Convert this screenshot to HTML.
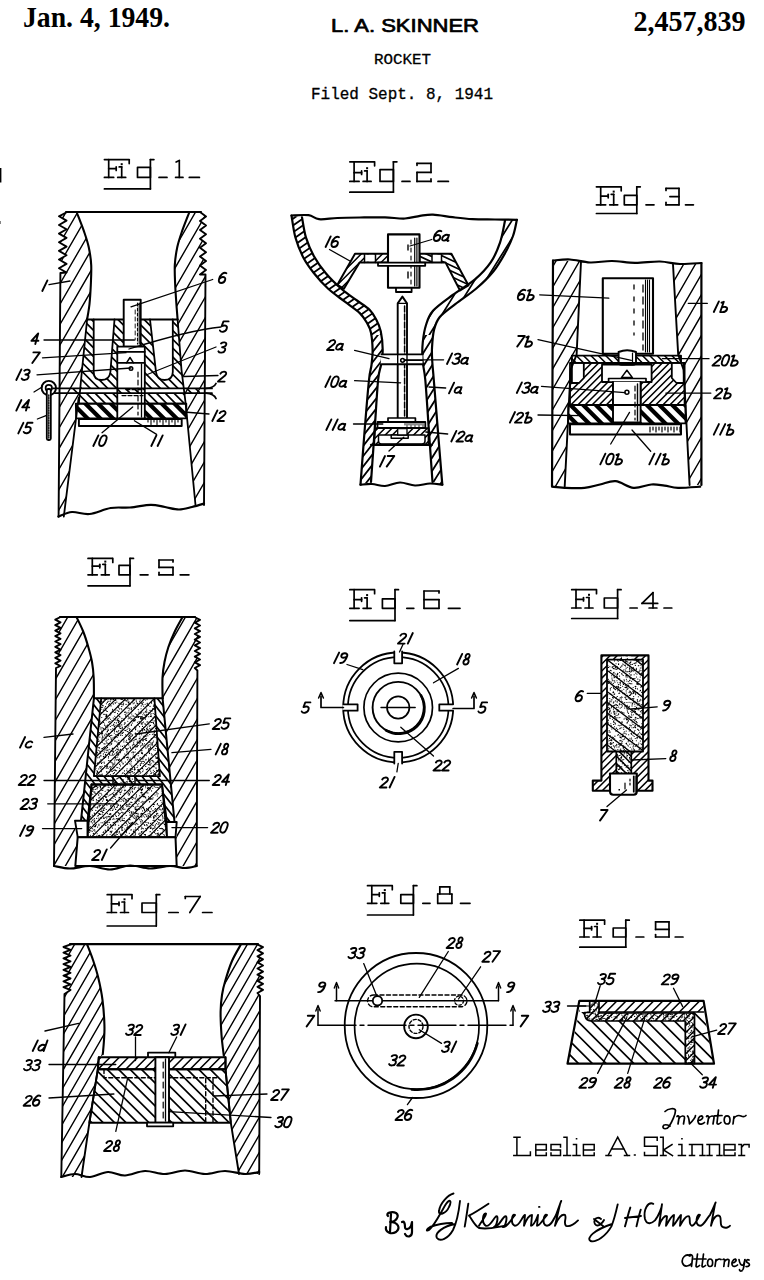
<!DOCTYPE html>
<html><head><meta charset="utf-8"><title>Rocket patent</title>
<style>html,body{margin:0;padding:0;background:#fff;width:764px;height:1280px;overflow:hidden}
svg{display:block;font-family:"Liberation Sans",sans-serif}</style></head>
<body><svg width="764" height="1280" viewBox="0 0 764 1280"><defs><pattern id="hW" width="10.4" height="10.4" patternUnits="userSpaceOnUse" patternTransform="rotate(30)"><line x1="5.2" y1="-2" x2="5.2" y2="12.4" stroke="#000" stroke-width="1.7"/></pattern><pattern id="hW2" width="9" height="9" patternUnits="userSpaceOnUse" patternTransform="rotate(35)"><line x1="4.5" y1="-2" x2="4.5" y2="11" stroke="#000" stroke-width="1.7"/></pattern><pattern id="hB" width="5.2" height="5.2" patternUnits="userSpaceOnUse" patternTransform="rotate(-45)"><line x1="2.6" y1="-2" x2="2.6" y2="7.2" stroke="#000" stroke-width="1.5"/></pattern><pattern id="hB6" width="6.2" height="6.2" patternUnits="userSpaceOnUse" patternTransform="rotate(-40)"><line x1="3.1" y1="-2" x2="3.1" y2="8.2" stroke="#000" stroke-width="1.7"/></pattern><pattern id="hF" width="5" height="5" patternUnits="userSpaceOnUse" patternTransform="rotate(45)"><line x1="2.5" y1="-2" x2="2.5" y2="7" stroke="#000" stroke-width="1.5"/></pattern><pattern id="hF6" width="6.5" height="6.5" patternUnits="userSpaceOnUse" patternTransform="rotate(45)"><line x1="3.2" y1="-2" x2="3.2" y2="8.5" stroke="#000" stroke-width="1.5"/></pattern><pattern id="hK" width="9" height="9" patternUnits="userSpaceOnUse" patternTransform="rotate(-45)"><line x1="4.5" y1="-2" x2="4.5" y2="11" stroke="#000" stroke-width="4.2"/></pattern><pattern id="hS" width="5" height="5" patternUnits="userSpaceOnUse" patternTransform="rotate(-45)"><line x1="2.5" y1="-2" x2="2.5" y2="7" stroke="#000" stroke-width="1.9"/></pattern><pattern id="hS2" width="7" height="7" patternUnits="userSpaceOnUse" patternTransform="rotate(40)"><line x1="3.5" y1="-2" x2="3.5" y2="9" stroke="#000" stroke-width="1.7"/></pattern><pattern id="hN" width="9" height="9" patternUnits="userSpaceOnUse" patternTransform="rotate(45)"><line x1="4.5" y1="-2" x2="4.5" y2="11" stroke="#000" stroke-width="1.5"/></pattern><pattern id="hN2" width="10" height="10" patternUnits="userSpaceOnUse" patternTransform="rotate(-55)"><line x1="5" y1="-2" x2="5" y2="12" stroke="#000" stroke-width="1.5"/></pattern><pattern id="st" width="14" height="14" patternUnits="userSpaceOnUse"><g fill="#000" stroke="none"><circle cx="3.3" cy="7.6" r="0.6"/><circle cx="5.2" cy="8.5" r="0.6"/><circle cx="8.8" cy="0.9" r="0.6"/><circle cx="0.2" cy="11.7" r="0.6"/><circle cx="3.6" cy="3.3" r="0.6"/><circle cx="13.9" cy="6.6" r="0.6"/><circle cx="11.7" cy="6.7" r="0.6"/><circle cx="8.9" cy="2.1" r="0.6"/><circle cx="8.9" cy="12.2" r="0.6"/><circle cx="7.3" cy="10.4" r="0.6"/><circle cx="9.4" cy="0.9" r="0.6"/><circle cx="10.6" cy="8.3" r="0.6"/><circle cx="4.2" cy="0.4" r="0.6"/><circle cx="12.1" cy="6.6" r="0.6"/><circle cx="10.1" cy="12.3" r="0.6"/><circle cx="10" cy="12.9" r="0.6"/><circle cx="5.5" cy="11.2" r="0.6"/><circle cx="6.2" cy="13.1" r="0.6"/><circle cx="12.3" cy="1.4" r="0.6"/><circle cx="1.9" cy="3" r="0.6"/><circle cx="13.5" cy="6.1" r="0.6"/><circle cx="8.8" cy="4.2" r="0.6"/><circle cx="7.1" cy="5.4" r="0.6"/><circle cx="4.9" cy="8.2" r="0.6"/><circle cx="8.2" cy="12.7" r="0.6"/><circle cx="9.5" cy="13" r="0.6"/></g></pattern></defs><rect width="764" height="1280" fill="#fff"/><g stroke="#000" stroke-linecap="round" stroke-linejoin="round" fill="#000" font-family="Liberation Sans" font-style="italic"><text stroke="none" font-style="normal" x="23" y="27" font-family="Liberation Serif" font-weight="bold" font-size="30" textLength="147" lengthAdjust="spacingAndGlyphs">Jan. 4, 1949.</text>
<text stroke="none" font-style="normal" x="633.5" y="31" font-family="Liberation Serif" font-weight="bold" font-size="29" textLength="112" lengthAdjust="spacingAndGlyphs">2,457,839</text>
<text stroke="#000" stroke-width="0.7" font-style="normal" x="331" y="32" font-family="Liberation Sans" font-size="18" textLength="148" lengthAdjust="spacingAndGlyphs">L. A. SKINNER</text>
<text stroke="#000" stroke-width="0.3" font-style="normal" x="374" y="64" font-family="Liberation Mono" font-size="15.5" textLength="57" lengthAdjust="spacingAndGlyphs">ROCKET</text>
<text stroke="#000" stroke-width="0.3" font-style="normal" x="311" y="99" font-family="Liberation Mono" font-size="16" textLength="182" lengthAdjust="spacingAndGlyphs">Filed Sept. 8, 1941</text>
<line x1="104.4" y1="159.6" x2="128.7" y2="159.6" stroke-width="1.7"/>
<line x1="129.2" y1="159.6" x2="129.2" y2="163.6" stroke-width="1.7"/>
<line x1="108.7" y1="159.6" x2="108.7" y2="177.4" stroke-width="1.7"/>
<line x1="108.7" y1="168.7" x2="116.2" y2="168.7" stroke-width="1.7"/>
<line x1="116.2" y1="166.9" x2="116.2" y2="170.4" stroke-width="1.7"/>
<line x1="104.4" y1="177.4" x2="113.7" y2="177.4" stroke-width="1.7"/>
<line x1="121.7" y1="166.9" x2="121.7" y2="177.4" stroke-width="1.7"/>
<line x1="119.2" y1="166.9" x2="121.7" y2="166.9" stroke-width="1.7"/>
<line x1="117.7" y1="177.4" x2="125.7" y2="177.4" stroke-width="1.7"/>
<rect x="120.7" y="163.2" width="2" height="2" stroke="none" fill="#000"/>
<rect x="137.5" y="167.3" width="12.9" height="10.1" stroke-width="1.7" fill="none"/>
<line x1="150.4" y1="159.6" x2="150.4" y2="188.9" stroke-width="1.7"/>
<line x1="150.4" y1="159.6" x2="153.9" y2="159.6" stroke-width="1.7"/>
<line x1="104.4" y1="188.9" x2="150.4" y2="188.9" stroke-width="1.7"/>
<line x1="159" y1="177.4" x2="167" y2="177.4" stroke-width="1.7"/>
<line x1="189.3" y1="177.4" x2="199.4" y2="177.4" stroke-width="1.7"/>
<line x1="179.3" y1="160.5" x2="179.3" y2="177.4" stroke-width="1.7"/>
<line x1="176.1" y1="162" x2="179.3" y2="160.5" stroke-width="1.7"/>
<line x1="175.6" y1="177.4" x2="183" y2="177.4" stroke-width="1.7"/>
<line x1="349.8" y1="161.8" x2="374.1" y2="161.8" stroke-width="1.7"/>
<line x1="374.6" y1="161.8" x2="374.6" y2="165.8" stroke-width="1.7"/>
<line x1="354.1" y1="161.8" x2="354.1" y2="181.4" stroke-width="1.7"/>
<line x1="354.1" y1="172.7" x2="361.6" y2="172.7" stroke-width="1.7"/>
<line x1="361.6" y1="170.9" x2="361.6" y2="174.4" stroke-width="1.7"/>
<line x1="349.8" y1="181.4" x2="359.1" y2="181.4" stroke-width="1.7"/>
<line x1="367.1" y1="170.9" x2="367.1" y2="181.4" stroke-width="1.7"/>
<line x1="364.6" y1="170.9" x2="367.1" y2="170.9" stroke-width="1.7"/>
<line x1="363.1" y1="181.4" x2="371.1" y2="181.4" stroke-width="1.7"/>
<rect x="366.1" y="167.2" width="2" height="2" stroke="none" fill="#000"/>
<rect x="380" y="169.6" width="13.4" height="11.8" stroke-width="1.7" fill="none"/>
<line x1="393.4" y1="161.8" x2="393.4" y2="192.2" stroke-width="1.7"/>
<line x1="393.4" y1="161.8" x2="396.9" y2="161.8" stroke-width="1.7"/>
<line x1="349.8" y1="192.2" x2="393.4" y2="192.2" stroke-width="1.7"/>
<line x1="402" y1="181.4" x2="410" y2="181.4" stroke-width="1.7"/>
<line x1="438" y1="181.4" x2="448.4" y2="181.4" stroke-width="1.7"/>
<line x1="417" y1="165.3" x2="417" y2="163.3" stroke-width="1.7"/>
<line x1="417" y1="163.3" x2="431" y2="163.3" stroke-width="1.7"/>
<line x1="431" y1="163.3" x2="431" y2="172.4" stroke-width="1.7"/>
<line x1="431" y1="172.4" x2="417" y2="172.4" stroke-width="1.7"/>
<line x1="417" y1="172.4" x2="417" y2="181.4" stroke-width="1.7"/>
<line x1="417" y1="181.4" x2="431" y2="181.4" stroke-width="1.7"/>
<line x1="431" y1="181.4" x2="431" y2="178.9" stroke-width="1.7"/>
<line x1="596.4" y1="186.8" x2="620.7" y2="186.8" stroke-width="1.7"/>
<line x1="621.2" y1="186.8" x2="621.2" y2="190.8" stroke-width="1.7"/>
<line x1="600.7" y1="186.8" x2="600.7" y2="204.8" stroke-width="1.7"/>
<line x1="600.7" y1="196.1" x2="608.2" y2="196.1" stroke-width="1.7"/>
<line x1="608.2" y1="194.3" x2="608.2" y2="197.8" stroke-width="1.7"/>
<line x1="596.4" y1="204.8" x2="605.7" y2="204.8" stroke-width="1.7"/>
<line x1="613.7" y1="194.3" x2="613.7" y2="204.8" stroke-width="1.7"/>
<line x1="611.2" y1="194.3" x2="613.7" y2="194.3" stroke-width="1.7"/>
<line x1="609.7" y1="204.8" x2="617.7" y2="204.8" stroke-width="1.7"/>
<rect x="612.7" y="190.6" width="2" height="2" stroke="none" fill="#000"/>
<rect x="624.3" y="195.4" width="12.5" height="9.4" stroke-width="1.7" fill="none"/>
<line x1="636.8" y1="186.8" x2="636.8" y2="213.5" stroke-width="1.7"/>
<line x1="636.8" y1="186.8" x2="640.3" y2="186.8" stroke-width="1.7"/>
<line x1="596.4" y1="213.5" x2="636.8" y2="213.5" stroke-width="1.7"/>
<line x1="646" y1="204.8" x2="654" y2="204.8" stroke-width="1.7"/>
<line x1="685.5" y1="204.8" x2="693.4" y2="204.8" stroke-width="1.7"/>
<line x1="666" y1="190.4" x2="666" y2="188.4" stroke-width="1.7"/>
<line x1="666" y1="188.4" x2="679" y2="188.4" stroke-width="1.7"/>
<line x1="679" y1="188.4" x2="679" y2="204.8" stroke-width="1.7"/>
<line x1="669.9" y1="196.6" x2="679" y2="196.6" stroke-width="1.7"/>
<line x1="666" y1="204.8" x2="679" y2="204.8" stroke-width="1.7"/>
<line x1="666" y1="204.8" x2="666" y2="202.3" stroke-width="1.7"/>
<line x1="88" y1="558.4" x2="112.3" y2="558.4" stroke-width="1.7"/>
<line x1="112.8" y1="558.4" x2="112.8" y2="562.4" stroke-width="1.7"/>
<line x1="92.3" y1="558.4" x2="92.3" y2="574.8" stroke-width="1.7"/>
<line x1="92.3" y1="566.1" x2="99.8" y2="566.1" stroke-width="1.7"/>
<line x1="99.8" y1="564.3" x2="99.8" y2="567.8" stroke-width="1.7"/>
<line x1="88" y1="574.8" x2="97.3" y2="574.8" stroke-width="1.7"/>
<line x1="105.3" y1="564.3" x2="105.3" y2="574.8" stroke-width="1.7"/>
<line x1="102.8" y1="564.3" x2="105.3" y2="564.3" stroke-width="1.7"/>
<line x1="101.3" y1="574.8" x2="109.3" y2="574.8" stroke-width="1.7"/>
<rect x="104.3" y="560.6" width="2" height="2" stroke="none" fill="#000"/>
<rect x="119" y="565.4" width="11" height="9.4" stroke-width="1.7" fill="none"/>
<line x1="130" y1="558.4" x2="130" y2="585.8" stroke-width="1.7"/>
<line x1="130" y1="558.4" x2="133.5" y2="558.4" stroke-width="1.7"/>
<line x1="88" y1="585.8" x2="130" y2="585.8" stroke-width="1.7"/>
<line x1="140.2" y1="574.8" x2="148" y2="574.8" stroke-width="1.7"/>
<line x1="180.2" y1="574.8" x2="188.9" y2="574.8" stroke-width="1.7"/>
<line x1="173" y1="562" x2="173" y2="560" stroke-width="1.7"/>
<line x1="173" y1="560" x2="159" y2="560" stroke-width="1.7"/>
<line x1="159" y1="560" x2="159" y2="567.4" stroke-width="1.7"/>
<line x1="159" y1="567.4" x2="173" y2="567.4" stroke-width="1.7"/>
<line x1="173" y1="567.4" x2="173" y2="574.8" stroke-width="1.7"/>
<line x1="173" y1="574.8" x2="159" y2="574.8" stroke-width="1.7"/>
<line x1="159" y1="574.8" x2="159" y2="572.3" stroke-width="1.7"/>
<line x1="349.8" y1="589.7" x2="374.1" y2="589.7" stroke-width="1.7"/>
<line x1="374.6" y1="589.7" x2="374.6" y2="593.7" stroke-width="1.7"/>
<line x1="354.1" y1="589.7" x2="354.1" y2="608.3" stroke-width="1.7"/>
<line x1="354.1" y1="599.6" x2="361.6" y2="599.6" stroke-width="1.7"/>
<line x1="361.6" y1="597.8" x2="361.6" y2="601.3" stroke-width="1.7"/>
<line x1="349.8" y1="608.3" x2="359.1" y2="608.3" stroke-width="1.7"/>
<line x1="367.1" y1="597.8" x2="367.1" y2="608.3" stroke-width="1.7"/>
<line x1="364.6" y1="597.8" x2="367.1" y2="597.8" stroke-width="1.7"/>
<line x1="363.1" y1="608.3" x2="371.1" y2="608.3" stroke-width="1.7"/>
<rect x="366.1" y="594.1" width="2" height="2" stroke="none" fill="#000"/>
<rect x="382.4" y="598.8" width="12.6" height="9.5" stroke-width="1.7" fill="none"/>
<line x1="395" y1="589.7" x2="395" y2="620.6" stroke-width="1.7"/>
<line x1="395" y1="589.7" x2="398.5" y2="589.7" stroke-width="1.7"/>
<line x1="349.8" y1="620.6" x2="395" y2="620.6" stroke-width="1.7"/>
<line x1="406.8" y1="608.3" x2="413.8" y2="608.3" stroke-width="1.7"/>
<line x1="448.4" y1="608.3" x2="460" y2="608.3" stroke-width="1.7"/>
<line x1="439" y1="593" x2="439" y2="591" stroke-width="1.7"/>
<line x1="439" y1="591" x2="424" y2="591" stroke-width="1.7"/>
<line x1="424" y1="591" x2="424" y2="608.3" stroke-width="1.7"/>
<line x1="424" y1="608.3" x2="439" y2="608.3" stroke-width="1.7"/>
<line x1="439" y1="608.3" x2="439" y2="599.6" stroke-width="1.7"/>
<line x1="439" y1="599.6" x2="424" y2="599.6" stroke-width="1.7"/>
<line x1="571.7" y1="589.7" x2="596" y2="589.7" stroke-width="1.7"/>
<line x1="596.5" y1="589.7" x2="596.5" y2="593.7" stroke-width="1.7"/>
<line x1="576" y1="589.7" x2="576" y2="608" stroke-width="1.7"/>
<line x1="576" y1="599.3" x2="583.5" y2="599.3" stroke-width="1.7"/>
<line x1="583.5" y1="597.5" x2="583.5" y2="601" stroke-width="1.7"/>
<line x1="571.7" y1="608" x2="581" y2="608" stroke-width="1.7"/>
<line x1="589" y1="597.5" x2="589" y2="608" stroke-width="1.7"/>
<line x1="586.5" y1="597.5" x2="589" y2="597.5" stroke-width="1.7"/>
<line x1="585" y1="608" x2="593" y2="608" stroke-width="1.7"/>
<rect x="588" y="593.8" width="2" height="2" stroke="none" fill="#000"/>
<rect x="604.3" y="598" width="13.3" height="10" stroke-width="1.7" fill="none"/>
<line x1="617.6" y1="589.7" x2="617.6" y2="618.5" stroke-width="1.7"/>
<line x1="617.6" y1="589.7" x2="621.1" y2="589.7" stroke-width="1.7"/>
<line x1="571.7" y1="618.5" x2="617.6" y2="618.5" stroke-width="1.7"/>
<line x1="630" y1="608" x2="637.2" y2="608" stroke-width="1.7"/>
<line x1="664" y1="608" x2="671.8" y2="608" stroke-width="1.7"/>
<line x1="653" y1="592.6" x2="642" y2="603.4" stroke-width="1.7"/>
<line x1="642" y1="603.4" x2="657.7" y2="603.4" stroke-width="1.7"/>
<line x1="653" y1="592.6" x2="653" y2="608" stroke-width="1.7"/>
<line x1="649.1" y1="608" x2="656.9" y2="608" stroke-width="1.7"/>
<line x1="107.2" y1="894.7" x2="131.5" y2="894.7" stroke-width="1.7"/>
<line x1="132" y1="894.7" x2="132" y2="898.7" stroke-width="1.7"/>
<line x1="111.5" y1="894.7" x2="111.5" y2="912.5" stroke-width="1.7"/>
<line x1="111.5" y1="903.8" x2="119" y2="903.8" stroke-width="1.7"/>
<line x1="119" y1="902" x2="119" y2="905.5" stroke-width="1.7"/>
<line x1="107.2" y1="912.5" x2="116.5" y2="912.5" stroke-width="1.7"/>
<line x1="124.5" y1="902" x2="124.5" y2="912.5" stroke-width="1.7"/>
<line x1="122" y1="902" x2="124.5" y2="902" stroke-width="1.7"/>
<line x1="120.5" y1="912.5" x2="128.5" y2="912.5" stroke-width="1.7"/>
<rect x="123.5" y="898.3" width="2" height="2" stroke="none" fill="#000"/>
<rect x="142" y="903" width="14.3" height="9.5" stroke-width="1.7" fill="none"/>
<line x1="156.3" y1="894.7" x2="156.3" y2="926" stroke-width="1.7"/>
<line x1="156.3" y1="894.7" x2="159.8" y2="894.7" stroke-width="1.7"/>
<line x1="107.2" y1="926" x2="156.3" y2="926" stroke-width="1.7"/>
<line x1="168.8" y1="912.5" x2="178.2" y2="912.5" stroke-width="1.7"/>
<line x1="202.6" y1="912.5" x2="212" y2="912.5" stroke-width="1.7"/>
<line x1="185.3" y1="898.5" x2="185.3" y2="896.5" stroke-width="1.7"/>
<line x1="185.3" y1="896.5" x2="200.2" y2="896.5" stroke-width="1.7"/>
<line x1="200.2" y1="896.5" x2="189.8" y2="912.5" stroke-width="1.7"/>
<line x1="367.5" y1="885.7" x2="391.8" y2="885.7" stroke-width="1.7"/>
<line x1="392.3" y1="885.7" x2="392.3" y2="889.7" stroke-width="1.7"/>
<line x1="371.8" y1="885.7" x2="371.8" y2="903.3" stroke-width="1.7"/>
<line x1="371.8" y1="894.6" x2="379.3" y2="894.6" stroke-width="1.7"/>
<line x1="379.3" y1="892.8" x2="379.3" y2="896.3" stroke-width="1.7"/>
<line x1="367.5" y1="903.3" x2="376.8" y2="903.3" stroke-width="1.7"/>
<line x1="384.8" y1="892.8" x2="384.8" y2="903.3" stroke-width="1.7"/>
<line x1="382.3" y1="892.8" x2="384.8" y2="892.8" stroke-width="1.7"/>
<line x1="380.8" y1="903.3" x2="388.8" y2="903.3" stroke-width="1.7"/>
<rect x="383.8" y="889.1" width="2" height="2" stroke="none" fill="#000"/>
<rect x="400.8" y="894.6" width="12.6" height="8.7" stroke-width="1.7" fill="none"/>
<line x1="413.4" y1="885.7" x2="413.4" y2="915" stroke-width="1.7"/>
<line x1="413.4" y1="885.7" x2="416.9" y2="885.7" stroke-width="1.7"/>
<line x1="367.5" y1="915" x2="413.4" y2="915" stroke-width="1.7"/>
<line x1="422.8" y1="903.3" x2="430" y2="903.3" stroke-width="1.7"/>
<line x1="460.5" y1="903.3" x2="470" y2="903.3" stroke-width="1.7"/>
<line x1="439.8" y1="886.8" x2="449.8" y2="886.8" stroke-width="1.7"/>
<line x1="439.8" y1="886.8" x2="439.8" y2="894" stroke-width="1.7"/>
<line x1="449.8" y1="886.8" x2="449.8" y2="894" stroke-width="1.7"/>
<line x1="437.7" y1="894" x2="451.9" y2="894" stroke-width="1.7"/>
<line x1="437.7" y1="894" x2="437.7" y2="903.3" stroke-width="1.7"/>
<line x1="451.9" y1="894" x2="451.9" y2="903.3" stroke-width="1.7"/>
<line x1="437.7" y1="903.3" x2="451.9" y2="903.3" stroke-width="1.7"/>
<line x1="579.8" y1="920.2" x2="604.1" y2="920.2" stroke-width="1.7"/>
<line x1="604.6" y1="920.2" x2="604.6" y2="924.2" stroke-width="1.7"/>
<line x1="584.1" y1="920.2" x2="584.1" y2="937" stroke-width="1.7"/>
<line x1="584.1" y1="928.3" x2="591.6" y2="928.3" stroke-width="1.7"/>
<line x1="591.6" y1="926.5" x2="591.6" y2="930" stroke-width="1.7"/>
<line x1="579.8" y1="937" x2="589.1" y2="937" stroke-width="1.7"/>
<line x1="597.1" y1="926.5" x2="597.1" y2="937" stroke-width="1.7"/>
<line x1="594.6" y1="926.5" x2="597.1" y2="926.5" stroke-width="1.7"/>
<line x1="593.1" y1="937" x2="601.1" y2="937" stroke-width="1.7"/>
<rect x="596.1" y="922.8" width="2" height="2" stroke="none" fill="#000"/>
<rect x="613.2" y="928" width="12.6" height="9" stroke-width="1.7" fill="none"/>
<line x1="625.8" y1="920.2" x2="625.8" y2="947.2" stroke-width="1.7"/>
<line x1="625.8" y1="920.2" x2="629.3" y2="920.2" stroke-width="1.7"/>
<line x1="579.8" y1="947.2" x2="625.8" y2="947.2" stroke-width="1.7"/>
<line x1="636" y1="937" x2="643.8" y2="937" stroke-width="1.7"/>
<line x1="675.2" y1="937" x2="683" y2="937" stroke-width="1.7"/>
<line x1="655.6" y1="921.8" x2="669" y2="921.8" stroke-width="1.7"/>
<line x1="655.6" y1="921.8" x2="655.6" y2="929.4" stroke-width="1.7"/>
<line x1="655.6" y1="929.4" x2="669" y2="929.4" stroke-width="1.7"/>
<line x1="669" y1="921.8" x2="669" y2="937" stroke-width="1.7"/>
<line x1="669" y1="937" x2="655.6" y2="937" stroke-width="1.7"/>
<line x1="655.6" y1="937" x2="655.6" y2="934.5" stroke-width="1.7"/>
<clipPath id="c1"><path clip-rule="nonzero" d="M67 212 L59 216.3 L66.5 220.6 L59 225 L66.5 229.3 L59 233.6 L66.5 237.9 L59 242.2 L66.5 246.6 L59 250.9 L66.5 255.2 L59 259.5 L66.5 263.9 L59 268.2 L66.5 272.5 L60.4 273 L58.6 516.6 L63.8 516.6 L78.6 398 L82 370 L87.1 319.5 C87.5 316.9 88.9 309.8 89.5 304 C90.1 298.2 90.5 291.5 90.8 285 C91.1 278.5 91.5 271.3 91.2 265 C90.9 258.7 89.9 252.6 88.7 247 C87.5 241.4 86 237.2 84 231.4 C82 225.6 77.8 215.2 76.6 212 Z"/></clipPath><g clip-path="url(#c1)"><path d="M-147 417.8 L10.4 145.2 M-138.2 422.9 L19.2 150.3 M-129.3 428 L28.1 155.4 M-120.5 433.1 L36.9 160.5 M-111.7 438.2 L45.7 165.6 M-102.8 443.3 L54.6 170.7 M-94 448.4 L63.4 175.8 M-85.2 453.5 L72.2 180.9 M-76.3 458.6 L81.1 186 M-67.5 463.7 L89.9 191.1 M-58.7 468.8 L98.7 196.2 M-49.8 473.9 L107.6 201.3 M-41 479 L116.4 206.4 M-32.2 484.1 L125.2 211.5 M-23.3 489.2 L134.1 216.6 M-14.5 494.3 L142.9 221.7 M-5.7 499.4 L151.7 226.8 M3.2 504.5 L160.6 231.9 M12 509.6 L169.4 237 M20.8 514.7 L178.2 242.1 M29.7 519.8 L187.1 247.2 M38.5 524.9 L195.9 252.3 M47.3 530 L204.7 257.4 M56.2 535.1 L213.6 262.5 M65 540.2 L222.4 267.6 M73.8 545.3 L231.2 272.7 M82.7 550.4 L240.1 277.8 M91.5 555.5 L248.9 282.9 M100.3 560.6 L257.7 288 M109.2 565.7 L266.6 293.1 M118 570.8 L275.4 298.2 M126.8 575.9 L284.2 303.3 M135.7 581 L293.1 308.4" stroke-width="1.4" fill="none"/></g>
<path d="M67 212 L59 216.3 L66.5 220.6 L59 225 L66.5 229.3 L59 233.6 L66.5 237.9 L59 242.2 L66.5 246.6 L59 250.9 L66.5 255.2 L59 259.5 L66.5 263.9 L59 268.2 L66.5 272.5 L60.4 273 L58.6 516.6" stroke-width="1.9" fill="none"/>
<path d="M76.6 212 C77.8 215.2 82 225.6 84 231.4 C86 237.2 87.5 241.4 88.7 247 C89.9 252.6 90.9 258.7 91.2 265 C91.5 271.3 91.1 278.5 90.8 285 C90.5 291.5 90.1 298.2 89.5 304 C88.9 309.8 87.5 316.9 87.1 319.5" stroke-width="2.1" fill="none"/>
<path d="M63.8 516.6 L78.6 398" stroke-width="1.8" fill="none"/>
<clipPath id="c2"><path clip-rule="nonzero" d="M200 212 L206 216.5 L200 220.9 L206 225.4 L200 229.9 L206 234.3 L200 238.8 L206 243.2 L200 247.7 L206 252.2 L200 256.6 L206 261.1 L200 265.6 L206 270 L200 274.5 L205.5 274.5 L204 505 L195.5 505 L185.6 403 L181.5 370 L177.6 319.5 C177.4 316.9 176.8 309.8 176.4 304 C176 298.2 175.5 291.5 175.2 285 C174.9 278.5 174.5 271.3 174.8 265 C175.2 258.7 176.1 252.6 177.3 247 C178.5 241.4 180 237.2 182 231.4 C184 225.6 188.2 215.2 189.4 212 Z"/></clipPath><g clip-path="url(#c2)"><path d="M-24.4 409.5 L127.1 147 M-15.6 414.6 L135.9 152.1 M-6.8 419.7 L144.8 157.2 M2.1 424.8 L153.6 162.3 M10.9 429.9 L162.4 167.4 M19.7 435 L171.3 172.5 M28.6 440.1 L180.1 177.6 M37.4 445.2 L188.9 182.7 M46.2 450.3 L197.8 187.8 M55.1 455.4 L206.6 192.9 M63.9 460.5 L215.4 198 M72.7 465.6 L224.3 203.1 M81.6 470.7 L233.1 208.2 M90.4 475.8 L241.9 213.3 M99.2 480.9 L250.8 218.4 M108.1 486 L259.6 223.5 M116.9 491.1 L268.4 228.6 M125.7 496.2 L277.3 233.7 M134.6 501.3 L286.1 238.8 M143.4 506.4 L294.9 243.9 M152.2 511.5 L303.8 249 M161.1 516.6 L312.6 254.1 M169.9 521.7 L321.4 259.2 M178.7 526.8 L330.3 264.3 M187.6 531.9 L339.1 269.4 M196.4 537 L347.9 274.5 M205.2 542.1 L356.8 279.6 M214.1 547.2 L365.6 284.7 M222.9 552.3 L374.4 289.8 M231.7 557.4 L383.3 294.9 M240.6 562.5 L392.1 300 M249.4 567.6 L400.9 305.1" stroke-width="1.4" fill="none"/></g>
<path d="M200 212 L206 216.5 L200 220.9 L206 225.4 L200 229.9 L206 234.3 L200 238.8 L206 243.2 L200 247.7 L206 252.2 L200 256.6 L206 261.1 L200 265.6 L206 270 L200 274.5 L205.5 274.5 L204 505" stroke-width="1.9" fill="none"/>
<path d="M189.4 212 C188.2 215.2 184 225.6 182 231.4 C180 237.2 178.5 241.4 177.3 247 C176.1 252.6 175.2 258.7 174.8 265 C174.5 271.3 174.9 278.5 175.2 285 C175.5 291.5 176 298.2 176.4 304 C176.8 309.8 177.4 316.9 177.6 319.5" stroke-width="2.1" fill="none"/>
<path d="M195.5 505 L185.6 403 L181.5 370 L177.6 319.5" stroke-width="1.8" fill="none"/>
<line x1="66" y1="212" x2="201" y2="212" stroke-width="2.1"/>
<path d="M58.4 516.6 C60.7 515.8 66.8 512.4 72 512 C77.2 511.6 83 514.7 89.5 514 C96 513.3 104 509.1 110.7 508 C117.5 506.9 123.3 508 130 507.5 C136.7 507 144.9 504.9 150.7 504.8 C156.5 504.7 160.3 506.2 165 507 C169.7 507.8 174.5 509.5 179 509.5 C183.5 509.5 187.8 508 192 507 C196.2 506 202 504.2 204 503.6" stroke-width="2.2" fill="none"/>
<clipPath id="hc1"><path clip-rule="evenodd" d="M87.1 319.5 L177.6 319.5 L181.5 370 L184 389 L184.8 403.6 L78.8 403.6 L80.2 389 L82 370 Z M93.7 319.5 L93.7 372 Q93.7 380 101.5 380 Q109.5 380 110.4 372 L114.5 319.5 Z M150 319.5 L156 372 Q157 380 164.5 380 Q172.5 380 172.8 372 L172.8 319.5 Z M123.7 319.5 L140.7 319.5 L140.7 346.6 L144.8 346.6 L144.8 403.6 L117.3 403.6 L117.3 346.6 L123.7 346.6 Z M70 388.6 L200 388.6 L200 393.4 L70 393.4 Z"/></clipPath>
<g clip-path="url(#hc1)"><path d="M137.9 234.3 L260.7 357.1 M133.5 238.7 L256.3 361.5 M129.1 243.1 L251.9 365.9 M124.7 247.5 L247.5 370.3 M120.4 251.9 L243.1 374.6 M116 256.3 L238.7 379 M111.6 260.6 L234.4 383.4 M107.2 265 L230 387.8 M102.8 269.4 L225.6 392.2 M98.4 273.8 L221.2 396.6 M94 278.2 L216.8 401 M89.7 282.6 L212.4 405.3 M85.3 286.9 L208.1 409.7 M80.9 291.3 L203.7 414.1 M76.5 295.7 L199.3 418.5 M72.1 300.1 L194.9 422.9 M67.7 304.5 L190.5 427.3 M63.4 308.9 L186.1 431.6 M59 313.3 L181.7 436 M54.6 317.6 L177.4 440.4 M50.2 322 L173 444.8 M45.8 326.4 L168.6 449.2 M41.4 330.8 L164.2 453.6 M37.1 335.2 L159.8 457.9 M32.7 339.6 L155.4 462.3 M28.3 343.9 L151.1 466.7 M23.9 348.3 L146.7 471.1 M19.5 352.7 L142.3 475.5 M15.1 357.1 L137.9 479.9 M10.8 361.5 L133.5 484.2" stroke-width="1.7" fill="none"/></g>
<path d="M93.7 319.5 L93.7 372 Q93.7 380 101.5 380 Q109.5 380 110.4 372 L114.5 319.5" stroke-width="1.8" fill="none"/>
<path d="M150 319.5 L156 372 Q157 380 164.5 380 Q172.5 380 172.8 372 L172.8 319.5" stroke-width="1.8" fill="none"/>
<line x1="87.1" y1="319.5" x2="177.6" y2="319.5" stroke-width="1.8"/>
<line x1="78.8" y1="403.6" x2="184.8" y2="403.6" stroke-width="1.7"/>
<rect x="123.7" y="299.8" width="17" height="46.8" fill="#fff" stroke-width="1.9"/>
<line x1="137.5" y1="303" x2="137.5" y2="344" stroke-width="1.1" stroke-dasharray="3 2"/>
<line x1="139.2" y1="303" x2="139.2" y2="344" stroke-width="1.1"/>
<line x1="135.2" y1="310" x2="135.2" y2="340" stroke-width="0.9" stroke-dasharray="4 3"/>
<rect x="117.3" y="346.6" width="27.5" height="5.2" fill="#fff" stroke-width="1.8"/>
<line x1="117.3" y1="351.8" x2="117.3" y2="418.5" stroke-width="1.8"/>
<line x1="144.8" y1="351.8" x2="144.8" y2="418.5" stroke-width="1.8"/>
<line x1="117.3" y1="362.9" x2="144.8" y2="362.9" stroke-width="1.7"/>
<path d="M126.5 362.9 L130 357.5 L133.5 362.9" stroke-width="1.5" fill="none"/>
<circle cx="131" cy="368.5" r="1.8" fill="none" stroke-width="1.4"/>
<line x1="141.5" y1="364" x2="141.5" y2="417" stroke-width="1.3"/>
<line x1="138" y1="372" x2="138" y2="415" stroke-width="1.2" stroke-dasharray="5 3"/>
<line x1="126" y1="389.7" x2="143" y2="389.7" stroke-width="1.2" stroke-dasharray="4 2"/>
<line x1="122" y1="395.6" x2="143" y2="395.6" stroke-width="1.2" stroke-dasharray="4 2"/>
<line x1="53" y1="388.4" x2="212" y2="388.4" stroke-width="1.8"/>
<line x1="55" y1="393.2" x2="212" y2="393.2" stroke-width="1.8"/>
<path d="M206 388.4 Q214 388 216 383.5" stroke-width="1.8" fill="none"/>
<path d="M206 393.2 Q214 394 216 398.5" stroke-width="1.8" fill="none"/>
<circle cx="48.8" cy="388.1" r="7.2" fill="none" stroke-width="1.9"/>
<circle cx="48.8" cy="388.1" r="3.2" fill="none" stroke-width="1.7"/>
<rect x="46.8" y="389" width="4" height="51" rx="1.5" fill="#fff" stroke-width="1.8"/>
<line x1="48.8" y1="395" x2="48.8" y2="438" stroke-width="1.4" stroke-dasharray="1.2 1.3"/>
<clipPath id="wc1"><path d="M75.8 403.6 L117.3 403.6 L117.3 418.3 L76.2 418.3 Z M144.8 403.6 L186.3 403.6 L186.3 418.3 L144.8 418.3 Z"/></clipPath>
<g clip-path="url(#wc1)"><path d="M140.6 306.1 L239.9 405.4 M134.2 312.4 L233.6 411.8 M127.9 318.8 L227.2 418.1 M121.5 325.1 L220.9 424.5 M115.1 331.5 L214.5 430.9 M108.8 337.9 L208.1 437.2 M102.4 344.2 L201.8 443.6 M96 350.6 L195.4 450 M89.7 357 L189 456.3 M83.3 363.3 L182.7 462.7 M77 369.7 L176.3 469 M70.6 376.1 L169.9 475.4 M64.2 382.4 L163.6 481.8 M57.9 388.8 L157.2 488.1 M51.5 395.2 L150.8 494.5 M45.1 401.5 L144.5 500.9 M38.8 407.9 L138.1 507.2 M32.4 414.2 L131.8 513.6" stroke-width="4.2" fill="none"/></g>
<path d="M75.8 403.6 L186.3 403.6 L186.3 418.3 L76.2 418.3 Z" stroke-width="1.8" fill="none"/>
<rect x="78.9" y="419" width="102.8" height="7" fill="#fff" stroke-width="1.9"/>
<line x1="148" y1="420.5" x2="148" y2="422" stroke-width="1.1"/>
<line x1="151" y1="420.5" x2="151" y2="424.5" stroke-width="1.1"/>
<line x1="154" y1="420.5" x2="154" y2="422" stroke-width="1.1"/>
<line x1="157" y1="420.5" x2="157" y2="424.5" stroke-width="1.1"/>
<line x1="160" y1="420.5" x2="160" y2="422" stroke-width="1.1"/>
<line x1="163" y1="420.5" x2="163" y2="424.5" stroke-width="1.1"/>
<line x1="166" y1="420.5" x2="166" y2="422" stroke-width="1.1"/>
<line x1="169" y1="420.5" x2="169" y2="424.5" stroke-width="1.1"/>
<line x1="172" y1="420.5" x2="172" y2="422" stroke-width="1.1"/>
<line x1="175" y1="420.5" x2="175" y2="424.5" stroke-width="1.1"/>
<line x1="178" y1="420.5" x2="178" y2="422" stroke-width="1.1"/>
<path d="M 47.4 280.4 L 42.3 291" stroke-width="1.9" fill="none"/>
<path d="M 226.4 273.2 C 224.2 271.6 220.2 274.5 219 279.3 C 218.3 281.9 219.6 283 221.2 283 C 223.3 283 224.8 281.4 225.2 279.8 C 225.7 277.7 224.3 277 222.8 277 C 221.2 277 219.8 278.2 219 279.3" stroke-width="1.9" fill="none"/>
<path d="M 38.2 333.4 L 31.4 340.8 L 38.4 340.8 M 38.2 333.4 L 35.3 344" stroke-width="1.9" fill="none"/>
<path d="M 228.6 321.4 L 223.5 321.4 L 221.7 326 C 224.5 324.9 227.8 325.4 226.7 328.8 C 225.5 332.5 220.7 332.5 219.9 330.5" stroke-width="1.9" fill="none"/>
<path d="M 33.4 352.4 L 39.9 352.4 L 32.3 363" stroke-width="1.9" fill="none"/>
<path d="M 221 343.4 C 223 341.8 227.2 341.9 226.2 344.8 C 225.6 346.7 223.1 347.2 222.1 347.2 C 225.3 347.2 225.5 349 225 350.3 C 223.9 353.2 219.1 353.2 218.4 351.3" stroke-width="1.9" fill="none"/>
<path d="M 21.4 369.4 L 16.3 380 M 24.3 370.7 C 26.3 369.1 30.5 369.2 29.6 372.1 C 29 374 26.5 374.5 25.4 374.5 C 28.6 374.5 28.9 376.3 28.4 377.6 C 27.3 380.5 22.5 380.5 21.7 378.6" stroke-width="1.9" fill="none"/>
<path d="M 220.4 373.7 C 221.5 371.2 227 370.7 226.1 374 C 225.5 376.3 219.7 379 218 381.6 L 224.6 381.6" stroke-width="1.9" fill="none"/>
<path d="M 21.4 400 L 16.3 410.6 M 29 400 L 22.2 407.4 L 29.2 407.4 M 29 400 L 26 410.6" stroke-width="1.9" fill="none"/>
<path d="M 23.4 422.8 L 18.3 433.4 M 32.5 422.8 L 27.4 422.8 L 25.6 427.4 C 28.4 426.3 31.6 426.8 30.5 430.2 C 29.4 433.9 24.6 433.9 23.7 431.9" stroke-width="1.9" fill="none"/>
<path d="M 217.4 410.4 L 212.3 421 M 219.7 413.1 C 220.9 410.6 226.3 410.1 225.5 413.4 C 224.9 415.7 219.1 418.4 217.4 421 L 223.9 421" stroke-width="1.9" fill="none"/>
<path d="M 98.4 435.4 L 93.3 446 M 104.3 435.4 C 102 435.4 100 439.6 99.3 442.3 C 98.6 444.9 99.7 446 101.5 446 C 104 446 105.8 441.8 106.5 439.1 C 107.2 436.5 106 435.4 104.3 435.4 Z" stroke-width="1.9" fill="none"/>
<path d="M 156.4 435.4 L 151.3 446 M 162.7 435.4 L 157.6 446" stroke-width="1.9" fill="none"/>
<line x1="49" y1="284.7" x2="70" y2="281" stroke-width="1.3"/>
<line x1="212.7" y1="279.5" x2="131" y2="306.8" stroke-width="1.3"/>
<line x1="44" y1="340" x2="134.4" y2="340" stroke-width="1.3"/>
<line x1="126" y1="352.7" x2="42.5" y2="357.8" stroke-width="1.3"/>
<line x1="216" y1="347" x2="146" y2="375" stroke-width="1.3"/>
<line x1="37" y1="374.8" x2="131" y2="368" stroke-width="1.3"/>
<line x1="218" y1="375.5" x2="184" y2="376.5" stroke-width="1.3"/>
<line x1="34" y1="392" x2="42.5" y2="386.8" stroke-width="1.3"/>
<line x1="37.4" y1="419" x2="46" y2="415.7" stroke-width="1.3"/>
<line x1="209" y1="414" x2="184" y2="412" stroke-width="1.3"/>
<line x1="102" y1="432.7" x2="132.7" y2="407" stroke-width="1.3"/>
<line x1="156.6" y1="434.4" x2="134.4" y2="420.8" stroke-width="1.3"/>
<path d="M221 327 Q190 330 129 349" stroke-width="1.3" fill="none"/>
<path d="M87.1 319.5 L82 370 L80.2 389 L78.8 403.6" stroke-width="1.8" fill="none"/>
<rect x="0" y="168" width="1.4" height="14.5" stroke="none"/>
<rect x="0" y="221" width="0.9" height="3" stroke="none" fill="#777"/>
<clipPath id="y2top"><rect x="280" y="200" width="260" height="135"/></clipPath><clipPath id="y2bot"><rect x="280" y="335" width="260" height="160"/></clipPath>
<g clip-path="url(#y2top)"><clipPath id="c4"><path clip-rule="nonzero" d="M291.5 215.5 C292.2 219.2 293.5 230.7 295.5 237.7 C297.5 244.7 300.2 251.5 303.3 257.4 C306.4 263.3 309.7 267.8 313.8 273 C317.9 278.2 323 284 328.2 288.8 C333.4 293.6 339.9 297.8 345.2 301.9 C350.5 305.9 356.2 309.6 359.8 313.1 C363.4 316.6 365.1 319.6 367 322.9 C368.9 326.2 370.1 328.2 371 332.7 C371.9 337.2 372.5 344.6 372.6 350 C372.7 355.4 372.1 360 371.5 365 C370.9 370 370.2 368.8 369 380 C367.8 391.2 365.9 414.6 364.5 432 C363.1 449.4 361.2 475.9 360.5 484.7 L371 482 C371.6 473.7 373.3 449 374.5 432 C375.7 415 377 391.2 378.1 380 C379.2 368.8 380.2 370 381 365 C381.8 360 382.7 355.6 382.7 350 C382.7 344.4 381.9 336.5 380.8 331.4 C379.7 326.3 378.1 323.2 376.2 319.6 C374.3 316 372.8 313 369.6 309.8 C366.4 306.6 361.7 304 357 300.5 C352.3 297 346.5 293.4 341.3 288.8 C336.1 284.2 330.2 278.5 325.6 273 C321 267.5 317.1 261.9 313.8 256 C310.5 250.1 308 244.1 306 237.7 C304 231.3 302.7 220.8 302 217.4 Z"/></clipPath><g clip-path="url(#c4)"><path d="M131.1 311.6 L371.3 143.3 M134.3 316.1 L374.6 147.9 M137.5 320.7 L377.8 152.5 M140.7 325.3 L381 157.1 M143.9 329.9 L384.2 161.7 M147.1 334.5 L387.4 166.3 M150.4 339.1 L390.6 170.8 M153.6 343.7 L393.8 175.4 M156.8 348.3 L397 180 M160 352.8 L400.3 184.6 M163.2 357.4 L403.5 189.2 M166.4 362 L406.7 193.8 M169.6 366.6 L409.9 198.4 M172.8 371.2 L413.1 203 M176 375.8 L416.3 207.5 M179.3 380.4 L419.5 212.1 M182.5 385 L422.7 216.7 M185.7 389.5 L426 221.3 M188.9 394.1 L429.2 225.9 M192.1 398.7 L432.4 230.5 M195.3 403.3 L435.6 235.1 M198.5 407.9 L438.8 239.7 M201.7 412.5 L442 244.2 M205 417.1 L445.2 248.8 M208.2 421.7 L448.4 253.4 M211.4 426.2 L451.6 258 M214.6 430.8 L454.9 262.6 M217.8 435.4 L458.1 267.2 M221 440 L461.3 271.8 M224.2 444.6 L464.5 276.4 M227.4 449.2 L467.7 280.9 M230.7 453.8 L470.9 285.5 M233.9 458.4 L474.1 290.1 M237.1 462.9 L477.3 294.7 M240.3 467.5 L480.6 299.3 M243.5 472.1 L483.8 303.9 M246.7 476.7 L487 308.5 M249.9 481.3 L490.2 313.1 M253.1 485.9 L493.4 317.6 M256.3 490.5 L496.6 322.2 M259.6 495.1 L499.8 326.8 M262.8 499.6 L503 331.4 M266 504.2 L506.3 336 M269.2 508.8 L509.5 340.6 M272.4 513.4 L512.7 345.2 M275.6 518 L515.9 349.7 M278.8 522.6 L519.1 354.3 M282 527.2 L522.3 358.9 M285.3 531.7 L525.5 363.5 M288.5 536.3 L528.7 368.1 M291.7 540.9 L531.9 372.7 M294.9 545.5 L535.2 377.3 M298.1 550.1 L538.4 381.9 M301.3 554.7 L541.6 386.4" stroke-width="1.8" fill="none"/></g><clipPath id="c5"><path clip-rule="nonzero" d="M516.9 219.8 C516.2 222.5 515 230.4 513 236 C511 241.6 508.3 247.3 505 253.2 C501.7 259.1 498.1 265.6 493.3 271.5 C488.5 277.4 482.6 283.1 476.3 288.5 C470 293.9 461.4 299.4 455.3 304.2 C449.2 309 443.2 313 439.6 317.3 C436.1 321.6 435.3 324.9 434 330 C432.7 335.1 432.3 342.7 432 348 C431.7 353.3 432 356.7 432.3 362 C432.6 367.3 432.9 368.3 433.8 380 C434.8 391.7 436.6 414.6 438 432 C439.4 449.4 441.6 475.9 442.3 484.7 L432.5 482 C431.9 473.7 430.2 449 429 432 C427.8 415 426.4 392 425.3 380 C424.2 368 422.9 366.3 422.5 360 C422.1 353.7 422.2 347.8 422.8 342 C423.4 336.2 424.3 330.2 426 325 C427.7 319.8 428.6 315.8 433 310.8 C437.4 305.8 445.7 300.2 452.7 295 C459.7 289.8 468.7 284.8 475 279.4 C481.3 274 486.5 268.5 490.7 262.4 C494.9 256.3 497.6 249.7 500 242.7 C502.4 235.7 504.2 224.2 505 220.5 Z"/></clipPath><g clip-path="url(#c5)"><path d="M267.2 397.1 L421.1 150.7 M275.2 402.1 L429.2 155.8 M283.3 407.2 L437.2 160.8 M291.3 412.2 L445.3 165.8 M299.4 417.2 L453.3 170.9 M307.5 422.3 L461.4 175.9 M315.5 427.3 L469.4 181 M323.6 432.3 L477.5 186 M331.6 437.4 L485.6 191 M339.7 442.4 L493.6 196.1 M347.7 447.4 L501.7 201.1 M355.8 452.5 L509.7 206.1 M363.9 457.5 L517.8 211.2 M371.9 462.5 L525.8 216.2 M380 467.6 L533.9 221.2 M388 472.6 L542 226.3 M396.1 477.6 L550 231.3 M404.1 482.7 L558.1 236.3 M412.2 487.7 L566.1 241.4 M420.2 492.7 L574.2 246.4 M428.3 497.8 L582.2 251.4 M436.4 502.8 L590.3 256.5 M444.4 507.8 L598.3 261.5 M452.5 512.9 L606.4 266.5 M460.5 517.9 L614.5 271.6 M468.6 522.9 L622.5 276.6 M476.6 528 L630.6 281.6 M484.7 533 L638.6 286.7 M492.8 538 L646.7 291.7 M500.8 543.1 L654.7 296.7 M508.9 548.1 L662.8 301.8 M516.9 553.1 L670.9 306.8" stroke-width="1.7" fill="none"/></g></g>
<g clip-path="url(#y2bot)"><clipPath id="c6"><path clip-rule="nonzero" d="M291.5 215.5 C292.2 219.2 293.5 230.7 295.5 237.7 C297.5 244.7 300.2 251.5 303.3 257.4 C306.4 263.3 309.7 267.8 313.8 273 C317.9 278.2 323 284 328.2 288.8 C333.4 293.6 339.9 297.8 345.2 301.9 C350.5 305.9 356.2 309.6 359.8 313.1 C363.4 316.6 365.1 319.6 367 322.9 C368.9 326.2 370.1 328.2 371 332.7 C371.9 337.2 372.5 344.6 372.6 350 C372.7 355.4 372.1 360 371.5 365 C370.9 370 370.2 368.8 369 380 C367.8 391.2 365.9 414.6 364.5 432 C363.1 449.4 361.2 475.9 360.5 484.7 L371 482 C371.6 473.7 373.3 449 374.5 432 C375.7 415 377 391.2 378.1 380 C379.2 368.8 380.2 370 381 365 C381.8 360 382.7 355.6 382.7 350 C382.7 344.4 381.9 336.5 380.8 331.4 C379.7 326.3 378.1 323.2 376.2 319.6 C374.3 316 372.8 313 369.6 309.8 C366.4 306.6 361.7 304 357 300.5 C352.3 297 346.5 293.4 341.3 288.8 C336.1 284.2 330.2 278.5 325.6 273 C321 267.5 317.1 261.9 313.8 256 C310.5 250.1 308 244.1 306 237.7 C304 231.3 302.7 220.8 302 217.4 Z"/></clipPath><g clip-path="url(#c6)"><path d="M130.8 375 L311.3 143.9 M135.7 378.9 L316.3 147.7 M140.7 382.7 L321.3 151.6 M145.6 386.6 L326.2 155.5 M150.6 390.5 L331.2 159.4 M155.6 394.4 L336.2 163.3 M160.5 398.3 L341.1 167.1 M165.5 402.1 L346.1 171 M170.5 406 L351 174.9 M175.4 409.9 L356 178.8 M180.4 413.8 L361 182.6 M185.4 417.7 L365.9 186.5 M190.3 421.5 L370.9 190.4 M195.3 425.4 L375.9 194.3 M200.3 429.3 L380.8 198.2 M205.2 433.2 L385.8 202 M210.2 437 L390.8 205.9 M215.1 440.9 L395.7 209.8 M220.1 444.8 L400.7 213.7 M225.1 448.7 L405.7 217.6 M230 452.6 L410.6 221.4 M235 456.4 L415.6 225.3 M240 460.3 L420.5 229.2 M244.9 464.2 L425.5 233.1 M249.9 468.1 L430.5 236.9 M254.9 472 L435.4 240.8 M259.8 475.8 L440.4 244.7 M264.8 479.7 L445.4 248.6 M269.8 483.6 L450.3 252.5 M274.7 487.5 L455.3 256.3 M279.7 491.4 L460.3 260.2 M284.6 495.2 L465.2 264.1 M289.6 499.1 L470.2 268 M294.6 503 L475.2 271.9 M299.5 506.9 L480.1 275.7 M304.5 510.7 L485.1 279.6 M309.5 514.6 L490.1 283.5 M314.4 518.5 L495 287.4 M319.4 522.4 L500 291.2 M324.4 526.3 L504.9 295.1 M329.3 530.1 L509.9 299 M334.3 534 L514.9 302.9 M339.3 537.9 L519.8 306.8 M344.2 541.8 L524.8 310.6 M349.2 545.7 L529.8 314.5 M354.2 549.5 L534.7 318.4 M359.1 553.4 L539.7 322.3 M364.1 557.3 L544.7 326.2" stroke-width="1.8" fill="none"/></g><clipPath id="c7"><path clip-rule="nonzero" d="M516.9 219.8 C516.2 222.5 515 230.4 513 236 C511 241.6 508.3 247.3 505 253.2 C501.7 259.1 498.1 265.6 493.3 271.5 C488.5 277.4 482.6 283.1 476.3 288.5 C470 293.9 461.4 299.4 455.3 304.2 C449.2 309 443.2 313 439.6 317.3 C436.1 321.6 435.3 324.9 434 330 C432.7 335.1 432.3 342.7 432 348 C431.7 353.3 432 356.7 432.3 362 C432.6 367.3 432.9 368.3 433.8 380 C434.8 391.7 436.6 414.6 438 432 C439.4 449.4 441.6 475.9 442.3 484.7 L432.5 482 C431.9 473.7 430.2 449 429 432 C427.8 415 426.4 392 425.3 380 C424.2 368 422.9 366.3 422.5 360 C422.1 353.7 422.2 347.8 422.8 342 C423.4 336.2 424.3 330.2 426 325 C427.7 319.8 428.6 315.8 433 310.8 C437.4 305.8 445.7 300.2 452.7 295 C459.7 289.8 468.7 284.8 475 279.4 C481.3 274 486.5 268.5 490.7 262.4 C494.9 256.3 497.6 249.7 500 242.7 C502.4 235.7 504.2 224.2 505 220.5 Z"/></clipPath><g clip-path="url(#c7)"><path d="M264.6 395.5 L418.6 149.2 M270.6 399.2 L424.5 152.9 M276.5 402.9 L430.4 156.6 M282.4 406.6 L436.4 160.3 M288.4 410.3 L442.3 164 M294.3 414 L448.2 167.7 M300.2 417.8 L454.2 171.4 M306.2 421.5 L460.1 175.1 M312.1 425.2 L466.1 178.8 M318.1 428.9 L472 182.5 M324 432.6 L477.9 186.3 M329.9 436.3 L483.9 190 M335.9 440 L489.8 193.7 M341.8 443.7 L495.7 197.4 M347.7 447.4 L501.7 201.1 M353.7 451.1 L507.6 204.8 M359.6 454.8 L513.5 208.5 M365.5 458.6 L519.5 212.2 M371.5 462.3 L525.4 215.9 M377.4 466 L531.4 219.6 M383.4 469.7 L537.3 223.3 M389.3 473.4 L543.2 227.1 M395.2 477.1 L549.2 230.8 M401.2 480.8 L555.1 234.5 M407.1 484.5 L561 238.2 M413 488.2 L567 241.9 M419 491.9 L572.9 245.6 M424.9 495.6 L578.8 249.3 M430.8 499.4 L584.8 253 M436.8 503.1 L590.7 256.7 M442.7 506.8 L596.6 260.4 M448.7 510.5 L602.6 264.1 M454.6 514.2 L608.5 267.9 M460.5 517.9 L614.5 271.6 M466.5 521.6 L620.4 275.3 M472.4 525.3 L626.3 279 M478.3 529 L632.3 282.7 M484.3 532.7 L638.2 286.4 M490.2 536.5 L644.1 290.1 M496.1 540.2 L650.1 293.8 M502.1 543.9 L656 297.5 M508 547.6 L661.9 301.2 M514 551.3 L667.9 305 M519.9 555 L673.8 308.7" stroke-width="1.8" fill="none"/></g></g>
<path d="M291.5 215.5 C292.2 219.2 293.5 230.7 295.5 237.7 C297.5 244.7 300.2 251.5 303.3 257.4 C306.4 263.3 309.7 267.8 313.8 273 C317.9 278.2 323 284 328.2 288.8 C333.4 293.6 339.9 297.8 345.2 301.9 C350.5 305.9 356.2 309.6 359.8 313.1 C363.4 316.6 365.1 319.6 367 322.9 C368.9 326.2 370.1 328.2 371 332.7 C371.9 337.2 372.5 344.6 372.6 350 C372.7 355.4 372.1 360 371.5 365 C370.9 370 370.2 368.8 369 380 C367.8 391.2 365.9 414.6 364.5 432 C363.1 449.4 361.2 475.9 360.5 484.7" stroke-width="2.2" fill="none"/>
<path d="M302 217.4 C302.7 220.8 304 231.3 306 237.7 C308 244.1 310.5 250.1 313.8 256 C317.1 261.9 321 267.5 325.6 273 C330.2 278.5 336.1 284.2 341.3 288.8 C346.5 293.4 352.3 297 357 300.5 C361.7 304 366.4 306.6 369.6 309.8 C372.8 313 374.3 316 376.2 319.6 C378.1 323.2 379.7 326.3 380.8 331.4 C381.9 336.5 382.7 344.4 382.7 350 C382.7 355.6 381.8 360 381 365 C380.2 370 379.2 368.8 378.1 380 C377 391.2 375.7 415 374.5 432 C373.3 449 371.6 473.7 371 482" stroke-width="2.2" fill="none"/>
<path d="M505 220.5 C504.2 224.2 502.4 235.7 500 242.7 C497.6 249.7 494.9 256.3 490.7 262.4 C486.5 268.5 481.3 274 475 279.4 C468.7 284.8 459.7 289.8 452.7 295 C445.7 300.2 437.4 305.8 433 310.8 C428.6 315.8 427.7 319.8 426 325 C424.3 330.2 423.4 336.2 422.8 342 C422.2 347.8 422.1 353.7 422.5 360 C422.9 366.3 424.2 368 425.3 380 C426.4 392 427.8 415 429 432 C430.2 449 431.9 473.7 432.5 482" stroke-width="2.2" fill="none"/>
<path d="M516.9 219.8 C516.2 222.5 515 230.4 513 236 C511 241.6 508.3 247.3 505 253.2 C501.7 259.1 498.1 265.6 493.3 271.5 C488.5 277.4 482.6 283.1 476.3 288.5 C470 293.9 461.4 299.4 455.3 304.2 C449.2 309 443.2 313 439.6 317.3 C436.1 321.6 435.3 324.9 434 330 C432.7 335.1 432.3 342.7 432 348 C431.7 353.3 432 356.7 432.3 362 C432.6 367.3 432.9 368.3 433.8 380 C434.8 391.7 436.6 414.6 438 432 C439.4 449.4 441.6 475.9 442.3 484.7" stroke-width="2.2" fill="none"/>
<path d="M291.5 215.5 C294.4 215.4 304 214.6 308.6 215.2 C313.2 215.8 314.2 218.7 319 219.2 C323.8 219.7 330.6 218.3 337.4 218 C344.2 217.7 352.1 217.6 360 217.5 C367.9 217.4 377.5 217.2 385 217.4 C392.5 217.6 399.2 218.8 405 218.5 C410.8 218.2 415.3 216.6 420 215.9 C424.7 215.2 427.6 214.4 433 214.6 C438.4 214.8 446.1 216.4 452.7 217.2 C459.3 218 465.3 218.8 472.4 219.2 C479.4 219.6 487.6 219.4 495 219.5 C502.4 219.6 513.2 219.8 516.9 219.8" stroke-width="2.2" fill="none"/>
<path d="M360.5 484.7 C362.4 484.6 367.9 483.8 372 484 C376.1 484.2 380.3 486.2 385 486 C389.7 485.8 395 482.6 400 482.5 C405 482.4 410 485.3 415 485.5 C420 485.7 425.4 483.6 430 483.5 C434.6 483.4 440.2 484.5 442.3 484.7" stroke-width="2.2" fill="none"/>
<clipPath id="c8"><path clip-rule="nonzero" d="M337.4 284.8 L355 253.8 L388 253.8 L388 262.4 L359.6 262.4 L343.9 288.8 Z"/></clipPath><g clip-path="url(#c8)"><path d="M310.5 269.4 L360.8 219.1 M314 272.9 L364.3 222.6 M317.5 276.4 L367.8 226.1 M321.1 280 L371.4 229.7 M324.6 283.5 L374.9 233.2 M328.2 287 L378.4 236.8 M331.7 290.6 L382 240.3 M335.2 294.1 L385.5 243.8 M338.8 297.6 L389 247.4 M342.3 301.2 L392.6 250.9 M345.8 304.7 L396.1 254.4 M349.4 308.2 L399.6 258 M352.9 311.8 L403.2 261.5 M356.4 315.3 L406.7 265 M360 318.8 L410.2 268.6 M363.5 322.4 L413.8 272.1" stroke-width="1.5" fill="none"/></g>
<clipPath id="c9"><path clip-rule="nonzero" d="M468.4 285.3 L451.4 253.8 L419.5 253.8 L419.5 262.4 L445.5 262.4 L460 290.5 Z"/></clipPath><g clip-path="url(#c9)"><path d="M428.4 221.8 L492.5 251.7 M426.3 226.4 L490.4 256.3 M424.2 230.9 L488.3 260.8 M422 235.4 L486.2 265.3 M419.9 240 L484.1 269.9 M417.8 244.5 L481.9 274.4 M415.7 249 L479.8 278.9 M413.6 253.5 L477.7 283.4 M411.5 258.1 L475.6 288 M409.4 262.6 L473.5 292.5 M407.3 267.1 L471.4 297 M405.1 271.7 L469.3 301.6 M403 276.2 L467.1 306.1 M400.9 280.7 L465 310.6 M398.8 285.3 L462.9 315.2 M396.7 289.8 L460.8 319.7" stroke-width="1.7" fill="none"/></g>
<rect x="364.5" y="254.5" width="10.5" height="7.2" fill="#fff" stroke="none"/>
<rect x="432" y="254.5" width="9.5" height="7.2" fill="#fff" stroke="none"/>
<path d="M337.4 284.8 L355 253.8 L388 253.8 L388 262.4 L359.6 262.4 L343.9 288.8 Z" stroke-width="2" fill="none"/>
<path d="M468.4 285.3 L451.4 253.8 L419.5 253.8 L419.5 262.4 L445.5 262.4 L460 290.5 Z" stroke-width="2" fill="none"/>
<line x1="364.5" y1="253.8" x2="364.5" y2="262.4" stroke-width="1.5"/>
<line x1="375.5" y1="253.8" x2="375.5" y2="262.4" stroke-width="1.5"/>
<line x1="432" y1="253.8" x2="432" y2="262.4" stroke-width="1.5"/>
<line x1="441.5" y1="253.8" x2="441.5" y2="262.4" stroke-width="1.5"/>
<rect x="388" y="234.4" width="31.5" height="53.4" fill="#fff" stroke-width="2.1"/>
<line x1="414.7" y1="238" x2="414.7" y2="286" stroke-width="1.2"/>
<line x1="416.9" y1="238" x2="416.9" y2="286" stroke-width="1.2"/>
<line x1="411" y1="240" x2="411" y2="285" stroke-width="1.1" stroke-dasharray="4 4"/>
<line x1="408" y1="245" x2="408" y2="250" stroke-width="1.4"/>
<line x1="408" y1="272" x2="408" y2="278" stroke-width="1.4"/>
<rect x="378" y="262.7" width="47.2" height="3.1" fill="#fff" stroke-width="1.8"/>
<rect x="396" y="287.8" width="15.6" height="4.2" fill="#fff" stroke-width="1.8"/>
<path d="M397.7 418 L397.7 303.4 L402.4 296.6 L407 303.4 L407 418" stroke-width="1.9" fill="#fff"/>
<line x1="397.7" y1="303.4" x2="407" y2="303.4" stroke-width="1.3"/>
<line x1="404.6" y1="306" x2="404.6" y2="416" stroke-width="1.5" stroke-dasharray="6 2"/>
<path d="M380.8 354.4 L422.5 354.4 L422.5 364.2 L380.8 364.2 Z" fill="#fff" stroke="none"/>
<line x1="381.5" y1="354.4" x2="422.5" y2="354.4" stroke-width="1.9"/>
<line x1="381.5" y1="364.2" x2="422.5" y2="364.2" stroke-width="1.9"/>
<line x1="397.7" y1="354.4" x2="397.7" y2="364.2" stroke-width="1.4"/>
<line x1="407" y1="354.4" x2="407" y2="364.2" stroke-width="1.4"/>
<circle cx="402.6" cy="360.3" r="1.9" fill="#fff" stroke-width="1.5"/>
<line x1="404.5" y1="360.3" x2="422.5" y2="360.3" stroke-width="1.3"/>
<rect x="388" y="418" width="27.4" height="3.9" fill="#fff" stroke-width="1.7"/>
<rect x="377.5" y="422" width="47.8" height="5.8" fill="#fff" stroke-width="1.8"/>
<line x1="405" y1="423.5" x2="405" y2="425" stroke-width="0.9"/>
<line x1="407" y1="423.5" x2="407" y2="426.5" stroke-width="0.9"/>
<line x1="409" y1="423.5" x2="409" y2="425" stroke-width="0.9"/>
<line x1="411" y1="423.5" x2="411" y2="426.5" stroke-width="0.9"/>
<line x1="413" y1="423.5" x2="413" y2="425" stroke-width="0.9"/>
<line x1="415" y1="423.5" x2="415" y2="426.5" stroke-width="0.9"/>
<line x1="417" y1="423.5" x2="417" y2="425" stroke-width="0.9"/>
<line x1="419" y1="423.5" x2="419" y2="426.5" stroke-width="0.9"/>
<line x1="421" y1="423.5" x2="421" y2="425" stroke-width="0.9"/>
<line x1="423" y1="423.5" x2="423" y2="426.5" stroke-width="0.9"/>
<clipPath id="hold2"><path clip-rule="evenodd" d="M374.9 428.2 L428.5 428.2 L428.5 444.8 L374.2 444.8 Z M378.5 435 L425 435 L425 441 Q425 444 422 444 L381.5 444 Q378.5 444 378.5 441 Z"/></clipPath>
<g clip-path="url(#hold2)"><path d="M344.9 432.9 L397.9 379.9 M348.5 436.4 L401.4 383.5 M352 440 L405 387 M355.5 443.5 L408.5 390.5 M359.1 447 L412 394.1 M362.6 450.6 L415.6 397.6 M366.1 454.1 L419.1 401.1 M369.7 457.7 L422.7 404.7 M373.2 461.2 L426.2 408.2 M376.7 464.7 L429.7 411.7 M380.3 468.3 L433.3 415.3 M383.8 471.8 L436.8 418.8 M387.3 475.3 L440.3 422.3 M390.9 478.9 L443.9 425.9 M394.4 482.4 L447.4 429.4 M397.9 485.9 L450.9 432.9 M401.5 489.5 L454.5 436.5" stroke-width="1.5" fill="none"/></g>
<path d="M374.9 428.2 L428.5 428.2 L428.5 444.8 L374.2 444.8 Z" stroke-width="1.8" fill="none"/>
<path d="M378.5 435 L425 435 L425 441 Q425 444 422 444 L381.5 444 Q378.5 444 378.5 441 Z" stroke-width="1.5" fill="none"/>
<rect x="391.2" y="435" width="17" height="3.2" fill="#fff" stroke-width="1.5"/>
<rect x="397.7" y="428.5" width="9.3" height="6.5" fill="#fff" stroke-width="1.3"/>
<line x1="371" y1="444.8" x2="432" y2="444.8" stroke-width="2.2"/>
<path d="M 330.7 236.4 L 325.6 247 M 339 237.2 C 336.8 235.6 332.9 238.5 331.6 243.3 C 330.9 245.9 332.2 247 333.8 247 C 336 247 337.4 245.4 337.8 243.8 C 338.4 241.7 337 241 335.4 241 C 333.8 241 332.4 242.2 331.6 243.3" stroke-width="1.9" fill="none"/>
<path d="M 441.4 231.2 C 439.2 229.6 435.2 232.5 434 237.3 C 433.3 239.9 434.6 241 436.2 241 C 438.3 241 439.8 239.4 440.2 237.8 C 440.7 235.7 439.3 235 437.8 235 C 436.2 235 434.8 236.2 434 237.3 M 448.7 235.7 C 447.5 234.2 443.2 234.4 442.2 238.3 C 441.3 241.5 446.1 241.5 448.3 237.3 M 449 234.9 L 447.3 239.9 C 447 241 447.8 241.2 448.5 240.8" stroke-width="1.9" fill="none"/>
<path d="M 329.4 342.1 C 330.5 339.6 336 339.1 335.1 342.4 C 334.5 344.7 328.7 347.4 327 350 L 333.6 350 M 342.7 344.7 C 341.5 343.2 337.2 343.4 336.2 347.4 C 335.3 350.5 340.1 350.5 342.3 346.3 M 343 343.9 L 341.3 348.9 C 341 350 341.8 350.2 342.5 349.8" stroke-width="1.9" fill="none"/>
<path d="M 452.1 353.4 L 447 364 M 455 354.7 C 457 353.1 461.2 353.2 460.3 356.1 C 459.7 358 457.2 358.5 456.1 358.5 C 459.3 358.5 459.6 360.3 459.1 361.6 C 458 364.5 453.2 364.5 452.4 362.6 M 467.7 358.7 C 466.5 357.2 462.2 357.4 461.2 361.4 C 460.4 364.5 465.2 364.5 467.3 360.3 M 468.1 357.9 L 466.3 362.9 C 466.1 364 466.8 364.2 467.6 363.8" stroke-width="1.9" fill="none"/>
<path d="M 330.4 376.4 L 325.3 387 M 336.3 376.4 C 334 376.4 332 380.6 331.3 383.3 C 330.6 385.9 331.7 387 333.5 387 C 336 387 337.8 382.8 338.5 380.1 C 339.2 377.5 338 376.4 336.3 376.4 Z M 346 381.7 C 344.8 380.2 340.5 380.4 339.5 384.4 C 338.7 387.5 343.5 387.5 345.6 383.3 M 346.4 380.9 L 344.6 385.9 C 344.4 387 345.1 387.2 345.9 386.8" stroke-width="1.9" fill="none"/>
<path d="M 454.1 382.7 L 449 393.3 M 461.3 388 C 460.1 386.5 455.8 386.7 454.7 390.7 C 453.9 393.8 458.7 393.8 460.9 389.6 M 461.6 387.2 L 459.8 392.2 C 459.6 393.3 460.4 393.5 461.1 393.1" stroke-width="1.9" fill="none"/>
<path d="M 331.4 419.4 L 326.3 430 M 337.7 419.4 L 332.6 430 M 344.9 424.7 C 343.7 423.2 339.4 423.4 338.4 427.4 C 337.6 430.5 342.4 430.5 344.5 426.3 M 345.3 423.9 L 343.5 428.9 C 343.2 430 344 430.2 344.8 429.8" stroke-width="1.9" fill="none"/>
<path d="M 456.4 430.9 L 451.3 441.5 M 458.7 433.6 C 459.9 431.1 465.3 430.6 464.5 433.9 C 463.9 436.2 458.1 438.9 456.4 441.5 L 462.9 441.5 M 472 436.2 C 470.8 434.7 466.5 434.9 465.5 438.9 C 464.7 442 469.5 442 471.6 437.8 M 472.4 435.4 L 470.6 440.4 C 470.4 441.5 471.1 441.7 471.9 441.3" stroke-width="1.9" fill="none"/>
<path d="M 385 456 L 379.9 466.6 M 387.7 456 L 394.3 456 L 386.7 466.6" stroke-width="1.9" fill="none"/>
<line x1="329.5" y1="249.5" x2="350.4" y2="261.3" stroke-width="1.3"/>
<line x1="431.8" y1="239.5" x2="410" y2="246" stroke-width="1.3"/>
<line x1="354.6" y1="350.4" x2="389" y2="358.7" stroke-width="1.3"/>
<line x1="443.6" y1="359.8" x2="404" y2="359.8" stroke-width="1.3"/>
<line x1="354.6" y1="380.7" x2="400.6" y2="382.8" stroke-width="1.3"/>
<line x1="445.7" y1="388" x2="429" y2="387" stroke-width="1.3"/>
<line x1="353.5" y1="424" x2="382.8" y2="424" stroke-width="1.3"/>
<line x1="447.7" y1="434" x2="425.8" y2="432" stroke-width="1.3"/>
<line x1="389" y1="451" x2="403.8" y2="437.3" stroke-width="1.3"/>
<clipPath id="c10"><path clip-rule="nonzero" d="M553 260.5 L581 261.5 L576.6 354.7 L570.6 370 L564.7 486.5 L552 486.5 Z"/></clipPath><g clip-path="url(#c10)"><path d="M397.8 412.6 L516 207.9 M406.6 417.7 L524.8 213 M415.5 422.8 L533.7 218.1 M424.3 427.9 L542.5 223.2 M433.1 433 L551.3 228.3 M442 438.1 L560.2 233.4 M450.8 443.2 L569 238.5 M459.6 448.3 L577.8 243.6 M468.5 453.4 L586.7 248.7 M477.3 458.5 L595.5 253.8 M486.1 463.6 L604.3 258.9 M495 468.7 L613.2 264 M503.8 473.8 L622 269.1 M512.6 478.9 L630.8 274.2 M521.5 484 L639.7 279.3 M530.3 489.1 L648.5 284.4 M539.1 494.2 L657.3 289.5 M548 499.3 L666.2 294.6 M556.8 504.4 L675 299.7 M565.6 509.5 L683.8 304.8 M574.5 514.6 L692.7 309.9 M583.3 519.7 L701.5 315 M592.1 524.8 L710.3 320.1 M601 529.9 L719.2 325.2 M609.8 535 L728 330.3" stroke-width="1.4" fill="none"/></g>
<clipPath id="c11"><path clip-rule="nonzero" d="M673 264.5 L701.4 263 L701.4 485 L689.6 485 L683.7 370 L678.2 354.7 Z"/></clipPath><g clip-path="url(#c11)"><path d="M526 415 L642.1 213.8 M534.8 420.1 L650.9 218.9 M543.6 425.2 L659.8 224 M552.5 430.3 L668.6 229.1 M561.3 435.4 L677.4 234.2 M570.1 440.5 L686.3 239.3 M579 445.6 L695.1 244.4 M587.8 450.7 L703.9 249.5 M596.6 455.8 L712.8 254.6 M605.5 460.9 L721.6 259.7 M614.3 466 L730.4 264.8 M623.1 471.1 L739.3 269.9 M632 476.2 L748.1 275 M640.8 481.3 L756.9 280.1 M649.6 486.4 L765.8 285.2 M658.5 491.5 L774.6 290.3 M667.3 496.6 L783.4 295.4 M676.1 501.7 L792.3 300.5 M685 506.8 L801.1 305.6 M693.8 511.9 L809.9 310.7 M702.6 517 L818.8 315.8 M711.5 522.1 L827.6 320.9 M720.3 527.2 L836.4 326 M729.1 532.3 L845.3 331.1 M738 537.4 L854.1 336.2" stroke-width="1.4" fill="none"/></g>
<line x1="553" y1="260.5" x2="552" y2="486.5" stroke-width="2.2"/>
<line x1="701.4" y1="263" x2="701.4" y2="485" stroke-width="2.2"/>
<path d="M581 261.5 L576.6 354.7 L570.6 370 L564.7 486.5" stroke-width="1.9" fill="none"/>
<path d="M673 264.5 L678.2 354.7 L683.7 370 L689.6 485" stroke-width="1.9" fill="none"/>
<path d="M553 260.5 C555.8 260.3 563.8 259.2 570 259.5 C576.2 259.8 583 262.2 590 262.5 C597 262.8 604.5 260.9 612 261 C619.5 261.1 627 262.7 635 262.8 C643 262.9 652.5 261.3 660 261.5 C667.5 261.7 673.1 263.8 680 264 C686.9 264.2 697.8 263.2 701.4 263" stroke-width="2.2" fill="none"/>
<path d="M552.2 486.7 C554.2 486.9 559.1 487.6 564.5 487.8 C569.9 488 578.6 488.4 584.5 487.8 C590.4 487.2 594.8 485.6 600 484.5 C605.2 483.4 610.1 480.6 615.7 481.2 C621.3 481.8 627.6 487.2 633.5 487.8 C639.4 488.4 646.1 484.9 651.3 484.5 C656.5 484.1 660.1 485.1 664.6 485.6 C669.1 486.2 672.1 487.6 678 487.8 C683.9 488 696.5 486.9 700.2 486.7" stroke-width="2.2" fill="none"/>
<rect x="602.8" y="278.3" width="50.2" height="75.4" fill="#fff" stroke-width="2.1"/>
<line x1="645.5" y1="280" x2="645.5" y2="352" stroke-width="1.1"/>
<line x1="647.5" y1="280" x2="647.5" y2="352" stroke-width="1.1"/>
<line x1="649.5" y1="280" x2="649.5" y2="352" stroke-width="1.1"/>
<line x1="643" y1="285" x2="643" y2="350" stroke-width="1.3" stroke-dasharray="7 5"/>
<line x1="634" y1="285" x2="634" y2="335" stroke-width="1.3" stroke-dasharray="4 8"/>
<clipPath id="c12"><path clip-rule="nonzero" d="M571.9 355.6 L681 355.6 L681 362.9 L571.9 362.9 Z"/></clipPath><g clip-path="url(#c12)"><path d="M627.7 274.8 L710.9 358 M624.1 278.4 L707.3 361.6 M620.4 282.1 L703.6 365.3 M616.7 285.8 L699.9 369 M613 289.5 L696.2 372.7 M609.4 293.1 L692.6 376.3 M605.7 296.8 L688.9 380 M602 300.5 L685.2 383.7 M598.3 304.2 L681.5 387.4 M594.7 307.8 L677.9 391 M591 311.5 L674.2 394.7 M587.3 315.2 L670.5 398.4 M583.6 318.9 L666.8 402.1 M579.9 322.6 L663.1 405.8 M576.3 326.2 L659.5 409.4 M572.6 329.9 L655.8 413.1 M568.9 333.6 L652.1 416.8 M565.2 337.3 L648.4 420.5 M561.6 340.9 L644.8 424.1 M557.9 344.6 L641.1 427.8 M554.2 348.3 L637.4 431.5 M550.5 352 L633.7 435.2 M546.9 355.6 L630.1 438.8 M543.2 359.3 L626.4 442.5" stroke-width="1.5" fill="none"/></g>
<path d="M571.9 355.6 L681 355.6 L681 362.9 L571.9 362.9 Z" stroke-width="1.9" fill="none"/>
<path d="M618.6 352 Q627 348.5 636 352 L636 362 Q636 364.7 633 364.7 L621.6 364.7 Q618.6 364.7 618.6 362 Z" stroke-width="1.9" fill="#fff"/>
<line x1="632.5" y1="353" x2="632.5" y2="363" stroke-width="1.2"/>
<clipPath id="h2b"><path clip-rule="evenodd" d="M570 362.9 L684.6 362.9 L684.6 405 L570 405 Z M571.9 362.9 L583.8 362.9 L583.8 378 L579 383 L571.9 383 Z M671.8 362.9 L683.7 362.9 L683.7 383 L676.5 383 L671.8 378 Z M602 364.7 L651.6 364.7 L651.6 382 L640.6 382 L640.6 405 L613 405 L613 382 L602 382 Z"/></clipPath>
<g clip-path="url(#h2b)"><path d="M522.9 382.2 L624.7 280.4 M526.5 385.7 L628.2 284 M530 389.2 L631.7 287.5 M533.5 392.8 L635.3 291 M537.1 396.3 L638.8 294.6 M540.6 399.8 L642.3 298.1 M544.2 403.4 L645.9 301.7 M547.7 406.9 L649.4 305.2 M551.2 410.4 L652.9 308.7 M554.8 414 L656.5 312.3 M558.3 417.5 L660 315.8 M561.8 421 L663.5 319.3 M565.4 424.6 L667.1 322.9 M568.9 428.1 L670.6 326.4 M572.4 431.7 L674.2 329.9 M576 435.2 L677.7 333.5 M579.5 438.7 L681.2 337 M583 442.3 L684.8 340.5 M586.6 445.8 L688.3 344.1 M590.1 449.3 L691.8 347.6 M593.7 452.9 L695.4 351.2 M597.2 456.4 L698.9 354.7 M600.7 459.9 L702.4 358.2 M604.3 463.5 L706 361.8 M607.8 467 L709.5 365.3 M611.3 470.5 L713 368.8 M614.9 474.1 L716.6 372.4 M618.4 477.6 L720.1 375.9 M621.9 481.2 L723.7 379.4 M625.5 484.7 L727.2 383 M629 488.2 L730.7 386.5" stroke-width="1.5" fill="none"/></g>
<path d="M570 362.9 L684.6 362.9 L684.6 405 L570 405 Z M571.9 362.9 L583.8 362.9 L583.8 378 L579 383 L571.9 383 Z M671.8 362.9 L683.7 362.9 L683.7 383 L676.5 383 L671.8 378 Z M602 364.7 L651.6 364.7 L651.6 382 L640.6 382 L640.6 405 L613 405 L613 382 L602 382 Z" stroke-width="1.8" fill="none"/>
<rect x="608.6" y="378.5" width="37.4" height="3.5" fill="#fff" stroke-width="1.7"/>
<path d="M613 382 L613 422.5 L640.6 422.5 L640.6 382" stroke-width="1.9" fill="#fff"/>
<path d="M621.4 377.6 L626.9 370.2 L632.4 377.6 Z" stroke-width="1.5" fill="#fff"/>
<line x1="637.5" y1="384" x2="637.5" y2="421" stroke-width="1.4"/>
<line x1="635" y1="386" x2="635" y2="420" stroke-width="1.2" stroke-dasharray="5 3"/>
<circle cx="626.9" cy="392.2" r="2" fill="#fff" stroke-width="1.5"/>
<clipPath id="w12b"><path d="M568.2 405 L613 405 L613 423.4 L568.2 423.4 Z M640.6 405 L685.5 405 L685.5 423.4 L640.6 423.4 Z"/></clipPath>
<g clip-path="url(#w12b)"><path d="M631.9 313.7 L728.3 410.1 M625.6 320.1 L721.9 416.4 M619.2 326.5 L715.5 422.8 M612.8 332.8 L709.2 429.2 M606.5 339.2 L702.8 435.5 M600.1 345.6 L696.4 441.9 M593.8 351.9 L690.1 448.2 M587.4 358.3 L683.7 454.6 M581 364.7 L677.3 461 M574.7 371 L671 467.3 M568.3 377.4 L664.6 473.7 M561.9 383.7 L658.3 480.1 M555.6 390.1 L651.9 486.4 M549.2 396.5 L645.5 492.8 M542.8 402.8 L639.2 499.2 M536.5 409.2 L632.8 505.5 M530.1 415.6 L626.4 511.9" stroke-width="4.2" fill="none"/></g>
<path d="M568.2 405 L685.5 405 L685.5 423.4 L568.2 423.4 Z" stroke-width="1.8" fill="none"/>
<rect x="570" y="424.3" width="111" height="10.1" fill="#fff" stroke-width="2"/>
<line x1="650" y1="427" x2="650" y2="432" stroke-width="1.2"/>
<line x1="653" y1="427" x2="653" y2="430" stroke-width="1.2"/>
<line x1="656" y1="427" x2="656" y2="432" stroke-width="1.2"/>
<line x1="659" y1="427" x2="659" y2="430" stroke-width="1.2"/>
<line x1="662" y1="427" x2="662" y2="432" stroke-width="1.2"/>
<line x1="665" y1="427" x2="665" y2="430" stroke-width="1.2"/>
<line x1="668" y1="427" x2="668" y2="432" stroke-width="1.2"/>
<line x1="671" y1="427" x2="671" y2="430" stroke-width="1.2"/>
<line x1="674" y1="427" x2="674" y2="432" stroke-width="1.2"/>
<line x1="677" y1="427" x2="677" y2="430" stroke-width="1.2"/>
<line x1="680" y1="427" x2="680" y2="432" stroke-width="1.2"/>
<path d="M 525.4 290.2 C 523.2 288.6 519.2 291.5 518 296.3 C 517.3 298.9 518.6 300 520.2 300 C 522.3 300 523.8 298.4 524.2 296.8 C 524.7 294.7 523.3 294 521.8 294 C 520.2 294 518.8 295.2 518 296.3 M 528.1 290.7 L 530.5 289.8 L 526.9 300 M 528.3 295.5 C 530.1 294.6 534.6 294.3 533.6 297.4 C 532.6 300.4 528.8 300.3 526.9 300" stroke-width="1.9" fill="none"/>
<path d="M 718.9 301.4 L 713.8 312 M 721.5 302.7 L 723.8 301.8 L 720.2 312 M 721.7 307.5 C 723.4 306.6 728 306.3 727 309.4 C 726 312.4 722.2 312.3 720.2 312" stroke-width="1.9" fill="none"/>
<path d="M 518.3 336 L 524.8 336 L 517.2 346.6 M 526.4 337.3 L 528.7 336.4 L 525.1 346.6 M 526.6 342.1 C 528.4 341.2 532.9 340.9 531.9 344 C 530.9 347 527.1 346.9 525.1 346.6" stroke-width="1.9" fill="none"/>
<path d="M 714.9 357.7 C 716 355.2 721.5 354.7 720.6 358 C 720 360.3 714.2 363 712.5 365.6 L 719.1 365.6 M 726.9 355 C 724.6 355 722.6 359.2 721.9 361.9 C 721.3 364.5 722.4 365.6 724.2 365.6 C 726.6 365.6 728.4 361.4 729.1 358.7 C 729.8 356.1 728.6 355 726.9 355 Z M 732.1 356.3 L 734.4 355.4 L 730.8 365.6 M 732.3 361.1 C 734 360.2 738.6 359.9 737.6 363 C 736.6 366 732.8 365.9 730.8 365.6" stroke-width="1.9" fill="none"/>
<path d="M 521.9 382.4 L 516.8 393 M 524.8 383.7 C 526.8 382.1 531 382.2 530.1 385.1 C 529.5 387 527 387.5 525.9 387.5 C 529.1 387.5 529.4 389.3 528.9 390.6 C 527.8 393.5 523 393.5 522.2 391.6 M 537.5 387.7 C 536.3 386.2 532 386.4 531 390.4 C 530.2 393.5 535 393.5 537.1 389.3 M 537.9 386.9 L 536.1 391.9 C 535.9 393 536.6 393.2 537.4 392.8" stroke-width="1.9" fill="none"/>
<path d="M 716.4 390.4 C 717.5 388 723 387.5 722.1 390.8 C 721.5 393.1 715.7 395.8 714 398.4 L 720.6 398.4 M 725.1 389.1 L 727.5 388.2 L 723.9 398.4 M 725.3 393.9 C 727.1 393 731.6 392.7 730.6 395.8 C 729.6 398.8 725.8 398.7 723.9 398.4" stroke-width="1.9" fill="none"/>
<path d="M 515 412 L 509.9 422.6 M 517.3 414.7 C 518.5 412.2 523.9 411.7 523.1 415 C 522.5 417.3 516.7 420 515 422.6 L 521.5 422.6 M 526.1 413.3 L 528.4 412.4 L 524.8 422.6 M 526.3 418.1 C 528 417.2 532.6 416.9 531.5 420 C 530.5 423 526.7 422.9 524.8 422.6" stroke-width="1.9" fill="none"/>
<path d="M 718.9 424.1 L 713.8 434.7 M 725.2 424.1 L 720.1 434.7 M 727.9 425.4 L 730.2 424.5 L 726.6 434.7 M 728.1 430.2 C 729.8 429.3 734.3 429 733.3 432.1 C 732.3 435.1 728.5 435 726.6 434.7" stroke-width="1.9" fill="none"/>
<path d="M 605.4 453.7 L 600.3 464.3 M 611.3 453.7 C 609 453.7 607 457.9 606.3 460.6 C 605.6 463.2 606.7 464.3 608.5 464.3 C 611 464.3 612.8 460.1 613.5 457.4 C 614.2 454.8 613 453.7 611.3 453.7 Z M 616.5 455 L 618.8 454.1 L 615.2 464.3 M 616.7 459.8 C 618.4 458.9 623 458.6 621.9 461.7 C 620.9 464.7 617.1 464.6 615.2 464.3" stroke-width="1.9" fill="none"/>
<path d="M 654.4 453.7 L 649.3 464.3 M 660.7 453.7 L 655.6 464.3 M 663.4 455 L 665.7 454.1 L 662.1 464.3 M 663.6 459.8 C 665.3 458.9 669.8 458.6 668.8 461.7 C 667.8 464.7 664 464.6 662.1 464.3" stroke-width="1.9" fill="none"/>
<line x1="539.7" y1="294.8" x2="608.8" y2="298.2" stroke-width="1.3"/>
<line x1="707.3" y1="303.4" x2="688.3" y2="303.4" stroke-width="1.3"/>
<line x1="538" y1="339.7" x2="631.3" y2="360.4" stroke-width="1.3"/>
<line x1="709" y1="358.7" x2="662.4" y2="358.7" stroke-width="1.3"/>
<line x1="541.5" y1="386.3" x2="625" y2="392.6" stroke-width="1.3"/>
<line x1="710.8" y1="393.2" x2="665.9" y2="393.2" stroke-width="1.3"/>
<line x1="538" y1="415" x2="581.2" y2="415.7" stroke-width="1.3"/>
<line x1="610.7" y1="444" x2="629.5" y2="412.4" stroke-width="1.3"/>
<line x1="650.7" y1="451.3" x2="632" y2="430" stroke-width="1.3"/>
<clipPath id="c13"><path clip-rule="nonzero" d="M60.5 617 L55.3 619.7 L60.5 622.4 L55.3 625.2 L60.5 627.9 L55.3 630.6 L60.5 633.3 L55.3 636.1 L60.5 638.8 L55.3 641.5 L60.5 644.2 L55.3 646.9 L60.5 649.7 L55.3 652.4 L60.5 655.1 L55.3 657.8 L60.5 660.6 L55.3 663.3 L60.5 666 L56 668 L54 866 L75.3 866 L77.7 837.2 L75 837.2 L75 820.7 L83.8 800 L93.9 698.3 C93.9 694.9 94 683.8 93.7 677.8 C93.4 671.8 92.9 667.1 92 662 C91.1 656.9 89.8 652.2 88.3 647 C86.8 641.8 85 636 83 631 C81 626 77.6 619.3 76.5 617 Z"/></clipPath><g clip-path="url(#c13)"><path d="M-111.6 784.9 L18.8 559.1 M-102.8 790 L27.6 564.2 M-93.9 795.1 L36.5 569.3 M-85.1 800.2 L45.3 574.4 M-76.3 805.3 L54.1 579.5 M-67.4 810.4 L63 584.6 M-58.6 815.5 L71.8 589.7 M-49.8 820.6 L80.6 594.8 M-40.9 825.7 L89.5 599.9 M-32.1 830.8 L98.3 605 M-23.3 835.9 L107.1 610.1 M-14.4 841 L116 615.2 M-5.6 846.1 L124.8 620.3 M3.2 851.2 L133.6 625.4 M12.1 856.3 L142.5 630.5 M20.9 861.4 L151.3 635.6 M29.7 866.5 L160.1 640.7 M38.6 871.6 L169 645.8 M47.4 876.7 L177.8 650.9 M56.2 881.8 L186.6 656 M65.1 886.9 L195.5 661.1 M73.9 892 L204.3 666.2 M82.7 897.1 L213.1 671.3 M91.6 902.2 L222 676.4 M100.4 907.3 L230.8 681.5 M109.2 912.4 L239.6 686.6 M118.1 917.5 L248.5 691.7 M126.9 922.6 L257.3 696.8" stroke-width="1.4" fill="none"/></g>
<clipPath id="c14"><path clip-rule="nonzero" d="M194.5 617 L200 619.8 L194.8 622.7 L200 625.5 L194.8 628.3 L200 631.2 L194.8 634 L200 636.8 L194.8 639.7 L200 642.5 L194.8 645.3 L200 648.2 L194.8 651 L200 653.8 L194.8 656.7 L200 659.5 L194.8 662.3 L200 665.2 L194.8 668 L197.4 670.5 L196.7 866 L176.7 866 L175.5 837.2 L176.7 837.2 L176.7 822 L170.9 800 L162.6 698.3 C162.6 694.9 162.2 683.8 162.5 677.8 C162.8 671.8 163.5 667.1 164.5 662 C165.5 656.9 166.7 652.2 168.4 647 C170.2 641.8 172.6 636 175 631 C177.4 626 181.3 619.3 182.6 617 Z"/></clipPath><g clip-path="url(#c14)"><path d="M-5.2 784.3 L125 558.7 M3.6 789.4 L133.8 563.8 M12.4 794.5 L142.6 568.9 M21.3 799.6 L151.5 574 M30.1 804.7 L160.3 579.1 M38.9 809.8 L169.1 584.2 M47.8 814.9 L178 589.3 M56.6 820 L186.8 594.4 M65.4 825.1 L195.6 599.5 M74.3 830.2 L204.5 604.6 M83.1 835.3 L213.3 609.7 M91.9 840.4 L222.1 614.8 M100.8 845.5 L231 619.9 M109.6 850.6 L239.8 625 M118.4 855.7 L248.6 630.1 M127.3 860.8 L257.5 635.2 M136.1 865.9 L266.3 640.3 M144.9 871 L275.1 645.4 M153.8 876.1 L284 650.5 M162.6 881.2 L292.8 655.6 M171.4 886.3 L301.6 660.7 M180.3 891.4 L310.5 665.8 M189.1 896.5 L319.3 670.9 M197.9 901.6 L328.1 676 M206.8 906.7 L337 681.1 M215.6 911.8 L345.8 686.2 M224.4 916.9 L354.6 691.3 M233.3 922 L363.5 696.4" stroke-width="1.4" fill="none"/></g>
<path d="M60.5 617 L55.3 619.7 L60.5 622.4 L55.3 625.2 L60.5 627.9 L55.3 630.6 L60.5 633.3 L55.3 636.1 L60.5 638.8 L55.3 641.5 L60.5 644.2 L55.3 646.9 L60.5 649.7 L55.3 652.4 L60.5 655.1 L55.3 657.8 L60.5 660.6 L55.3 663.3 L60.5 666 L56 668 L54 866" stroke-width="1.9" fill="none"/>
<path d="M194.5 617 L200 619.8 L194.8 622.7 L200 625.5 L194.8 628.3 L200 631.2 L194.8 634 L200 636.8 L194.8 639.7 L200 642.5 L194.8 645.3 L200 648.2 L194.8 651 L200 653.8 L194.8 656.7 L200 659.5 L194.8 662.3 L200 665.2 L194.8 668 L197.4 670.5 L196.7 866" stroke-width="1.9" fill="none"/>
<line x1="60" y1="617" x2="195" y2="617" stroke-width="2.1"/>
<path d="M76.5 617 C77.6 619.3 81 626 83 631 C85 636 86.8 641.8 88.3 647 C89.8 652.2 91.1 656.9 92 662 C92.9 667.1 93.4 671.8 93.7 677.8 C94 683.8 93.9 694.9 93.9 698.3" stroke-width="2.1" fill="none"/>
<path d="M182.6 617 C181.3 619.3 177.4 626 175 631 C172.6 636 170.2 641.8 168.4 647 C166.7 652.2 165.5 656.9 164.5 662 C163.5 667.1 162.8 671.8 162.5 677.8 C162.2 683.8 162.6 694.9 162.6 698.3" stroke-width="2.1" fill="none"/>
<clipPath id="ln5"><path d="M93.9 698.3 L101.2 698.3 L93.9 776.2 L91.5 784.5 L87.5 820.7 L81 820.7 Z M162.6 698.3 L154.4 698.3 L159.9 776.2 L162 784.5 L167 822 L174.5 822 Z M93.9 776.2 L159.9 776.2 L162 784.5 L91.5 784.5 Z"/></clipPath>
<g clip-path="url(#ln5)"><path d="M147.5 627.3 L263 775.2 M142.7 631 L258.3 778.9 M138 634.7 L253.5 782.6 M133.3 638.4 L248.8 786.3 M128.5 642.1 L244.1 789.9 M123.8 645.8 L239.4 793.6 M119.1 649.5 L234.6 797.3 M114.4 653.1 L229.9 801 M109.6 656.8 L225.2 804.7 M104.9 660.5 L220.4 808.4 M100.2 664.2 L215.7 812.1 M95.4 667.9 L211 815.8 M90.7 671.6 L206.3 819.5 M86 675.3 L201.5 823.2 M81.3 679 L196.8 826.9 M76.5 682.7 L192.1 830.6 M71.8 686.4 L187.3 834.3 M67.1 690.1 L182.6 838 M62.4 693.8 L177.9 841.7 M57.6 697.5 L173.2 845.4 M52.9 701.2 L168.4 849 M48.2 704.9 L163.7 852.7 M43.4 708.6 L159 856.4 M38.7 712.2 L154.2 860.1 M34 715.9 L149.5 863.8 M29.3 719.6 L144.8 867.5 M24.5 723.3 L140.1 871.2 M19.8 727 L135.3 874.9 M15.1 730.7 L130.6 878.6 M10.3 734.4 L125.9 882.3 M5.6 738.1 L121.2 886 M0.9 741.8 L116.4 889.7 M-3.8 745.5 L111.7 893.4" stroke-width="1.7" fill="none"/></g>
<path d="M93.9 698.3 L81 820.7 M162.6 698.3 L174.5 822" stroke-width="2" fill="none"/>
<path d="M101.2 698.3 L93.9 776.2 L159.9 776.2 L154.4 698.3 M91.5 784.5 L162 784.5" stroke-width="1.8" fill="none"/>
<line x1="91.5" y1="784.5" x2="87.5" y2="820.7" stroke-width="1.8"/>
<line x1="162" y1="784.5" x2="167" y2="822" stroke-width="1.8"/>
<line x1="93.9" y1="698.3" x2="162.6" y2="698.3" stroke-width="2.1"/>
<clipPath id="c15"><path clip-rule="nonzero" d="M101.2 698.3 L154.4 698.3 L159.9 776.2 L93.9 776.2 Z"/></clipPath><path clip-path="url(#c15)" d="M123.8 741.9h.1M154.9 734.6h.1M127.4 744.1h.1M106.1 738.2h.1M135.5 760.1h.1M100.1 721.9h.1M99.9 761.4h.1M139.7 701.6h.1M158.7 773.5h.1M137.1 746.3h.1M104.3 699.5h.1M128.8 702.9h.1M106.5 717.1h.1M95.9 734.4h.1M123 763.9h.1M128.2 748.2h.1M126.9 749.9h.1M124.1 720h.1M159.7 775.9h.1M149.4 753.4h.1M114.7 716.2h.1M113 703.8h.1M144.5 729.5h.1M149.8 728.4h.1M157.1 764.3h.1M93.9 714.6h.1M154 734.9h.1M158.6 729.3h.1M98.7 747.3h.1M145.3 719.3h.1M99.7 724.2h.1M157.5 757.4h.1M101.7 717.5h.1M100.6 703h.1M146.5 712.1h.1M130.8 733.2h.1M106.5 755.3h.1M102.5 748.4h.1M101.6 731.1h.1M107.9 719.3h.1M158 760.9h.1M114 767.2h.1M107.8 729h.1M150.3 748.3h.1M100.5 775.4h.1M108 718.4h.1M144.9 723.9h.1M113.5 704h.1M99.8 743.7h.1M109.9 745.1h.1M118.4 733.6h.1M157.2 736h.1M131.8 765.8h.1M106 710.3h.1M153.9 762h.1M110.4 713.1h.1M142.7 771.6h.1M106.9 772.3h.1M152.1 745.3h.1M121.7 706.4h.1M96.5 773.3h.1M109.6 753.2h.1M110.9 762.5h.1M133.3 721.2h.1M105.5 754.4h.1M98.4 716.1h.1M130.8 764.7h.1M134.4 720.1h.1M154.4 714.2h.1M95 719.3h.1M123.3 703h.1M105.5 727h.1M131.7 708.5h.1M117.8 767.7h.1M158.6 749.5h.1M139.5 743.8h.1M103.2 701h.1M95.1 769.2h.1M140.2 773.3h.1M95.3 747.9h.1M125.7 755.2h.1M114.9 776.1h.1M98.9 740.8h.1M142.5 768.4h.1M142.5 753.1h.1M146.3 769.6h.1M117.1 751.7h.1M153.4 766.2h.1M121.4 759.9h.1M150.9 742.9h.1M135.1 728.1h.1M132.4 745.7h.1M99.2 748.1h.1M159.5 766.8h.1M142 728.6h.1M142.4 743.6h.1M123 763.6h.1M99.4 756.7h.1M95.9 745.1h.1M125.6 716.2h.1M140 737h.1M134.5 770h.1M110.8 699.2h.1M113.8 751.1h.1M107.3 711.5h.1M153.7 749.7h.1M123.1 767.8h.1M115.5 750.2h.1M107 731.9h.1M147.1 769.5h.1M152 728.2h.1M132.4 723h.1M102.9 737h.1M149.1 764.4h.1M140.8 772.3h.1M112.2 711.5h.1M123.6 719.7h.1M108 730.5h.1M135.2 736.8h.1M114.7 763.7h.1M158.7 733.5h.1M98.8 700.8h.1M151.5 701.5h.1M140.7 742.7h.1M114.3 760h.1M95.2 708.9h.1M123.9 700.2h.1M148.7 716.8h.1M103.2 702h.1M135.4 733.1h.1M135.5 749.3h.1M147.2 773h.1M139.1 713.8h.1M125.3 712.2h.1M94.6 735.1h.1M141 712.3h.1M111.9 725.2h.1M139.9 738.8h.1M134.5 757.2h.1M119.9 760h.1M153.7 705.1h.1M155.5 754.6h.1M102.5 733.6h.1M135.2 769.2h.1M118.8 742.6h.1M151.9 760.4h.1M156.2 734.4h.1M136.9 714.3h.1M141.5 762h.1M136.2 754.2h.1M108 768.4h.1M158.6 774.4h.1M129.3 759.9h.1M115 769.2h.1M150.4 725.4h.1M99.4 732.6h.1M130.2 758.1h.1M126.1 700.5h.1M147.3 703.3h.1M146.7 711.8h.1M116 759.7h.1M103.2 709.9h.1M128 754.7h.1M149.3 752h.1M156.3 736.7h.1M156.5 705h.1M108.5 739.3h.1M113.1 755.1h.1M136.1 739h.1M149.6 741.9h.1M114.5 728h.1M149.7 768.5h.1M107.6 764.6h.1M157.8 739.1h.1M131.7 714h.1M129.3 737.5h.1M133.8 700.5h.1M157.9 738.5h.1M120.3 760.7h.1M131 736.6h.1M139.5 703.4h.1M129.5 730.5h.1M157.1 770.2h.1M111.7 735.2h.1M102.3 732.1h.1M147.7 768.5h.1M125.4 723h.1M106.5 746.4h.1M155 708.4h.1M145.3 700.1h.1M106.7 716h.1M139.2 723.4h.1M117.4 746.6h.1M100.8 755.2h.1M102 738.1h.1M110.4 713.7h.1M128.9 732.3h.1M118.7 730.5h.1M128.8 710.7h.1M107.4 747.5h.1M136 739.6h.1M150.1 746h.1M150.4 716.4h.1M142.8 761.4h.1M153.5 722.9h.1M114.7 770.2h.1M108.3 776.1h.1M152.5 708.7h.1M109.7 754.9h.1M111 705.9h.1M148.8 731.1h.1M146 708.1h.1M120.5 751.7h.1M95.1 714h.1M138.9 769.3h.1M157.8 707.3h.1M127.3 757.4h.1M127.1 751.7h.1M106.4 703.8h.1M100.9 701.2h.1M130.3 738.4h.1M131.4 709.7h.1M106.1 714.2h.1M149.4 775.4h.1M155.1 705.7h.1M98 772.4h.1M124.4 757.9h.1M115.5 734.7h.1M127.9 731.8h.1M133.6 699.3h.1M140.2 764.1h.1M105.9 733.7h.1M142.7 729.9h.1M106.8 711.2h.1M127.7 699.5h.1M152.9 760.8h.1M140.4 765.4h.1M135.4 729.8h.1M133.5 737.6h.1M158.8 761h.1M110.9 769.3h.1M143 758.9h.1M147.7 729.9h.1M153.1 766.8h.1M139.8 758.1h.1M144.4 729.9h.1M141.6 703.8h.1M116.5 734.8h.1M94.6 726h.1M136.1 746.9h.1M109.2 771.9h.1M137.9 724.6h.1M137.4 742.7h.1M129.1 728.6h.1M159.9 748.3h.1M140.2 757.6h.1M158.6 700.1h.1M134.5 755.9h.1M110.8 729.6h.1M97.2 713.5h.1M118.7 706h.1M110.5 768.8h.1M130.2 737.9h.1M157.7 742.5h.1M159.6 748h.1M147.3 704.2h.1M133.3 757.4h.1M96.9 770.8h.1M104.5 735.1h.1M105.1 736.9h.1M134.2 702.9h.1M156.3 731.1h.1M128.7 744.9h.1M118 720.6h.1M137.1 742h.1M112.6 754.1h.1M113.4 699.4h.1M110.1 701.6h.1M104.2 757.1h.1M119.6 768.2h.1M143.3 702.2h.1M159.2 771.9h.1M98.8 768.8h.1M122.2 735.5h.1M158.1 717.3h.1M128.4 771.3h.1M141.6 734.8h.1M158.5 761.9h.1M133.7 707.3h.1M135.1 733.8h.1M107.3 702.4h.1M128.8 708h.1M123.1 750.3h.1M124 718.7h.1M132.3 731h.1M145.2 739.6h.1M159.7 772.5h.1M142.4 716.9h.1M101.4 767.8h.1M145.7 747h.1M117.6 719.5h.1M139.1 742.3h.1M133 747.6h.1M143.6 713.1h.1M110.3 774.6h.1M154.3 766.8h.1M96.5 703h.1M111.8 731.4h.1M135 706.3h.1M129.6 703.9h.1M99.6 751h.1M130.2 747.5h.1M118.5 735.6h.1M107.8 725.1h.1M143.1 763.6h.1M98.8 707.6h.1M147.3 746.9h.1M144.6 714.9h.1M121.9 718.4h.1M147.4 727h.1M137 775.4h.1M115.4 741h.1M143.1 770h.1M122.1 727.1h.1M100.3 766.5h.1M99.1 704.8h.1M131.1 736.1h.1M139.1 721.6h.1M145.1 704.2h.1M108 749.9h.1M99.3 722h.1M141.7 752.4h.1M112.6 709.4h.1M117.5 754.9h.1M118.1 707.4h.1M140.7 742.6h.1M154.5 771.5h.1M154.2 732.4h.1M146.9 722h.1M114.9 729.4h.1M155.6 768h.1M110.3 726.5h.1M118 726.6h.1M120 728.5h.1M106.8 742.2h.1M146.5 740.4h.1M149.1 742.1h.1M105.6 757.4h.1M152 720.2h.1M95.4 738.5h.1M129.8 742.5h.1M157.7 749h.1M147 703.3h.1M130 759.7h.1M99.4 704.7h.1M142.5 768.3h.1M99.5 747.7h.1M103.4 756.4h.1M136.7 717.4h.1M108.4 757.9h.1M128.3 757.9h.1M119.9 724.6h.1M157.8 750.7h.1M126.5 740.2h.1M141.5 753.5h.1M154.3 730.3h.1M148.4 750.2h.1M150.2 761.1h.1M148.9 767.5h.1M157.1 748.2h.1M128.5 753.6h.1M146.8 731.1h.1M121.7 709.7h.1M142.8 775.5h.1M118.7 711.4h.1M107.4 731.4h.1M113.2 773.8h.1M97.8 722.3h.1M101.5 748.8h.1M145.1 712.3h.1M98 734h.1M132.4 769.1h.1M96.3 706.8h.1M106.1 715.2h.1M109.4 754.2h.1M133.2 715.7h.1M106.1 720.2h.1M105.3 757.3h.1M114.5 741h.1M147.8 735.7h.1M111.1 767.4h.1M154.2 724.9h.1M130 772.9h.1M125.8 715.5h.1M97.2 772.1h.1M146.8 728.3h.1M128.7 738.5h.1M112 775.4h.1M137.3 716.8h.1M94.6 735.1h.1M118.4 760.4h.1M141 745.5h.1M104.3 710.5h.1M115.1 718.5h.1M151.3 738.5h.1M135.9 775.7h.1M111.5 739.9h.1M103.8 758.3h.1M94 762.3h.1M149.7 762.3h.1M99.3 719.3h.1M141.2 705.9h.1M125.6 734.8h.1M157 744h.1M150.5 721.9h.1M146 730.8h.1M154.4 705.4h.1M148.4 714.5h.1M129.8 739.2h.1M104.3 763.1h.1M114.5 722.5h.1M98.9 722.1h.1M124.7 754h.1M117.6 751.8h.1M100.9 729h.1M124.4 773.6h.1M148.7 749.2h.1M94.7 727.7h.1M140.8 716.8h.1M131.1 734h.1M94.6 775.5h.1M146.7 714.4h.1M134.6 720.9h.1M118.7 740.3h.1M113.6 724.6h.1M119.8 750.2h.1M110.8 713.9h.1M142.2 724h.1M156.3 742.1h.1M141.7 724.1h.1M148.5 705.5h.1M103.2 705.7h.1M138.6 753.5h.1M105.8 729.6h.1M149.1 744.5h.1M99.8 716h.1M104.3 708h.1M120.8 704h.1M154.7 731.6h.1M127.7 748.7h.1M144.5 762.3h.1M119.4 724.1h.1M121.1 699.5h.1M120.3 752.8h.1M158.7 759.8h.1M137.5 745.7h.1M95.1 724.1h.1M116.5 749h.1M100.9 727.7h.1M127.5 759.7h.1M148.4 745.9h.1M104.4 758h.1M153.5 741h.1M117.2 737.3h.1M103.3 753.9h.1M159 738.5h.1M141.1 763.4h.1M106.9 771.9h.1M135.3 713.7h.1M99.4 717.4h.1M131.9 752.6h.1M115.6 770.7h.1M117.7 734.4h.1M102.1 774.1h.1M102.8 768.7h.1M129.8 742h.1M130.9 718.9h.1M153.9 775.6h.1M147.9 745.2h.1M102 762.5h.1M112.9 768.2h.1M109.8 743h.1M148.7 712.8h.1M130.1 704.2h.1M96 712.3h.1M159 771.5h.1M137.4 722.3h.1M138.2 755.8h.1M119.1 744.4h.1M147 699.6h.1M107.1 734.8h.1M103.3 728.4h.1M131.5 711.8h.1M128.2 718.8h.1M131.4 724.2h.1M136.3 701.2h.1M138.2 709.6h.1M157.2 745h.1M124.9 730.4h.1M135.1 752h.1M143.9 756.9h.1M126 775.8h.1M149.2 764.9h.1M120.9 732.1h.1M131.3 768.8h.1M128.6 739.2h.1M122.4 768.7h.1M115.1 702.6h.1M141.8 768.4h.1M142.2 744.8h.1M143.5 722h.1M133.1 703.7h.1M102.1 733.1h.1M127.1 729.2h.1M97.3 752.4h.1M128.6 716.9h.1M114.1 729.1h.1M109.5 703.6h.1M154 773.6h.1M137.8 765.8h.1M121.7 761h.1M108.5 756.5h.1M131.3 768.7h.1M100.4 760h.1M102.1 740.2h.1M156.7 698.3h.1M110 721.6h.1M115.3 703.2h.1M153 761.8h.1M120.1 726.1h.1M132.5 701.9h.1M96 768.3h.1M114.2 737.1h.1M155.5 774.4h.1M125.1 714.4h.1M113.4 770.2h.1M153.1 713.5h.1M149.2 725.9h.1M125.1 711.7h.1M152 775.8h.1M107.2 747.6h.1M106.5 766.9h.1M97.2 706.6h.1M141.8 722.7h.1M153.3 766h.1M141 708.8h.1M139.8 771.4h.1M123.3 704.5h.1M108.6 722.2h.1M140.8 713.6h.1M105.8 716.6h.1M137.8 759.9h.1M118.5 749.9h.1M152.3 744.3h.1M109 721.7h.1M155.1 750.3h.1M112.2 748.2h.1M99.8 774.9h.1M123 739.5h.1M128.9 701.8h.1M133.5 720.5h.1M110.5 760.9h.1M99.7 720.5h.1M143.8 717.5h.1M112.3 741h.1M106.2 768.2h.1M159.1 700.9h.1M124.4 756.8h.1M119.3 770.7h.1M126.9 712.3h.1M130.6 748.5h.1M117.6 749.6h.1M145.6 738.6h.1M127.3 764.2h.1M139.1 738.8h.1M156.7 711.8h.1M145.4 711.2h.1M134 716.6h.1M123 758.5h.1M145.8 759.9h.1M109.5 736.4h.1M108.5 743.5h.1M126.8 701.1h.1M133.3 754h.1M131.7 766.3h.1M105.8 710.1h.1M95.1 736.9h.1M122.6 732.7h.1M111.3 760.5h.1M98.7 769h.1M131.4 740.6h.1M146.1 716.8h.1M103.6 722.5h.1M96.7 722.8h.1M134.9 739.2h.1M111.4 744.2h.1M99.7 762.2h.1M105.2 718.2h.1M104.4 752.1h.1M148.7 759.6h.1M97.9 730.3h.1M118 715.2h.1M158 701.6h.1M126.2 757.6h.1M159 709.6h.1M124 756.3h.1M96.5 717h.1M152.6 709.3h.1M119.8 721.5h.1M121.9 704.3h.1M96.2 775.9h.1M144.3 755.5h.1M109.1 718h.1M130.3 717.1h.1M124.4 770.9h.1M117.9 724.6h.1M158.7 745.9h.1M96.5 729.7h.1M136.8 702.9h.1M116.6 752.4h.1M151 744.3h.1M152.4 734.3h.1M119.8 764h.1M119.1 759.2h.1M108.1 725.4h.1M106 741.1h.1M104.7 714.2h.1M108.1 734.7h.1M114.3 733.1h.1M159.5 751.2h.1M150.8 714.2h.1M119.2 704h.1M139.5 726.6h.1M112 699.7h.1M105.9 718.7h.1M119.8 770.2h.1M141.1 719.2h.1M117.7 710.3h.1M155.7 726.3h.1M144.4 754.7h.1M153.8 699.9h.1M115.2 728.2h.1M99.4 767h.1M115.4 758.3h.1M128.2 702.6h.1M119.9 716.9h.1M96.6 710.1h.1M133.2 700.8h.1M114.5 731.3h.1M129.8 708.9h.1M140.5 718.6h.1M141.8 750.2h.1M103.6 714.3h.1M112.4 753.8h.1M120.7 728.4h.1M151.1 715.9h.1M113.2 725.2h.1M108.1 701.5h.1M95.5 747.4h.1M131.3 761.3h.1M158.3 721.5h.1M138.2 769.9h.1M108.2 752h.1M137.9 772.7h.1M151.2 716.6h.1M135.6 705.3h.1M122.1 728.9h.1M97.9 728.2h.1M115.6 737h.1M112.4 710.7h.1M120.5 735.3h.1M104.9 750.1h.1M109.7 705.5h.1M116.5 731.2h.1M103.9 743.7h.1M140.2 741.4h.1M140.1 700.1h.1M119.7 726.7h.1M98.1 729.8h.1M97.5 736.9h.1M132.6 734.8h.1M115.4 718h.1M95.5 725.3h.1M152.8 742.4h.1M111.2 750.3h.1M106.2 734.9h.1M134.5 772.7h.1M117.8 743.2h.1M156.1 758.4h.1M135.3 746.7h.1M121 730.7h.1M112.1 762.9h.1M152 728h.1M153.9 701.3h.1M102.9 737.8h.1M114.3 726.4h.1M158.4 710h.1M106.6 716.1h.1M138.8 716.6h.1M94 740.7h.1M119.9 716.9h.1M126.5 748.9h.1M130.1 746.9h.1M130.9 763h.1M157.8 724.3h.1M116.8 767.3h.1M114.6 754.1h.1M139.8 751.8h.1M157.5 762.5h.1M104.4 746.7h.1M126.3 742.2h.1M118.3 720.6h.1M143.3 739.9h.1M109.5 717.7h.1M115.3 712.1h.1M127.8 708.1h.1M98.1 703.6h.1M100.6 753.2h.1M101.3 733.5h.1M144.9 735.7h.1M104.6 765.8h.1M151.3 702.5h.1M110.7 737.8h.1M146.5 728.9h.1M141.2 717.9h.1M141.1 723.8h.1M115.9 757.4h.1M149.5 762.8h.1M131.4 731.1h.1M140.6 746.8h.1M148.7 760.7h.1M102.2 727.7h.1M138.1 716.3h.1M106.1 699.4h.1M132.5 771.6h.1M157.9 708.7h.1M139.3 731h.1M135.6 729.2h.1M155.5 775.3h.1M97.1 753.9h.1M101.7 701.6h.1M112.8 755.3h.1M159.5 707.7h.1M115.7 700.4h.1M129.7 735.9h.1M118.5 722.4h.1M146.7 763.6h.1M112.6 728.8h.1M134.7 757.9h.1M158.6 728.6h.1M139.7 740.8h.1M146.7 709.7h.1M105.5 706.6h.1M155.5 717.9h.1M126.1 707.7h.1M115.3 699.8h.1M131.3 709.5h.1M135.2 719.6h.1M108.9 735.9h.1M118 718.5h.1M97.3 703.3h.1M152.8 722.4h.1M99.1 712.5h.1M125.8 776h.1M107.2 765.9h.1M125.9 730.6h.1M147.2 729.1h.1M97.7 741.2h.1M137.3 746.8h.1M112.2 771.4h.1M151 775.8h.1M123.2 763.2h.1M141.7 712h.1M95.7 711.5h.1M101.7 704.1h.1M117.6 757h.1M114.4 738.4h.1M94.6 714.7h.1M157.2 699.2h.1M128.7 761.4h.1M146.2 755.6h.1M120.3 760.9h.1M148.5 758.1h.1M159 706.2h.1M156.6 729.6h.1M140.4 717.8h.1M153.9 700.1h.1M132 716h.1M119.5 727.1h.1M137.3 761.5h.1M118 748h.1M117.3 720.1h.1M153.6 723.4h.1M100.1 724.4h.1M142.8 714.8h.1M143 740.9h.1M138.8 712.1h.1M100.9 709.4h.1M117 731.9h.1M94.5 737.5h.1M120.5 723.3h.1M129.4 772.5h.1M107.4 766.9h.1M115.1 757h.1M101.1 775.2h.1M122.3 773.3h.1M108.4 730.1h.1M140.5 712.2h.1M111.9 751.1h.1M156.4 723.4h.1M106 726.1h.1M159.2 709.8h.1M135.8 727.8h.1M136.4 714.8h.1M134.6 767.4h.1M150.4 747.3h.1M127.2 742.5h.1M101.4 763.5h.1M139.4 733.6h.1M137.8 731h.1M119.3 716.2h.1M133.5 742.9h.1M127.9 700.8h.1M135.3 733.1h.1M133.1 744.6h.1M155.4 710.1h.1M124.8 775.6h.1M142.6 722.7h.1M142.5 775.4h.1M120.4 765.9h.1M102.3 775.4h.1M126.3 716.5h.1M149.4 748.9h.1M155.8 762.9h.1M146.5 738.2h.1M159.5 703.3h.1M151.3 753.7h.1M110.4 761.2h.1M123.9 740.1h.1M151 713.6h.1M112.4 748.4h.1M98.8 741.5h.1M145.9 736.5h.1M109.9 760.6h.1M150.3 758.3h.1M130.2 768.9h.1M146.5 710.1h.1M118 706.1h.1M96.3 725.2h.1M151 763.3h.1M101.6 712.5h.1M119.5 764.5h.1M134.6 768.5h.1M98.6 775.3h.1M107.5 747.3h.1M151.8 755h.1M106.9 750.4h.1M122.3 699.5h.1M116.3 722.9h.1M135.5 720h.1M133.7 752.4h.1M105.8 708.3h.1M139.7 734.6h.1M102.4 707.3h.1M156 745.8h.1M117.5 713.6h.1M159.6 752.2h.1M142.5 726.4h.1M114.4 730.1h.1M103.6 747.5h.1M121.9 762.2h.1M120.9 733.9h.1M127.3 771.7h.1M116.8 753.1h.1M109.4 743.4h.1M112.7 766.3h.1M112.8 764.9h.1M138.6 733.7h.1M155.5 728.5h.1M143 745.1h.1M123.5 703.3h.1M121.6 720.2h.1M123 772.7h.1M113.2 752.4h.1M138.3 717.4h.1M121.1 708.6h.1M153 717.9h.1M121.7 724.9h.1M148.1 764.5h.1M132.9 740.8h.1M100.5 768.1h.1M99.7 726.6h.1M118.6 754.6h.1M138.1 725.1h.1M153.2 772.3h.1M95.4 747.6h.1M124.9 726.5h.1M124.6 722.9h.1M138.2 745.5h.1M157.9 774.4h.1M159.4 729.1h.1M148.6 748.9h.1M140.2 776h.1M98.3 734.3h.1M120.4 749.4h.1M108.3 775.4h.1M107.7 727.1h.1M103.3 729h.1M142.9 704.8h.1M104.9 748.9h.1M135 756.1h.1M110.6 761.5h.1M142.1 758.8h.1M101.8 734.8h.1M94.9 765.3h.1M156.2 768.1h.1M95.5 725.7h.1M129.3 739.9h.1M101.2 759.8h.1M113.8 737.8h.1M102.1 742.5h.1M102.5 705.2h.1M127.7 721.2h.1M145.2 717.5h.1M121.2 702.5h.1M108.3 733.5h.1M130.7 734.1h.1M150 706.4h.1M150 710.4h.1M157.9 739.2h.1M120.7 746h.1M150.9 773.4h.1M121.2 699.1h.1M104 762.1h.1M142.4 753.8h.1M104.2 739.7h.1M95.8 706.9h.1M113.7 773.6h.1M136.3 764.3h.1M96.9 730.7h.1M99.1 718.6h.1M101.3 769.9h.1M115.6 736.4h.1M137.1 767.4h.1M156.4 742.5h.1M127 768.7h.1M119.9 721.6h.1M142.7 718.4h.1M118.2 731.7h.1M125.4 726.2h.1M122.3 733.4h.1M97.2 763.4h.1M98 739.4h.1M130 729.4h.1M108.6 706h.1M118.4 722.8h.1M125.8 716.2h.1M143.4 736.3h.1M94.5 730h.1M157.7 698.9h.1M133.1 773.1h.1M118 744.9h.1M118.2 721.8h.1M134.1 744.2h.1M114.7 737.1h.1M128 757h.1M97.4 705.5h.1M110.5 719.3h.1M146.4 731.4h.1M150.7 729.6h.1M112.8 751.3h.1M99.5 775h.1M148.8 723.9h.1M114.8 762.1h.1M145.9 748.3h.1M97.6 757.8h.1M97.1 747h.1M130.3 770.5h.1M136.1 700h.1M155.6 756.9h.1M132.2 698.7h.1M142.5 730.9h.1M138.8 774.9h.1M154.4 704.1h.1M145.5 732.6h.1M143.5 727.7h.1M123.4 732.3h.1M101.7 723.2h.1M142.4 703.9h.1M101.5 763.3h.1M137.9 741h.1M101.4 707.5h.1M114.4 772.6h.1M130.9 770.1h.1M107.8 730.6h.1M129.3 763.7h.1M102 766.4h.1M125.1 700.7h.1M122.4 727.7h.1M138.4 770.6h.1M126.5 752h.1M119.5 759h.1M100.8 756.1h.1M104.9 743.9h.1M107.2 725.3h.1M104.7 725.5h.1M132.9 738.8h.1M119.5 743h.1M149.5 726.2h.1M132.4 735.7h.1M158.6 723.9h.1M139.9 716.5h.1M111.1 755.2h.1M131.8 718.3h.1M98.1 762.6h.1M118.8 754.1h.1M122.5 746.4h.1M130.8 774.3h.1M153.9 733.8h.1M126 716.3h.1M143.6 706.3h.1M114.1 764.3h.1M96.2 752.7h.1M131.4 741.3h.1M115.9 710.1h.1M156.7 757.9h.1M147.1 705.9h.1M145.6 715.3h.1M107.1 740h.1M134.1 707.7h.1M144.4 743.7h.1M153.3 770.3h.1M139.4 726.7h.1M156.7 754.3h.1M113.1 765.1h.1M141.9 718.9h.1M110.3 699.9h.1M129.4 718.1h.1M113.2 718h.1M102.6 736.1h.1M111.9 720.5h.1M112.2 738h.1M151.6 710.8h.1M150.6 764.9h.1M134.1 740.7h.1M142.3 739.9h.1M137.5 769.9h.1M145.1 718.5h.1M97.5 771.3h.1M117.8 759.6h.1M109.3 733.6h.1M118.4 755.1h.1M156.2 737.7h.1M131.3 725.5h.1M109.2 772.3h.1M101.2 771.6h.1M137.3 703.9h.1M153.4 706.2h.1M131.2 707.6h.1M159.2 722.4h.1M151.5 703.1h.1M137.9 703.6h.1M95.9 742.8h.1M158.8 751.7h.1M150.4 759.4h.1M128.3 704.3h.1M128.7 712.7h.1M128.7 725.9h.1M126.8 713.7h.1M140.4 730.8h.1M126 704.4h.1M126 741.7h.1M158.1 742h.1M102.8 721.7h.1M116.1 753h.1M155.9 774.3h.1M156.6 770.4h.1M150.6 771.1h.1M95.2 736.4h.1M132.9 751.7h.1M134.3 746.1h.1M155.5 705h.1M128.2 773h.1M96 707h.1M151.3 772.9h.1M95.5 700.8h.1M148.7 751.9h.1M128.2 743.5h.1M143.9 761.2h.1M93.9 703.6h.1M146.3 774.3h.1M148.9 730.1h.1M116 725.3h.1M94.9 758.3h.1M111.2 743.9h.1M128.6 724.4h.1M138.4 733.7h.1M109.4 767h.1M105.5 710h.1M110.6 735.6h.1M145.6 724.2h.1M109.6 749.3h.1M111.1 739h.1M110.7 766.6h.1M106.1 716.4h.1M113.8 724h.1M141.8 750.8h.1M146.1 740.4h.1M99.1 757.8h.1M110 715.3h.1M121.2 775.4h.1M118.4 726.1h.1M154 775.5h.1M119.5 708.9h.1M146 759.2h.1M116.2 759.9h.1M118.9 720.7h.1M133.1 756.1h.1M125.3 762h.1M94.8 737.2h.1M119 703.4h.1M154.3 709.5h.1M107.5 766.7h.1M157.3 770.9h.1M116.5 770.8h.1M103.3 754h.1M156.3 713.3h.1M102.9 751.1h.1M152.1 754.9h.1M156.6 733.6h.1M118.5 707.7h.1M111.9 771.4h.1M98.6 712.7h.1M116.8 702.1h.1M114.2 712.5h.1M102 739.3h.1M129.6 742.5h.1M144.2 739.3h.1M156.4 704.6h.1M108.6 704.3h.1M114.3 757.6h.1M154.9 737.5h.1M104.5 724h.1M131.4 721.2h.1M146.2 774.1h.1M124.2 745.3h.1M149.7 734.5h.1M106.5 771.8h.1M158.4 700.2h.1M144.2 729.5h.1M97.3 711h.1M105.3 755.7h.1M107.9 699.8h.1M108.4 760.6h.1M126.8 749.2h.1M124.6 712.5h.1M94.9 722h.1M96.6 718.6h.1M134.7 727.1h.1M125.1 746.9h.1M114.8 726.1h.1M152.2 743.6h.1M121.4 740.4h.1M124.3 724.2h.1M154.2 716.5h.1M155.7 764.7h.1M152.1 711h.1M127.5 775h.1M113 711.6h.1M141.6 716.6h.1M132.4 710.6h.1M156.4 720.4h.1M100.3 751.8h.1M116.8 741.9h.1M126.7 770.2h.1M127.8 727.8h.1M94 737h.1M111.7 743h.1M135.6 734.3h.1M99.8 737.1h.1M125.7 748.3h.1M157.9 720.1h.1M123.1 704.9h.1M146.7 716.6h.1M148.6 760.5h.1M110.7 768.6h.1M127.2 731.5h.1M130.5 772h.1M126.2 735.9h.1M113.1 763.8h.1M127.1 725h.1M106.9 715.1h.1M149 760.9h.1M158.5 769.7h.1M139.1 760.4h.1M140.9 761.4h.1M146.8 712h.1M147.7 721.9h.1M110 769.9h.1M95.4 738.2h.1M116.5 760h.1M134.2 769.3h.1M155.4 748.5h.1M98.2 750.3h.1M101.1 774.8h.1M151.4 722.5h.1M106.2 752.4h.1M143.9 775h.1M135 708.1h.1M141.9 702.9h.1M151.2 758.2h.1M145.7 766.4h.1M131.5 771.8h.1M136.1 736.6h.1M119.3 725.8h.1M95.4 710.8h.1M146.4 716.1h.1M137 758.7h.1M139.7 738.5h.1M114.8 719.6h.1M106.3 748.8h.1M139.2 771.7h.1M115.7 770.5h.1M154.1 720.9h.1M156.7 746.5h.1M157.4 758.6h.1M115.9 720.1h.1M128.4 736.3h.1M96.2 765.5h.1M129.2 735.1h.1M143 717.8h.1M107 743.5h.1M109.8 723.8h.1" stroke-width="1.1" fill="none"/>
<clipPath id="c16"><path clip-rule="nonzero" d="M91.5 784.5 L162 784.5 L167 837.2 L87.5 837.2 Z"/></clipPath><path clip-path="url(#c16)" d="M93.1 787.2h.1M115.7 812.3h.1M162.9 818.2h.1M120.4 805.9h.1M106.2 809.5h.1M163.7 790.9h.1M121.9 820.6h.1M148.1 813.8h.1M138.5 834h.1M159.3 797.7h.1M130.5 837.1h.1M129.5 794.5h.1M148.4 787.5h.1M99.5 813.6h.1M109.2 822.4h.1M145.3 801.3h.1M148.5 818.6h.1M143.6 808.6h.1M121.9 790.1h.1M125.3 834.8h.1M158.1 787.5h.1M93.1 798.7h.1M142.7 807.6h.1M97.7 806.9h.1M133.1 823.7h.1M119.5 818.7h.1M141.7 816.9h.1M91.2 821.9h.1M97.7 787.4h.1M125.2 785.4h.1M93.3 805.1h.1M124.8 790.1h.1M163.3 829.4h.1M126.2 815.5h.1M112.6 836.3h.1M97 800.5h.1M105.1 830.1h.1M128 806.1h.1M119.2 831.2h.1M108 826.2h.1M143.8 808.1h.1M116.6 807.5h.1M123.5 801.1h.1M137.1 806.2h.1M111.6 825.2h.1M123.7 809.5h.1M157.4 808.5h.1M117.4 831.8h.1M165.1 825.9h.1M119.4 819.9h.1M146.4 800.1h.1M145.1 834.6h.1M139.6 819.7h.1M122.1 818.9h.1M105.5 825.1h.1M130.4 836.1h.1M114.7 822h.1M88.8 806.4h.1M148.4 798.2h.1M136.3 796.1h.1M119.2 836.9h.1M103.1 832.6h.1M92.3 815.2h.1M152.8 828.6h.1M118.6 815.6h.1M144.1 824.6h.1M146.9 815h.1M107.5 821.7h.1M132.1 813.2h.1M166 791.7h.1M149.6 801.6h.1M145.3 834.6h.1M109.3 814.4h.1M129.5 810.6h.1M100.8 817.5h.1M158.5 819.5h.1M110.5 827h.1M120.9 792.2h.1M135.7 808.8h.1M129.6 836.7h.1M132.8 834.7h.1M115.5 824.5h.1M93.5 800.3h.1M142.5 820.9h.1M153.4 804.5h.1M109.3 803.4h.1M130.2 785.8h.1M117.3 819.1h.1M99.3 800.9h.1M156.9 833.7h.1M107.4 793.9h.1M96.9 789h.1M150.6 823.4h.1M108.5 810.3h.1M142.8 786h.1M152.6 829.8h.1M104.3 821.6h.1M143.1 802.3h.1M157.3 796h.1M125.2 801h.1M122.6 827.3h.1M132.8 816.6h.1M166 796.3h.1M105.2 817.2h.1M99.4 835.3h.1M114.6 807.7h.1M121.8 828.1h.1M160.3 820.2h.1M101.1 803.2h.1M143.7 795.9h.1M157.7 830.5h.1M105.5 803.7h.1M105.7 822.4h.1M91.2 821.2h.1M92.5 828.8h.1M130.7 815.2h.1M95.1 786.8h.1M115.6 836.4h.1M135.2 829.9h.1M92.5 789.9h.1M89.2 821.2h.1M101.5 798.9h.1M140.5 821.2h.1M113.1 809.1h.1M110.5 814.1h.1M115.8 803.5h.1M107.3 799.9h.1M108.2 785.4h.1M112.2 815.7h.1M108.9 790.5h.1M154.8 809.2h.1M128.2 800.9h.1M158 824.2h.1M137 819.3h.1M142.5 810.9h.1M120.3 805.1h.1M127.6 809.2h.1M129.5 812.6h.1M150.2 831.5h.1M105.3 785.7h.1M111.4 786.2h.1M150.8 817.2h.1M110.2 794.6h.1M156.6 828.6h.1M141.9 821h.1M146.7 808.5h.1M119.1 813.6h.1M157.5 836.7h.1M160.4 828.5h.1M93.4 797.5h.1M164.7 813.1h.1M128.4 800.8h.1M156 811.7h.1M166.2 788.5h.1M166.5 785.2h.1M99.3 805h.1M138.3 790.3h.1M132.2 834h.1M122.1 824.7h.1M134.6 815.2h.1M101.3 809h.1M159.1 820h.1M104.7 808.1h.1M130.7 802.2h.1M133.4 817.8h.1M88.9 796.1h.1M139.7 795.8h.1M93.3 824.7h.1M114 835h.1M131.9 789.8h.1M138.1 798.3h.1M152.2 822.7h.1M147.8 787.5h.1M90.2 826.5h.1M98.7 795.1h.1M89.9 793.1h.1M125.2 835h.1M113 798.2h.1M153.3 794.2h.1M138 816.9h.1M161.9 786.8h.1M132.3 804.7h.1M153 797.8h.1M144.3 794.3h.1M126.9 835.5h.1M106.6 799.2h.1M160.4 820h.1M92.7 794.3h.1M106.4 799.8h.1M154.6 821.4h.1M165.4 819.8h.1M137.4 804.7h.1M144.5 810.5h.1M92.2 810.4h.1M118 812.5h.1M91.4 786h.1M165.6 804.1h.1M113.7 792.3h.1M134.6 832.7h.1M101.8 810.9h.1M127.2 824.9h.1M132.4 797.1h.1M102.6 822.7h.1M93.7 830.1h.1M90.2 794.5h.1M124.7 829h.1M136.8 823.8h.1M148 822.6h.1M91.6 828h.1M99.2 793.1h.1M90.5 786h.1M157.2 804.6h.1M94.4 787h.1M154.8 816.2h.1M160.3 786.5h.1M96.4 799.6h.1M102.7 790.4h.1M103.4 818.2h.1M100.9 793.4h.1M130.1 804.3h.1M99.4 814.4h.1M127.9 804.9h.1M125.2 786.6h.1M136.4 794.7h.1M114.2 785h.1M158.1 815.5h.1M118.7 813.1h.1M162.2 791.5h.1M118 821.8h.1M117.1 821.7h.1M159.7 786.7h.1M110.1 799.9h.1M147.1 825.8h.1M143.1 833.2h.1M102.3 805.2h.1M155.3 824.8h.1M96.5 836.1h.1M146.4 830.1h.1M116.3 816.4h.1M163.7 831.8h.1M133.4 831.4h.1M166.9 828.7h.1M139.6 835.1h.1M98.9 805.8h.1M132.3 791.4h.1M149.6 787.8h.1M137.5 799.2h.1M113.2 816.5h.1M102.7 808.1h.1M155.6 836.5h.1M108.4 803.8h.1M142.7 794.5h.1M155 795h.1M131.8 802.4h.1M87.6 784.6h.1M87.7 801.8h.1M109.4 836.7h.1M138.2 787.9h.1M144.4 796.8h.1M125.8 822.6h.1M155.6 833.8h.1M121 801.2h.1M119.1 801h.1M146.5 808.9h.1M142 792.5h.1M149.7 835.4h.1M103.6 817h.1M100.4 786.4h.1M120.4 794.2h.1M145.6 814.7h.1M141.1 835.5h.1M92.1 789.7h.1M90.3 808.7h.1M153 820.5h.1M131.1 829.6h.1M117.1 790.5h.1M138.5 785.8h.1M105.7 786.1h.1M100.3 787.9h.1M129.8 791.3h.1M135.5 827.9h.1M114.9 790.8h.1M140.9 822.9h.1M157.8 813.7h.1M133.8 830h.1M141.3 835.9h.1M110.3 825.3h.1M137.8 809.2h.1M88.4 809.6h.1M108.4 816.2h.1M128 811.4h.1M92.2 791.4h.1M135.8 820.4h.1M166.2 826.3h.1M110.6 808.5h.1M127.7 826.9h.1M118.9 833h.1M126 805.5h.1M125.6 803.3h.1M167 786.9h.1M119.3 788.7h.1M141.4 792.4h.1M99.4 806.8h.1M135.4 824.7h.1M122.8 800.1h.1M116.7 831.3h.1M104.5 785.1h.1M157.9 810h.1M98 791.7h.1M158.3 824h.1M92.6 820.1h.1M104.5 808h.1M135.6 787.2h.1M161.9 802.2h.1M98.9 825.6h.1M96.2 786.5h.1M139.3 809.3h.1M159.1 826.2h.1M103.9 786.9h.1M135.5 809.3h.1M111.4 832.8h.1M104.1 818.4h.1M93.3 833.2h.1M162.9 817.1h.1M113 822.7h.1M159.3 826.4h.1M90.7 811.1h.1M98.6 813.3h.1M163 830.1h.1M107.3 813.6h.1M112.7 793.4h.1M146.6 824.5h.1M114.3 806.6h.1M142.9 822.8h.1M124.4 790.7h.1M95.1 793.4h.1M153.2 810.7h.1M138.7 803.7h.1M116.8 793.8h.1M165 816.4h.1M97.7 821.5h.1M135 816.8h.1M148.7 816.6h.1M157.2 835.6h.1M119.8 818.7h.1M117.3 806.1h.1M116.6 818.6h.1M115.5 803h.1M154.8 826.6h.1M141.3 829h.1M118.2 818.4h.1M107.5 801.1h.1M95.5 826.6h.1M160.7 800.5h.1M117.6 790.7h.1M98.8 818.1h.1M158.4 788.9h.1M107.7 824.5h.1M105.5 830.8h.1M115.5 809.4h.1M103.5 799.8h.1M121.3 799.2h.1M145.5 786.1h.1M138.3 826.8h.1M113.4 794.6h.1M97 788.6h.1M150.5 816.3h.1M88.7 808.4h.1M135.1 801.3h.1M90.3 806.7h.1M115.6 835.7h.1M116.1 833.1h.1M156.5 814.8h.1M97.5 827.1h.1M94.7 813.9h.1M95.2 789.4h.1M120.1 792.7h.1M166.4 815h.1M158.8 834.9h.1M147.8 818.5h.1M125.1 825.5h.1M140.7 792.8h.1M129.6 806.3h.1M128.5 822.1h.1M142.3 814.5h.1M150.2 828h.1M94.8 792.1h.1M91.3 793h.1M163.7 800.8h.1M122.4 809h.1M132.4 799.2h.1M149.4 802h.1M154.7 826.8h.1M87.6 813.4h.1M94.9 831.1h.1M93 798.6h.1M148.6 815.6h.1M140.5 806.3h.1M128.9 795.2h.1M124.3 798.1h.1M141.2 790.1h.1M98.4 794.9h.1M129.9 815.2h.1M87.7 836.5h.1M153.9 804.5h.1M100.1 828h.1M165.2 793.9h.1M147.6 827.6h.1M162 795.5h.1M97.1 793.2h.1M105.9 831.9h.1M159.8 809.5h.1M97.6 803.1h.1M106.7 818.7h.1M144.7 825.4h.1M122.2 808.6h.1M124.7 804h.1M123.7 820.6h.1M144 801.7h.1M132.6 792.1h.1M91.1 804.9h.1M116.1 786.2h.1M93.8 806.9h.1M162.4 828.6h.1M89.9 801.2h.1M116.8 800.9h.1M98.4 815.6h.1M154.2 804.6h.1M101.5 790h.1M88.7 824.8h.1M105.8 822.7h.1M150.4 788.9h.1M102.5 801.1h.1M148.6 823.3h.1M111.6 808.3h.1M115.7 809.4h.1M150.6 798.3h.1M151.9 833h.1M135.3 835h.1M162.1 793.5h.1M166.3 795.1h.1M151.5 790.9h.1M111.6 807.8h.1M154.2 820.4h.1M103.7 831.8h.1M156.3 811.4h.1M91.5 799.6h.1M110.7 806.6h.1M162.4 815.9h.1M152.7 788.3h.1M107 823h.1M114.6 796.5h.1M92.5 787.2h.1M120.3 813.3h.1M119.3 814.3h.1M110.6 785.4h.1M141.1 802.2h.1M126.6 804.4h.1M109 787.2h.1M111.1 800.2h.1M96.6 786.1h.1M125.7 785.5h.1M157.4 803.5h.1M122.8 812.2h.1M89.4 789.8h.1M149.9 813.8h.1M126.7 802.6h.1M147.2 811h.1M150.5 828.5h.1M158.6 822.8h.1M141.1 808.8h.1M129.9 815h.1M129.3 827.7h.1M155.7 787.2h.1M147.3 817h.1M135.1 832.4h.1M91.4 809.5h.1M117.3 834.5h.1M100.6 814.2h.1M99 824.2h.1M126.4 823.3h.1M111.9 831.1h.1M88.1 796.3h.1M145.8 830.8h.1M149.3 799h.1M93.9 821.9h.1M145.7 787.7h.1M161.8 812.3h.1M90.2 809.8h.1M114.4 790h.1M157.9 833.8h.1M97.4 808h.1M109.2 819.9h.1M96.2 802.1h.1M120.1 809.4h.1M122.1 815.9h.1M162.2 833.6h.1M159.6 828.2h.1M105.7 797.4h.1M124.1 818.4h.1M135.7 802.9h.1M166.3 801h.1M89 789.3h.1M104.1 823h.1M154.3 786.7h.1M106.3 797.3h.1M150 831.8h.1M108.4 789.9h.1M164.4 835.7h.1M144.5 809.4h.1M146.9 824.9h.1M128 798.8h.1M129.2 819.4h.1M113.3 818.2h.1M99.2 835.7h.1M104.3 796.4h.1M163.8 834.6h.1M161.1 828.8h.1M155 827.8h.1M132.6 788.4h.1M145.7 828.5h.1M154.1 786.8h.1M92.4 823h.1M126.3 831.6h.1M166.3 808.1h.1M141.2 819.6h.1M142.6 803.9h.1M138.3 788.1h.1M159.1 822.6h.1M151.3 808.9h.1M103.8 808.3h.1M141.6 813.4h.1M96.1 784.7h.1M119.1 797.4h.1M105.5 796.2h.1M120.5 821.1h.1M160.1 820.2h.1M89.1 830.2h.1M135.9 823.1h.1M136.3 803.2h.1M114.5 788.3h.1M140.3 787.3h.1M141.6 832.5h.1M140.6 816.4h.1M151.7 835.1h.1M152.1 836.7h.1M124 785.3h.1M136.3 818.1h.1M156.1 816.8h.1M116.4 784.7h.1M153.5 817.4h.1M165.8 815.8h.1M155.3 825.2h.1M166.3 808.9h.1M158.8 805.4h.1M88.4 801.7h.1M115.4 836.8h.1M118.9 799h.1M142.4 789.6h.1M111.8 805.3h.1M97.4 816h.1M121.1 826.8h.1M114.5 836h.1M103.1 812.5h.1M105.5 785.3h.1M111.5 831.7h.1M110.7 810.2h.1M129.2 798.5h.1M130 787.9h.1M115.3 799.5h.1M152.3 825.1h.1M143.2 815.9h.1M156.4 823.6h.1M91.9 791.4h.1M147 828.8h.1M166.2 825.4h.1M100 814.4h.1M137.1 816.4h.1M98.2 835.5h.1M128.1 798.7h.1M165.5 804.8h.1M93.1 819.8h.1M108.1 796h.1M111.6 816.5h.1M112.9 819.5h.1M159.5 836.7h.1M158.2 833.1h.1M107.6 827.9h.1M94.6 815.2h.1M93.5 789.7h.1M162.9 791.2h.1M144.5 812.3h.1M87.6 826.3h.1M92.3 831.2h.1M152.6 810.7h.1M123 786h.1M143.1 786.6h.1M129.3 833.3h.1M141.4 790.6h.1M144.8 821.5h.1M113.7 825.2h.1M133.5 806.3h.1M129.3 799h.1M110.3 831.3h.1M115.3 825.1h.1M116.7 794.5h.1M87.6 835.3h.1M147.3 836.2h.1M134.3 787.8h.1M100.5 787.1h.1M136.2 817.3h.1M163.5 800.1h.1M106 796.2h.1M99.2 786h.1M126.8 806.6h.1M116.8 834.6h.1M112.4 828.1h.1M129.8 789.9h.1M89.9 816.6h.1M157 787.2h.1M143.3 796.8h.1M142.1 828.4h.1M145.3 797.4h.1M99.9 835.5h.1M160.3 833.2h.1M130.5 787.2h.1M116.8 832.5h.1M92.8 800.1h.1M90.9 830.9h.1M115.6 788.8h.1M115.8 795.2h.1M122 817h.1M139.8 789.6h.1M130 787.5h.1M122.6 827.1h.1M108.4 827.8h.1M106.9 805.2h.1M150.5 784.7h.1M131.5 812.8h.1M144.3 834.5h.1M142.7 796.3h.1M103.3 809.9h.1M109.9 813.7h.1M94.6 821.1h.1M120.6 787.1h.1M97.1 833.8h.1M155 830.9h.1M118.5 836.4h.1M101 822.8h.1M162.4 795.5h.1M87.8 791.2h.1M94.1 826.8h.1M135.7 809.6h.1M96.6 818.4h.1M98.4 791.5h.1M134.7 818.4h.1M151.2 828.1h.1M98.4 800.5h.1M98.9 810.4h.1M89.8 830.2h.1M141.7 827.1h.1M126.3 832.6h.1M153.9 828.2h.1M151.6 795.9h.1M115 787.5h.1M148.3 809.4h.1M165.9 799.8h.1M121.8 830.2h.1M164.5 824.4h.1M157.7 833.2h.1M109.1 817h.1M92.6 820.2h.1M163.2 811.2h.1M99.1 814.5h.1M92.7 808.8h.1M93.9 806.5h.1M152.5 823.5h.1M155.4 808.6h.1M122.6 787.4h.1M150.2 814.5h.1M119.9 792.2h.1M124 787.8h.1M97 788.7h.1M121.3 791.7h.1M153.3 816.6h.1M156.4 813.7h.1M100.2 799.1h.1M154.2 815.3h.1M138.9 817.8h.1M91.3 795h.1M121.8 829h.1M162.5 815.7h.1M108.1 787h.1M131.9 806.1h.1M161.5 795.4h.1M103.8 785.3h.1M89.8 827.1h.1M156.8 792.6h.1M88.7 814.9h.1M107.1 816.9h.1M160 823.9h.1M109.8 816.5h.1M110.5 824.5h.1M108 830.3h.1M141.4 831.5h.1M115 834.8h.1M133.8 798.1h.1M138.9 800.9h.1M96.5 786.6h.1M136 797.2h.1M95.5 825.4h.1M98.8 824.3h.1M109.2 803.7h.1M161.6 828.2h.1M153.9 836.2h.1M135.5 833.8h.1M137 815.2h.1M113.2 804.5h.1M132.8 797.5h.1M138.5 830h.1M144.8 796.4h.1M89.7 803.8h.1M122 829.1h.1M131 811.8h.1M135.7 813.6h.1M141.4 813.9h.1M131.4 796.9h.1M97.3 807.7h.1M158 834.4h.1M110.8 814.8h.1M128.7 808.4h.1M101.7 826.1h.1M94.3 796.5h.1M109.7 795.2h.1M102.9 788.7h.1M129.1 793.6h.1M138.6 816.1h.1M137.2 809.8h.1M136.2 800.1h.1M124.4 820.8h.1M104.6 823.1h.1M134 835.9h.1M136.5 813.4h.1M148.6 799.7h.1M117.1 807.3h.1M145.9 822.4h.1M102.2 834.8h.1M165.6 810.6h.1M166.6 817.2h.1M118.1 789.1h.1M88.9 815.7h.1M144.6 817h.1M149.7 807.5h.1M146.5 816.3h.1M137.9 813.4h.1M140.5 814h.1M94.7 820.1h.1M143.4 807.1h.1M164.6 809.8h.1M100.7 811.4h.1M116 793.2h.1M158.1 793.8h.1M144.1 793.5h.1M128.6 837h.1M94.6 829.8h.1M88 836h.1M159.7 808.1h.1M138.2 808.7h.1M100.5 803.2h.1M122.6 830.3h.1M96.6 812.9h.1M125 813.6h.1M150.5 816.1h.1M113.2 834.8h.1M135.1 798.8h.1M131 830.2h.1M91.2 818.6h.1M126.3 799.7h.1M100.2 796.7h.1M122.3 806.7h.1M135.3 798.7h.1M136.8 809.4h.1M150.8 826.9h.1M106.4 836h.1M130.9 802.2h.1M107.7 822.1h.1M122.2 820.5h.1M107.8 829.8h.1M108.5 830.4h.1M122.4 805.6h.1M133.4 812.1h.1M131.1 814h.1M163 823.6h.1M94.8 836.6h.1M88.7 787.3h.1M152.6 799h.1M89.8 793.8h.1M126.9 829h.1M89.1 793.2h.1M88.5 787.3h.1M112.6 810.4h.1M164.5 818.7h.1M155.4 815.6h.1M159.9 820h.1M106.6 804.1h.1M125.6 790.3h.1M161 809.9h.1M103.4 810.4h.1M151.5 798.9h.1M134.2 789.3h.1M106.7 794.4h.1M127.7 820.7h.1M105.6 820.8h.1M134.1 824.1h.1M166.7 802.1h.1M166.7 808.5h.1M128 793.9h.1M94.3 818.5h.1M95.7 786.3h.1M94.2 813.1h.1M103.1 798.4h.1M148.5 808h.1M99.2 820.3h.1M166.6 817.3h.1M122.9 812.9h.1M143.4 828.7h.1M150 797.6h.1M149.5 790h.1M97.7 811.2h.1M102.2 814.1h.1M110.1 834.2h.1M121.9 827.5h.1M162.6 808.3h.1M148.6 810.4h.1M119.2 791h.1M139.9 833.1h.1M142.2 801.2h.1M129.2 803.3h.1M118.6 825.2h.1M88 809.9h.1M128.2 792.3h.1M145.7 797.9h.1M119.6 797.6h.1M135 807.2h.1M141.9 806.9h.1M149.8 813.5h.1M95.8 810.4h.1M107.6 800.2h.1M162.9 809.8h.1M146.2 792.7h.1M137.6 790.7h.1M105.1 791.2h.1M89.5 832.3h.1M164.2 803.9h.1M88.5 823.2h.1M140.2 786.9h.1M148.4 788.1h.1M106 825.5h.1M148.5 796.8h.1M127.9 826.7h.1M135.5 812.2h.1M102.2 788.1h.1M102.4 812.1h.1M134.9 808.8h.1M138.1 814.2h.1M138.8 806.2h.1M154.4 812.5h.1M157.5 836.5h.1M153.3 825.2h.1M142.4 813.6h.1M107.2 789.9h.1M140.1 797.6h.1M136.2 813.5h.1M135.8 807.1h.1M106.5 800.5h.1M142.9 831.2h.1M112.8 801h.1M123.1 807.1h.1M137.8 824.3h.1M148.5 827.1h.1M145.2 835.7h.1M123.2 808h.1M139.3 801h.1M153.4 806.5h.1M131.8 811.9h.1M116.5 785.1h.1M109.6 809.6h.1M163.1 791.7h.1M159.3 835.8h.1M150.4 799.2h.1M89 830.9h.1M92.9 800.2h.1M162.1 820h.1M153 828.4h.1M101.7 811.1h.1M95 804.5h.1M126.9 827.6h.1M110.5 819.6h.1M98.7 798h.1M92.2 815.1h.1M134.1 822.1h.1M120.9 833.9h.1M144.9 814.5h.1M156.9 794h.1M110.7 813.6h.1M135.2 834.8h.1M141.5 787h.1M162.6 809.1h.1M103.8 824.7h.1M137.4 829.5h.1M131.3 798h.1M124.9 809.1h.1M115.5 815.1h.1M99.4 797.8h.1M96.9 785.9h.1M129.3 823.4h.1M119.5 832h.1M135.9 819.2h.1M110.3 831.9h.1M115.2 829h.1M106.9 834.7h.1M141.8 793.9h.1M145.7 792.7h.1M118.1 804.4h.1M114.1 803.6h.1M100.3 805.6h.1M94.9 826.4h.1M115.6 822h.1M121.5 835.9h.1M157.4 821.7h.1M154.4 832.6h.1M161.5 806.3h.1M134.6 788.1h.1M116.5 801.8h.1M137 784.9h.1M147.5 788.4h.1M121.1 810.1h.1M154.4 817.8h.1M99.2 819.6h.1M106.2 817h.1M120.4 834.9h.1M123.2 798.8h.1M112.2 835h.1M115.2 797.3h.1M130 819.8h.1M162.3 788.7h.1M113.7 822.6h.1M126.9 820.9h.1M141.1 789.4h.1M91.5 793.8h.1M111.7 794.1h.1M110.3 790.5h.1M89.6 812.1h.1M147.8 792.9h.1M95 822.9h.1M93.8 791.9h.1M126.5 800.2h.1M149.9 811.2h.1M129.1 804.2h.1M89.7 827.8h.1M118.5 828.1h.1M95.9 807.3h.1M130.4 792.7h.1M93.4 833.8h.1M162.1 837.2h.1M130.8 823.1h.1M135.3 809.7h.1M101.2 818.3h.1M122.7 820.3h.1M90.8 800h.1M96.5 824.7h.1M125.6 799.6h.1M149.6 811.9h.1M110.6 805.2h.1M87.6 787.7h.1M90.4 835.2h.1M157.3 813.2h.1M162.3 812.9h.1M141.7 790h.1M122.2 816.7h.1M120 818.9h.1M114.8 819h.1M104 810.3h.1M121.5 812.2h.1M91.9 797.3h.1M144.4 793.3h.1M125.4 836.9h.1M136 823.2h.1M148.8 835.5h.1M118.3 805.4h.1M147.5 785.8h.1M124.8 798.8h.1M131.8 823.1h.1M156 811.2h.1M142.5 788.7h.1M139.9 833.5h.1M136.4 810.3h.1M128.1 806.2h.1M101.7 794.9h.1M150.7 811.7h.1M90.6 816.9h.1M153.5 818.8h.1M101.8 834.7h.1M102 811.3h.1M124.1 793.2h.1" stroke-width="1.1" fill="none"/>
<clipPath id="c17"><path clip-rule="nonzero" d="M113 776.2 L135 776.2 L135 784.5 L113 784.5 Z"/></clipPath><path clip-path="url(#c17)" d="M118.9 777.7h.1M116.7 776.5h.1M127.2 781.7h.1M118.5 784.1h.1M122.3 780h.1M133.4 781.6h.1M123.2 782.4h.1M129.3 778.8h.1M114.5 782.3h.1M129.5 781.2h.1M115.6 782.4h.1M116.9 782.8h.1M126.7 781.5h.1M114.7 779.2h.1M129.1 777.1h.1M113.8 779.6h.1M131.8 781.4h.1M118.1 776.9h.1M131.4 783.2h.1M128.4 777.9h.1M129.5 776.3h.1M116.8 778.9h.1M134.1 776.5h.1M116.5 782.3h.1M129.8 778.4h.1M114.7 783.3h.1M134.3 783.7h.1M125.5 776.9h.1M129.3 781.6h.1M131.3 782.5h.1M124.1 784.3h.1M123.2 779.9h.1M127 782.7h.1M125.9 784h.1M119 783.6h.1M132.3 779.1h.1M113.6 781.2h.1M126.6 784.2h.1M125.3 782.2h.1M129.7 777.6h.1M127.7 779.8h.1M117.8 778.5h.1M121 782.3h.1" stroke-width="1.1" fill="none"/>
<clipPath id="c18"><path clip-rule="nonzero" d="M101.2 698.3 L154.4 698.3 L159.9 776.2 L93.9 776.2 Z"/></clipPath><g clip-path="url(#c18)"><path d="M43.8 733.2 L122.8 654.2 M48.5 737.9 L127.6 658.9 M53.3 742.6 L132.3 663.6 M58 747.4 L137 668.4 M62.8 752.1 L141.8 673.1 M67.5 756.9 L146.5 677.8 M72.2 761.6 L151.2 682.6 M77 766.3 L156 687.3 M81.7 771.1 L160.7 692.1 M86.4 775.8 L165.5 696.8 M91.2 780.5 L170.2 701.5 M95.9 785.3 L174.9 706.3 M100.7 790 L179.7 711 M105.4 794.8 L184.4 715.7 M110.1 799.5 L189.1 720.5 M114.9 804.2 L193.9 725.2 M119.6 809 L198.6 730 M124.3 813.7 L203.4 734.7 M129.1 818.4 L208.1 739.4" stroke-width="1.2" fill="none"/></g>
<clipPath id="c19"><path clip-rule="nonzero" d="M91.5 784.5 L162 784.5 L167 837.2 L87.5 837.2 Z"/></clipPath><g clip-path="url(#c19)"><path d="M52.2 810 L126.4 735.8 M57 814.8 L131.2 740.6 M61.7 819.5 L135.9 745.3 M66.4 824.2 L140.6 750 M71.2 829 L145.4 754.8 M75.9 833.7 L150.1 759.5 M80.6 838.4 L154.8 764.2 M85.4 843.2 L159.6 769 M90.1 847.9 L164.3 773.7 M94.9 852.7 L169.1 778.5 M99.6 857.4 L173.8 783.2 M104.3 862.1 L178.5 787.9 M109.1 866.9 L183.3 792.7 M113.8 871.6 L188 797.4 M118.6 876.3 L192.7 802.2 M123.3 881.1 L197.5 806.9 M128 885.8 L202.2 811.6" stroke-width="1.2" fill="none"/></g>
<path d="M113 776.2 L135 776.2 L135 784.5 L113 784.5 Z" stroke-width="1.5" fill="none"/>
<path d="M91.5 784.5 L162 784.5 L167 837.2 L87.5 837.2 Z" stroke-width="1.9" fill="none"/>
<path d="M75 820.7 L87.5 820.7 L87.5 837.2 L77.7 837.2 Z" stroke-width="1.9" fill="#fff"/>
<path d="M166.5 822 L176.7 822 L175.5 837.2 L167 837.2 Z" stroke-width="1.9" fill="#fff"/>
<path d="M77.7 837.2 L175.5 837.2 L176.7 866 L75.3 866 Z" stroke-width="2" fill="#fff"/>
<path d="M54 866 C56.7 866.4 64 868.5 70 868.5 C76 868.5 83.3 865.8 90 866 C96.7 866.2 103.3 869.6 110 869.5 C116.7 869.4 123.3 865.7 130 865.5 C136.7 865.3 143.3 868.4 150 868.5 C156.7 868.6 164.2 866.1 170 866 C175.8 865.9 180.6 868 185 868 C189.4 868 194.8 866.3 196.7 866" stroke-width="2.2" fill="none"/>
<path d="M 25.1 737 L 20 747.6 M 32.3 742.3 C 31.1 740.8 26.8 741 25.7 745 C 24.9 748.1 29.2 748.1 31.2 746.5" stroke-width="1.9" fill="none"/>
<path d="M 215.1 721 C 216.2 718.6 221.7 718.1 220.8 721.4 C 220.2 723.7 214.4 726.4 212.7 729 L 219.3 729 M 230.3 718.4 L 225.2 718.4 L 223.4 723 C 226.2 721.9 229.5 722.4 228.4 725.8 C 227.2 729.5 222.4 729.5 221.6 727.5" stroke-width="1.9" fill="none"/>
<path d="M 220.8 743.8 L 215.7 754.4 M 225.4 748.9 C 223 748.4 224.2 743.8 226.7 743.8 C 229.3 743.8 228.5 748.4 225.4 748.9 C 221.6 749.5 220.8 754.4 223.9 754.4 C 227.1 754.4 228.8 749.5 225.4 748.9 Z" stroke-width="1.9" fill="none"/>
<path d="M 21.1 777 C 22.2 774.6 27.7 774.1 26.8 777.4 C 26.2 779.7 20.4 782.4 18.7 785 L 25.3 785 M 29.6 777 C 30.7 774.6 36.2 774.1 35.3 777.4 C 34.7 779.7 28.9 782.4 27.2 785 L 33.8 785" stroke-width="1.9" fill="none"/>
<path d="M 215.1 777 C 216.2 774.6 221.7 774.1 220.8 777.4 C 220.2 779.7 214.4 782.4 212.7 785 L 219.3 785 M 228.8 774.4 L 222 781.8 L 229 781.8 M 228.8 774.4 L 225.8 785" stroke-width="1.9" fill="none"/>
<path d="M 22.8 801 C 23.9 798.6 29.4 798.1 28.5 801.4 C 27.9 803.7 22.1 806.4 20.4 809 L 27 809 M 31.8 799.7 C 33.8 798.1 38.1 798.2 37.1 801 C 36.5 803 34 803.5 33 803.5 C 36.1 803.5 36.4 805.3 35.9 806.6 C 34.8 809.5 30 809.5 29.2 807.6" stroke-width="1.9" fill="none"/>
<path d="M 25.1 825.4 L 20 836 M 33.3 828.6 C 34.2 825.4 28.2 825.1 27.3 828.6 C 26.6 831.2 31.6 831.2 33.3 828.6 C 32 832.8 29.3 836 26.2 835.8" stroke-width="1.9" fill="none"/>
<path d="M 213.4 824.8 C 214.5 822.3 220 821.8 219.1 825.1 C 218.5 827.4 212.7 830.1 211 832.7 L 217.6 832.7 M 225.4 822.1 C 223.1 822.1 221.1 826.3 220.4 829 C 219.8 831.6 220.9 832.7 222.7 832.7 C 225.1 832.7 226.9 828.5 227.6 825.8 C 228.3 823.2 227.1 822.1 225.4 822.1 Z" stroke-width="1.9" fill="none"/>
<path d="M 94.4 852 C 95.5 849.6 101 849.1 100.1 852.4 C 99.5 854.7 93.7 857.4 92 860 L 98.6 860 M 106.8 849.4 L 101.8 860" stroke-width="1.9" fill="none"/>
<line x1="44" y1="737.4" x2="73" y2="734" stroke-width="1.3"/>
<line x1="209.3" y1="723.8" x2="136" y2="734" stroke-width="1.3"/>
<line x1="211" y1="749.3" x2="171.9" y2="752.7" stroke-width="1.3"/>
<line x1="44" y1="780.5" x2="112.3" y2="780.5" stroke-width="1.3"/>
<line x1="209.3" y1="780.5" x2="136" y2="780.5" stroke-width="1.3"/>
<line x1="47.7" y1="803.8" x2="117.4" y2="803.8" stroke-width="1.3"/>
<line x1="42.5" y1="828.6" x2="81.7" y2="828.6" stroke-width="1.3"/>
<line x1="207.6" y1="827.6" x2="171.9" y2="827.6" stroke-width="1.3"/>
<line x1="110.6" y1="848" x2="132.7" y2="822.5" stroke-width="1.3"/>
<circle cx="398.2" cy="707.5" r="55" fill="none" stroke-width="1.8"/>
<circle cx="398.2" cy="707.5" r="50.3" fill="none" stroke-width="1.7"/>
<rect x="394.3" y="650" width="7.8" height="13.5" fill="#fff" stroke="none"/>
<path d="M394.3 651.5 L394.3 663.3 L402.1 663.3 L402.1 651.5" stroke-width="1.8" fill="none"/>
<rect x="394.3" y="751.5" width="7.8" height="13.5" fill="#fff" stroke="none"/>
<path d="M394.3 763.5 L394.3 751.8 L402.1 751.8 L402.1 763.5" stroke-width="1.8" fill="none"/>
<rect x="342.5" y="704.3" width="15.2" height="6.6" fill="#fff" stroke="none"/>
<path d="M343.4 704.3 L357.6 704.3 L357.6 710.7 L343.4 710.7" stroke-width="1.8" fill="none"/>
<rect x="438.8" y="704.3" width="15.8" height="6.6" fill="#fff" stroke="none"/>
<path d="M453.1 704.3 L439.3 704.3 L439.3 710.7 L453.1 710.7" stroke-width="1.8" fill="none"/>
<circle cx="398.2" cy="707.5" r="34.3" fill="none" stroke-width="1.7"/>
<circle cx="398.2" cy="707.5" r="25.6" fill="none" stroke-width="1.9"/>
<path d="M421 695.3 A25.6 25.6 0 0 1 386 730.3" stroke-width="2.6" fill="none"/>
<circle cx="398.2" cy="707.5" r="11.2" fill="none" stroke-width="1.7"/>
<line x1="381" y1="707.5" x2="415.2" y2="707.5" stroke-width="1.4"/>
<path d="M343.4 707.5 L321 707.5 L321 696" stroke-width="1.7" fill="none"/>
<path d="M318.6 698 L321 692.5 L323.4 698" stroke-width="1.5" fill="none"/>
<path d="M453.1 708.5 L474 708.5 L474 696" stroke-width="1.7" fill="none"/>
<path d="M471.6 698 L474 692.5 L476.4 698" stroke-width="1.5" fill="none"/>
<path d="M 310.4 702.4 L 305.3 702.4 L 303.5 707 C 306.3 705.9 309.6 706.4 308.5 709.8 C 307.3 713.5 302.5 713.5 301.7 711.5" stroke-width="1.9" fill="none"/>
<path d="M 487.1 702.4 L 482 702.4 L 480.2 707 C 483 705.9 486.3 706.4 485.2 709.8 C 484 713.5 479.2 713.5 478.4 711.5" stroke-width="1.9" fill="none"/>
<path d="M 400.4 635.6 C 401.5 633.2 407 632.7 406.1 636 C 405.5 638.3 399.7 641 398 643.6 L 404.6 643.6 M 412.8 633 L 407.8 643.6" stroke-width="1.9" fill="none"/>
<path d="M 339.1 652.6 L 334 663.2 M 347.3 655.8 C 348.2 652.6 342.2 652.3 341.3 655.8 C 340.6 658.4 345.6 658.4 347.3 655.8 C 346 660 343.3 663.2 340.2 663" stroke-width="1.9" fill="none"/>
<path d="M 462.2 653.9 L 457.1 664.5 M 466.8 659 C 464.4 658.5 465.6 653.9 468.1 653.9 C 470.7 653.9 469.9 658.5 466.8 659 C 463 659.6 462.2 664.5 465.3 664.5 C 468.5 664.5 470.2 659.6 466.8 659 Z" stroke-width="1.9" fill="none"/>
<path d="M 435.9 762.5 C 437 760.1 442.5 759.6 441.6 762.9 C 441 765.2 435.2 767.9 433.5 770.5 L 440.1 770.5 M 444.4 762.5 C 445.5 760.1 451 759.6 450.1 762.9 C 449.5 765.2 443.7 767.9 442 770.5 L 448.6 770.5" stroke-width="1.9" fill="none"/>
<path d="M 382.2 779.5 C 383.3 777.1 388.8 776.6 387.9 779.9 C 387.3 782.2 381.5 784.9 379.8 787.5 L 386.4 787.5 M 394.6 776.9 L 389.6 787.5" stroke-width="1.9" fill="none"/>
<line x1="403.4" y1="643.6" x2="399.5" y2="652" stroke-width="1.3"/>
<line x1="347" y1="664.5" x2="362.8" y2="669.7" stroke-width="1.3"/>
<line x1="458.4" y1="668.4" x2="433.5" y2="682.8" stroke-width="1.3"/>
<line x1="433.5" y1="756" x2="400.8" y2="727.3" stroke-width="1.3"/>
<line x1="396.9" y1="771.8" x2="398.2" y2="763.5" stroke-width="1.3"/>
<clipPath id="c20"><path clip-rule="evenodd" d="M601.4 655.4 L648.5 655.4 L648.5 780.6 L652.5 780.6 L652.5 790.8 L636.8 790.8 L636.8 773.5 L610 773.5 L610 790.8 L592.8 790.8 L592.8 780.6 L601.4 780.6 Z M607 659.6 L643 659.6 L643 751.5 L607 751.5 Z M616.3 751.5 L631.3 751.5 L631.3 773.5 L616.3 773.5 Z"/></clipPath><g clip-path="url(#c20)"><path d="M509.4 721 L620.6 609.8 M512.9 724.5 L624.1 613.3 M516.4 728.1 L627.6 616.9 M520 731.6 L631.2 620.4 M523.5 735.2 L634.7 623.9 M527 738.7 L638.2 627.5 M530.6 742.2 L641.8 631 M534.1 745.8 L645.3 634.6 M537.6 749.3 L648.8 638.1 M541.2 752.8 L652.4 641.6 M544.7 756.4 L655.9 645.2 M548.2 759.9 L659.5 648.7 M551.8 763.4 L663 652.2 M555.3 767 L666.5 655.8 M558.9 770.5 L670.1 659.3 M562.4 774 L673.6 662.8 M565.9 777.6 L677.1 666.4 M569.5 781.1 L680.7 669.9 M573 784.6 L684.2 673.4 M576.5 788.2 L687.7 677 M580.1 791.7 L691.3 680.5 M583.6 795.3 L694.8 684.1 M587.1 798.8 L698.3 687.6 M590.7 802.3 L701.9 691.1 M594.2 805.9 L705.4 694.7 M597.7 809.4 L708.9 698.2 M601.3 812.9 L712.5 701.7 M604.8 816.5 L716 705.3 M608.4 820 L719.6 708.8 M611.9 823.5 L723.1 712.3 M615.4 827.1 L726.6 715.9 M619 830.6 L730.2 719.4 M622.5 834.1 L733.7 722.9 M626 837.7 L737.2 726.5" stroke-width="1.5" fill="none"/></g>
<clipPath id="c21"><path clip-rule="nonzero" d="M607 659.6 L643 659.6 L643 751.5 L607 751.5 Z"/></clipPath><path clip-path="url(#c21)" d="M626.9 689.1h.1M609 732h.1M634.1 736.5h.1M635.3 665.4h.1M617.1 702.1h.1M617.7 735.3h.1M614.4 660.9h.1M623.2 664.2h.1M608 715.3h.1M628.8 709.4h.1M609.5 711.1h.1M625.8 687.6h.1M615 673.9h.1M624.4 693.3h.1M628.1 721.5h.1M616.9 715.4h.1M616.3 728.1h.1M614.3 714.2h.1M633.5 733.1h.1M626.1 743.4h.1M642.5 732.4h.1M619.9 684.1h.1M629.6 671.4h.1M613.4 668.3h.1M630.4 695.2h.1M640.2 733.7h.1M626.1 690.9h.1M618.5 664.4h.1M611 739.7h.1M617.7 660.4h.1M642.3 694.5h.1M634.9 701.2h.1M641.9 667h.1M624 719.1h.1M607.9 743.9h.1M619.2 721.9h.1M609.8 666.8h.1M610.1 732.1h.1M640.9 743.8h.1M626.1 668h.1M635 706.2h.1M635.2 717.9h.1M627.4 675.3h.1M612.1 667.1h.1M622.6 686.2h.1M641.4 664.1h.1M634.3 670.6h.1M610.7 744.4h.1M614.9 714.3h.1M628.1 696.3h.1M619.6 672.5h.1M632 693.8h.1M628.6 734.8h.1M609.7 698.5h.1M619.7 745.3h.1M629.4 677.7h.1M623.5 660.9h.1M625.5 666h.1M612 706.3h.1M626.4 679.2h.1M628 688.2h.1M632.3 664.4h.1M637.3 700.9h.1M613.2 686.3h.1M629.6 668.3h.1M639.8 679.9h.1M621.8 666.3h.1M623.4 748h.1M613.7 676h.1M626.7 718.4h.1M612.1 679.7h.1M628.7 681.6h.1M608 723.4h.1M638.3 733.7h.1M637.8 679.1h.1M618.2 714.7h.1M629.2 717.1h.1M626.9 681.1h.1M615.6 667.4h.1M609.1 713h.1M610.1 740.2h.1M641.5 673h.1M641.8 716.9h.1M607.2 694.8h.1M620 688h.1M609.4 682h.1M607.6 700.8h.1M624.3 680.9h.1M640.3 741h.1M625 733.3h.1M619.7 728.8h.1M635 691.9h.1M633.6 691.9h.1M613.2 698.1h.1M611.1 725.6h.1M616.1 705.3h.1M636.1 714.6h.1M639.7 726.3h.1M631.9 727.7h.1M631.9 744h.1M628.4 720.3h.1M626.8 708.7h.1M640.9 687.2h.1M613.8 705.7h.1M618.2 725.2h.1M629.9 659.8h.1M614.5 716.5h.1M621.3 722.1h.1M623.9 669.8h.1M631.8 749.1h.1M610.3 716.2h.1M629.1 715.9h.1M625.2 706.2h.1M642.6 739.7h.1M622.6 734.3h.1M631 733.6h.1M642.9 666.2h.1M614.6 680.9h.1M636.5 744.5h.1M615.1 704.2h.1M639 726h.1M628.1 741.7h.1M640.3 668h.1M641.8 686.4h.1M629.1 728.8h.1M617.6 687.8h.1M639.6 732.3h.1M642.2 668.2h.1M629.5 727.6h.1M641.4 726.3h.1M617.1 668.9h.1M613.2 683.4h.1M627.5 689.3h.1M612.3 667.6h.1M631.7 734.5h.1M611.4 706.8h.1M642.3 692.8h.1M626.2 734.1h.1M607.9 739.8h.1M634.9 727.3h.1M619.3 704.8h.1M640.9 665.2h.1M610 718.4h.1M641.3 673.3h.1M613.8 701.9h.1M635.4 711.4h.1M630.8 664.4h.1M614.2 713.4h.1M633.1 668h.1M610.3 688.5h.1M621.9 690.2h.1M613.1 666.4h.1M630.2 747.2h.1M629.8 744.1h.1M611.6 716.2h.1M620.1 737.4h.1M628.5 716h.1M639.9 747.4h.1M611.9 699.8h.1M610.1 711.1h.1M615.1 723.8h.1M619.8 660.3h.1M639 671.2h.1M616.7 707.4h.1M609.1 730.6h.1M632.8 670.4h.1M629.3 671.4h.1M626.1 668.2h.1M617.1 701h.1M626.6 719.7h.1M640.4 690.4h.1M619.6 678.8h.1M633.6 693.4h.1M614.6 677.3h.1M622.1 736.5h.1M622.8 734.4h.1M624 713h.1M616.2 697.2h.1M633.1 667.3h.1M623.3 682.8h.1M617.5 690.7h.1M614.1 712.6h.1M608.5 681.5h.1M616.5 676.2h.1M637 722.7h.1M639 671.8h.1M613.8 688.4h.1M625.3 736.2h.1M637 738.6h.1M607.6 662.1h.1M619.1 699h.1M607.2 691.8h.1M611.6 739.9h.1M614.6 688.9h.1M613.3 737.6h.1M611.1 700h.1M614.9 682.2h.1M642.8 725.2h.1M633.5 692.2h.1M642.2 748.3h.1M629.9 680.5h.1M608.8 709.6h.1M624.5 738.9h.1M642.9 734.7h.1M615.7 750.1h.1M629.1 663.1h.1M614.5 747.7h.1M635.6 727.7h.1M630.8 661.7h.1M640.7 687h.1M634.8 709.2h.1M624.6 708h.1M640.1 736.3h.1M621.2 737.9h.1M613.3 691.7h.1M618.6 663.9h.1M621.4 659.8h.1M641.9 734.7h.1M624.3 665.3h.1M616.5 730.6h.1M617.6 668.3h.1M622.4 712.7h.1M611.6 694.2h.1M627 728h.1M621.7 750.7h.1M616.2 728.5h.1M609.9 743.7h.1M626.6 675.5h.1M636.3 740.8h.1M611.7 740.7h.1M641.5 692.3h.1M635.5 725.8h.1M627.4 695.2h.1M618.3 734.6h.1M635.2 746.5h.1M609.5 712h.1M632.4 679.6h.1M607.8 741.7h.1M635.1 725.1h.1M619 699.9h.1M636.3 668.2h.1M633 724.6h.1M623.7 747.2h.1M629.7 740.8h.1M614 697.1h.1M617.5 705.4h.1M634.1 750.7h.1M639.8 738h.1M642.1 727h.1M633.5 668h.1M621.7 704.6h.1M610.8 742.5h.1M620.4 682h.1M609.9 708.9h.1M619.1 746.7h.1M629.8 699.1h.1M612.7 664.1h.1M631.8 715.8h.1M624.8 706.1h.1M621.8 742.9h.1M609 680.9h.1M635.6 688.6h.1M618.9 699.3h.1M617.7 729.4h.1M610.4 710.7h.1M632.7 691.2h.1M633.3 692.2h.1M629.4 669h.1M618.4 711.1h.1M629 702.2h.1M608.3 709.2h.1M638.2 684.6h.1M614.5 716.7h.1M615.4 669h.1M609.7 717h.1M638.7 730.5h.1M628.2 740h.1M637.5 684.3h.1M620.7 749.1h.1M640.9 718.5h.1M629.7 691.1h.1M610.3 689.9h.1M615.3 717.7h.1M630.6 717.5h.1M639.8 659.7h.1M614.4 668.8h.1M620.3 743.6h.1M623.8 733.1h.1M613.6 692.2h.1M635.8 686.5h.1M633.3 714.7h.1M630.6 662.3h.1M620 750.1h.1M620.5 685.2h.1M643 713.8h.1M632.1 704.1h.1M629.4 695.4h.1M616.9 686.4h.1M615.2 723.4h.1M610.2 670.4h.1M625.3 750.6h.1M635.1 721.1h.1M633.7 678.6h.1M625.4 661.2h.1M625.7 662.6h.1M611.2 670.7h.1M619.4 703.3h.1M614.9 666.7h.1M611.4 746.9h.1M642.5 743.6h.1M611.9 678.1h.1M638.6 661h.1M612.4 719.2h.1M641.7 744.6h.1M637.4 688.8h.1M633.4 745.7h.1M639.4 748.8h.1M634.4 731.9h.1M632.3 698.5h.1M627.6 745h.1M627.6 661.9h.1M623.1 739.6h.1M632.5 703.9h.1M640.6 729.1h.1M615.1 724.1h.1M638.3 660.2h.1M640.7 699.3h.1M637.5 660.7h.1M618.5 687.5h.1M614.8 720h.1M635.7 719.3h.1M639.8 670.1h.1M617.3 696.5h.1M635.5 727.4h.1M642.7 739.8h.1M626.1 727.6h.1M636.5 707.4h.1M631.5 738h.1M636.9 674.1h.1M608.1 724.6h.1M636.4 677h.1M637.6 729.2h.1M612.9 673.8h.1M630.7 716.9h.1M612.8 743h.1M614.8 736.2h.1M641 670.7h.1M632.2 710.1h.1M640 700.4h.1M621.8 681h.1M637.5 689h.1M639.8 662.8h.1M639 661.4h.1M633 746.9h.1M618.6 713.9h.1M621.9 665.6h.1M637.2 705h.1M635.9 662.9h.1M612.9 680.7h.1M636.4 661.7h.1M607.8 694.3h.1M620.9 737.4h.1M637.9 681.6h.1M633.7 692.4h.1M634.6 720.2h.1M609.5 702.8h.1M622.2 701.8h.1M627 723.1h.1M621.5 707.3h.1M636.8 722.2h.1M614 672.3h.1M616.8 747h.1M620.9 740.4h.1M641.7 723.8h.1M620.3 728.1h.1M625.1 747.1h.1M625.1 718.1h.1M631.6 717.5h.1M613.4 711.8h.1M622.4 722.1h.1M634.9 678.6h.1M620.3 683.1h.1M641.6 704.7h.1M623.2 748.3h.1M635.2 738.5h.1M625.1 671.2h.1M620.4 667.3h.1M621.4 701h.1M624.3 749.5h.1M626.2 674.8h.1M613.4 722.1h.1M625.6 697.2h.1M624.8 697.3h.1M631.4 714.1h.1M608.7 705.2h.1M616 713.1h.1M623.7 729.5h.1M641.7 727.8h.1M629.2 706.2h.1M611.1 726.7h.1M614.1 694.5h.1M628 683.9h.1M638.1 709.8h.1M642 661.6h.1M623.7 689.3h.1M627.7 719.2h.1M628.3 746h.1M622.9 693.6h.1M634 710.5h.1M616.7 744.3h.1M615.1 666.5h.1M626.4 743.3h.1M637.8 734.6h.1M629 706.6h.1M617.5 674.8h.1M622.9 736.2h.1M626.9 749.8h.1M635.8 709.5h.1M628.3 698h.1M639.7 736.1h.1M613.4 742.5h.1M631.4 692.7h.1M633.8 698.3h.1M632 706h.1M629.7 744.2h.1M639.1 703.7h.1M620.9 725.3h.1M631 668.3h.1M625.3 685.3h.1M630.3 675h.1M617.7 682.8h.1M617.1 711.6h.1M638.1 718.5h.1M630.3 729.6h.1M621.1 698.9h.1M630.5 678.6h.1M634.1 744.2h.1M638.7 665.6h.1M640 680.2h.1M611.7 716.3h.1M619.5 676.1h.1M628.9 708.9h.1M626.3 706.6h.1M629.2 731h.1M632.9 724.5h.1M636.8 702.8h.1M630 670h.1M609.9 701.2h.1M631.5 681.2h.1M641.5 686.2h.1M624.7 702.7h.1M641.9 673.7h.1M616.1 717.9h.1M620 691.1h.1M611.7 743.9h.1M622.9 712.8h.1M615.8 745.6h.1M610.8 723.7h.1M609.4 708.4h.1M618.7 747h.1M622.8 736.7h.1M608.1 681.3h.1M642.5 693.6h.1M608.4 683.5h.1M620.1 708.1h.1M620.7 687.6h.1M624.1 702.7h.1M613.6 707.2h.1M627.8 712.3h.1M633.6 701.2h.1M614.7 746.3h.1M611.2 687.5h.1M622 697.5h.1M614.6 738.7h.1M617.9 709.9h.1M628.9 671.6h.1M622.5 671.8h.1M626.5 726.7h.1M637.8 745.9h.1M611.1 701.8h.1M631 694h.1M641 705h.1M638.3 665.8h.1M621 723.6h.1M637.2 705.1h.1M637.9 729.4h.1M621.9 724.7h.1M625.6 670h.1M639.4 737.2h.1M639.1 681.2h.1M635 663.1h.1M625 687.4h.1M625.2 694.8h.1M626.8 699.5h.1M634.3 720.1h.1M617 677.8h.1M615.6 689.6h.1M622.3 705.9h.1M634.5 749.9h.1M616.4 686.7h.1M625.7 660.2h.1M629.9 663.1h.1M628.4 713.5h.1M620.8 750.6h.1M618.2 661.2h.1M610.8 681.7h.1M633.6 727.6h.1M619.7 740.8h.1M612.9 680.6h.1M627.6 708.6h.1M635.5 688h.1M639.5 717.7h.1M631.8 712.4h.1M614.6 711.4h.1M640.9 661h.1M618.9 687.9h.1M616.2 730.5h.1M630.3 672h.1M632.4 740.3h.1M609.4 661.3h.1M628.7 740.6h.1M626.8 706.1h.1M621.6 711.7h.1M639.8 714.5h.1M633.9 702.4h.1M638.8 730.3h.1M625.3 687.3h.1M617.8 749.6h.1M630 666.1h.1M625.7 698.9h.1M628.6 685.6h.1M639.6 704h.1M636.8 683.5h.1M639 709.8h.1M626.6 699.5h.1M640.9 711.3h.1M626.2 693h.1M623.5 684.4h.1M623 683.8h.1M609.8 693.2h.1M608 720.6h.1M610.4 742.8h.1M618.4 684.6h.1M626.8 686.4h.1M633.1 687.5h.1M640.2 663.4h.1M609 740.7h.1M631.8 683.8h.1M630.1 692.7h.1M625.3 684.9h.1M626.4 719.2h.1M637.5 683.1h.1M627.5 711.7h.1M638.5 703.7h.1M638.1 744.6h.1M621.7 696.9h.1M641.9 712.9h.1M626.1 731.1h.1M628.8 707.2h.1M630.7 683.7h.1M620.6 660.4h.1M632.9 735.3h.1M633.5 748.9h.1M634.2 669.4h.1M618.6 744.3h.1M610.9 740.3h.1M635.7 673.1h.1M614.5 726.8h.1M630.5 662.4h.1M626.1 676.9h.1M637.9 708.8h.1M607.5 695.9h.1M607.4 742.9h.1M638.9 725.6h.1M607.1 745.8h.1M616.5 719.4h.1M634.5 711h.1M611.2 682.2h.1M633.3 671h.1M620.5 745.3h.1M621.7 673.6h.1M630.4 691.7h.1M635.4 693.2h.1M636.8 735.5h.1M613.4 709.8h.1M623 670.9h.1M639.9 691h.1M629 665.1h.1M641.2 749.7h.1M631.6 671.6h.1M630.9 702.7h.1M624 679.7h.1M612.5 737.2h.1M628.7 728.2h.1M633.6 696.5h.1M626.8 687.4h.1M630.6 699.2h.1M635.2 686.4h.1M620.7 667.1h.1M608.4 679.3h.1M607.6 698.6h.1M620.7 740.7h.1M608.5 750.1h.1M610.4 735.9h.1M619.9 682.2h.1M629 692.3h.1M607.6 671.6h.1M631.4 725.7h.1M642.8 682.9h.1M634.7 691.1h.1M625.6 685.2h.1M621.8 743.6h.1M616.1 698.6h.1M639.7 701.1h.1M636.3 708.7h.1M619.6 725.8h.1M630.5 694.6h.1M642.9 668h.1M637.6 725.9h.1M632.6 703.1h.1M634 663.6h.1M631.1 739.2h.1M621.7 727.7h.1M632 705.7h.1M634.7 704.1h.1M611.3 707.7h.1M634.1 674.7h.1M623.6 736.3h.1M607.5 738.9h.1M619.6 693h.1M632.2 712.3h.1M617.4 673.9h.1M622.1 741.4h.1M642.8 725.6h.1M632.1 722.8h.1M639.9 674.4h.1M612.2 737.1h.1M607.7 707.7h.1M621.5 744h.1M629.5 680.3h.1M609.3 703h.1M626.9 702.5h.1M627.9 665.3h.1M619.9 735.9h.1M617.4 676.9h.1M613.4 745.9h.1M638.3 696.8h.1M618.9 693.4h.1M638.8 743.1h.1M641.3 738.3h.1M631.5 670.3h.1M640.9 675h.1M633.6 692.4h.1M608.3 720.1h.1M616.2 741.2h.1M613.5 721h.1M622.7 664h.1M617.1 688h.1M634.9 730.5h.1M640.7 674.8h.1M614.6 693.9h.1M618.5 678.6h.1M634.1 660.1h.1M626.3 671.8h.1M618.3 686.4h.1M623.6 745.9h.1M633.5 699.1h.1M642.6 682.9h.1M613.8 718.1h.1M634.7 726.1h.1M625.3 726h.1M619 746.8h.1M633.7 733.2h.1M626.4 744h.1M623.9 747h.1M623 747h.1M618.4 707h.1M627.2 710.1h.1M637.4 737.5h.1M613.5 724.5h.1M625.9 696.8h.1M611.2 743.2h.1M642.6 726.2h.1M627.6 667.2h.1M618.6 689.8h.1M610.1 694.1h.1M620.2 697.6h.1M609.5 671.7h.1M641.3 710.6h.1M615.4 700.9h.1M620.1 704.2h.1M613.4 728h.1M640.6 717.3h.1M641.5 734.5h.1M626.3 707.6h.1M631.9 693.4h.1M609.7 701.1h.1M636.4 721.6h.1M608.4 735.5h.1M608.7 707.3h.1M613.4 687.2h.1M615.3 716.1h.1M632.6 740.9h.1M625.2 665.1h.1M608.4 667.4h.1M611.6 675.8h.1M617.7 673.4h.1M637.6 692.6h.1M624.3 731.7h.1M613.5 705.7h.1M608.5 704.2h.1M640.4 711.7h.1M617.9 717.8h.1M625.1 705.4h.1M629.9 725h.1M639.1 749.4h.1M641.6 734.1h.1M631.6 733.1h.1M614 677.8h.1M637.3 699.6h.1M607.7 728.1h.1M611.8 684.6h.1M640.2 677h.1M636.8 684.1h.1M635.6 694.6h.1M627.2 722.4h.1M632.8 678.7h.1M631.2 674.9h.1M615.8 731.1h.1M612.5 697.6h.1M611.1 713.1h.1M613.3 692.8h.1M642.2 700.5h.1M625 662.6h.1M616.5 669.3h.1M629.3 673.8h.1M613.4 672.8h.1M633.7 719.5h.1M617.5 688.5h.1M616.9 709.9h.1M627.5 671.8h.1M612.5 717.2h.1M617.1 720.8h.1M613.3 668.6h.1M609.5 738.4h.1M626.3 661.4h.1M619.8 717.6h.1M614.9 736h.1M607.2 707.9h.1M627.7 676.9h.1M642.5 709.8h.1M611.7 729h.1M608 722.3h.1M637.1 718.3h.1M607.8 665.5h.1M636.9 737.4h.1M616.7 744.9h.1M636.3 669.4h.1M638.9 660.9h.1M618.7 678.8h.1M614.6 705.5h.1M608.7 748.3h.1M614.6 722.3h.1M619.7 743.9h.1M627.2 705.2h.1M634.4 711.3h.1M623.2 675.5h.1M635.8 717.4h.1M623.7 750.4h.1M623.7 727.7h.1M612.9 692.6h.1M629.7 683.4h.1M642.9 750.6h.1M630.2 725.7h.1M616.8 730.6h.1M638 701.8h.1M627.4 719.7h.1M616 663.8h.1M613.6 707.9h.1M629.9 738.2h.1M616.6 675h.1M622.1 674.6h.1M616.3 704.5h.1M631.7 669.3h.1M613.3 702.9h.1M625.8 675.8h.1M630.8 711.5h.1M641.7 747.3h.1M629.6 667.7h.1M625.8 684.5h.1M617 666.6h.1M631.9 719.9h.1M616.9 680.8h.1M642.7 710.4h.1" stroke-width="1.1" fill="none"/>
<clipPath id="c22"><path clip-rule="nonzero" d="M607 659.6 L643 659.6 L643 751.5 L607 751.5 Z"/></clipPath><g clip-path="url(#c22)"><path d="M617.9 625.3 L704.1 690.2 M612.8 632.1 L699 697 M607.7 638.9 L693.9 703.8 M602.6 645.7 L688.8 710.6 M597.5 652.4 L683.6 717.4 M592.3 659.2 L678.5 724.2 M587.2 666 L673.4 731 M582.1 672.8 L668.3 737.7 M577 679.6 L663.2 744.5 M571.9 686.4 L658.1 751.3 M566.8 693.2 L652.9 758.1 M561.7 700 L647.8 764.9 M556.5 706.7 L642.7 771.7 M551.4 713.5 L637.6 778.5 M546.3 720.3 L632.5 785.3" stroke-width="1.3" fill="none"/></g>
<clipPath id="c23"><path clip-rule="nonzero" d="M616.3 751.5 L631.3 751.5 L631.3 773.5 L616.3 773.5 Z"/></clipPath><path clip-path="url(#c23)" d="M626.8 756.9h.1M630.4 767.3h.1M623.9 754h.1M622.8 752h.1M619.5 768.7h.1M618 756h.1M621.4 772.8h.1M618.8 760.7h.1M624.3 752.5h.1M624.7 753h.1M621.1 758.6h.1M631.3 761.1h.1M620.8 758.7h.1M620.8 755.1h.1M621 766.7h.1M621.6 756.5h.1M616.9 768.8h.1M620.8 757.5h.1M629 772.8h.1M624.6 753h.1M628.8 768.3h.1M616.6 757.8h.1M628.8 762h.1M618.9 773.2h.1M619.5 755.5h.1M626.7 773.2h.1M626.9 751.9h.1M616.6 756.2h.1M626.3 772.6h.1M618 766.2h.1M626.4 752.1h.1M629.8 758.4h.1M621.9 768.9h.1M624.4 765.3h.1M617.2 765.2h.1M618.5 769.6h.1M627.9 765.8h.1M626 773h.1M628.7 767.3h.1M621.7 751.8h.1M631.3 752.9h.1M616.9 764.6h.1M631.2 761.3h.1M619.4 751.9h.1M618.7 759.5h.1M621.5 757.4h.1M629.5 773.5h.1M631 755.8h.1M626.8 755.1h.1M623.2 762.5h.1M621 768.7h.1M619.6 769.2h.1M627.8 765.3h.1M617.4 754.2h.1M628.4 772.6h.1M619.9 766.2h.1M627.7 770.6h.1M618.3 756h.1M617.2 766.7h.1M621.7 766.9h.1M618.8 765.5h.1M620.4 761.1h.1M625.2 772.4h.1M619.2 768.7h.1M617.1 755.4h.1M626.8 753.3h.1M628.9 771h.1M619.6 767h.1M626 773h.1M623.7 759.6h.1M629.5 757.4h.1M630 759.5h.1M622.4 769.9h.1M627.6 755.6h.1M626.2 773.2h.1M622.3 763.8h.1M626.1 767.3h.1M622.2 759.9h.1M619 765.3h.1" stroke-width="1.1" fill="none"/>
<clipPath id="c24"><path clip-rule="nonzero" d="M616.3 751.5 L631.3 751.5 L631.3 773.5 L616.3 773.5 Z"/></clipPath><g clip-path="url(#c24)"><path d="M625.2 735.5 L650.8 761.1 M621.5 739.2 L647.1 764.8 M617.8 742.9 L643.4 768.5 M614.2 746.5 L639.8 772.1 M610.5 750.2 L636.1 775.8 M606.8 753.9 L632.4 779.5 M603.1 757.6 L628.7 783.2 M599.5 761.2 L625.1 786.8 M595.8 764.9 L621.4 790.5" stroke-width="1.5" fill="none"/></g>
<path d="M601.4 780.6 L601.4 655.4 L648.5 655.4 L648.5 780.6 L652.5 780.6 L652.5 790.8 L592.8 790.8 L592.8 780.6 Z" stroke-width="2.1" fill="none"/>
<path d="M607 659.6 L643 659.6 L643 751.5 L607 751.5 Z" stroke-width="1.8" fill="none"/>
<path d="M616.3 751.5 L616.3 773.5 M631.3 751.5 L631.3 773.5" stroke-width="1.7" fill="none"/>
<rect x="622" y="656.3" width="3.5" height="2.6" fill="#fff" stroke="none"/>
<rect x="628" y="656.3" width="3.5" height="2.6" fill="#fff" stroke="none"/>
<path d="M610 773.5 L636.8 773.5 L636.8 791.5 Q636.8 794.7 633.6 794.7 L613.2 794.7 Q610 794.7 610 791.5 Z" stroke-width="2.1" fill="#fff"/>
<line x1="633.5" y1="776" x2="633.5" y2="792" stroke-width="1.2"/>
<line x1="635" y1="776" x2="635" y2="792" stroke-width="1.2"/>
<line x1="630" y1="779" x2="630" y2="786" stroke-width="1.2" stroke-dasharray="2 2"/>
<line x1="625" y1="783" x2="625" y2="789" stroke-width="1.2"/>
<rect x="618.5" y="789" width="1.5" height="1.5" stroke="none"/>
<path d="M 583.1 691.5 C 580.9 689.9 576.9 692.8 575.7 697.6 C 575 700.2 576.3 701.3 577.9 701.3 C 580 701.3 581.5 699.7 581.9 698.1 C 582.4 696 581 695.3 579.5 695.3 C 577.9 695.3 576.5 696.5 575.7 697.6" stroke-width="1.9" fill="none"/>
<path d="M 670.3 703.3 C 671.1 700.1 665.2 699.8 664.2 703.3 C 663.6 705.9 668.5 705.9 670.3 703.3 C 669 707.5 666.2 710.7 663.1 710.5" stroke-width="1.9" fill="none"/>
<path d="M 673.6 755.5 C 671.2 755 672.4 750.4 674.9 750.4 C 677.6 750.4 676.7 755 673.6 755.5 C 669.8 756.1 669 761 672.2 761 C 675.4 761 677.1 756.1 673.6 755.5 Z" stroke-width="1.9" fill="none"/>
<path d="M 601.1 810 L 607.6 810 L 600 820.6" stroke-width="1.9" fill="none"/>
<line x1="587.3" y1="693.4" x2="601.4" y2="693.4" stroke-width="1.3"/>
<line x1="657.2" y1="706.8" x2="631.3" y2="709" stroke-width="1.3"/>
<line x1="665.8" y1="758.6" x2="631.3" y2="760" stroke-width="1.3"/>
<line x1="607" y1="806.5" x2="626.5" y2="790" stroke-width="1.3"/>
<clipPath id="c25"><path clip-rule="nonzero" d="M71.4 944.1 L63.5 947 L70.5 949.8 L63.5 952.7 L70.5 955.6 L63.5 958.4 L70.5 961.3 L63.5 964.2 L70.5 967 L63.5 969.9 L70.5 972.8 L63.5 975.7 L70.5 978.5 L63.5 981.4 L70.5 984.3 L63.5 987.1 L70.5 990 L64.5 994 L61.3 1177 L81.5 1177 L89.4 1122.7 L97.8 1069.3 L98.8 1057.2 C99.5 1056.7 101.9 1057 102.8 1054.1 C103.7 1051.2 103.7 1045 104 1040 C104.3 1035 104.7 1030.9 104.4 1024.2 C104.2 1017.5 103.5 1007.9 102.5 1000 C101.5 992.1 99.7 983.8 98.1 977.1 C96.5 970.4 94.8 965.5 93 960 C91.2 954.5 88 946.8 87 944.1 Z"/></clipPath><g clip-path="url(#c25)"><path d="M-88.3 1103.4 L34.5 890.7 M-80.7 1107.8 L42.1 895.1 M-73.1 1112.2 L49.7 899.5 M-65.5 1116.6 L57.3 903.9 M-57.9 1121 L64.9 908.3 M-50.2 1125.4 L72.6 912.7 M-42.6 1129.8 L80.2 917.1 M-35 1134.2 L87.8 921.5 M-27.4 1138.6 L95.4 925.9 M-19.8 1143 L103 930.3 M-12.1 1147.4 L110.7 934.7 M-4.5 1151.8 L118.3 939.1 M3.1 1156.2 L125.9 943.5 M10.7 1160.6 L133.5 947.9 M18.3 1165 L141.1 952.3 M26 1169.4 L148.8 956.7 M33.6 1173.8 L156.4 961.1 M41.2 1178.2 L164 965.5 M48.8 1182.6 L171.6 969.9 M56.5 1187 L179.3 974.3 M64.1 1191.4 L186.9 978.7 M71.7 1195.8 L194.5 983.1 M79.3 1200.2 L202.1 987.5 M86.9 1204.6 L209.7 991.9 M94.6 1209 L217.4 996.3 M102.2 1213.4 L225 1000.7 M109.8 1217.8 L232.6 1005.1 M117.4 1222.2 L240.2 1009.5 M125 1226.6 L247.8 1013.9 M132.7 1231 L255.5 1018.3" stroke-width="1.4" fill="none"/></g>
<clipPath id="c26"><path clip-rule="nonzero" d="M256.8 944.1 L263 947.2 L257.5 950.2 L263 953.3 L257.5 956.3 L263 959.4 L257.5 962.4 L263 965.5 L257.5 968.5 L263 971.6 L257.5 974.7 L263 977.7 L257.5 980.8 L263 983.8 L257.5 986.9 L263 989.9 L257.5 993 L260 996 L259.2 1174 L239 1174 L230.8 1122.7 L225.5 1069.3 L225.5 1057.2 C225.2 1057 224.5 1059.4 223.8 1055.7 C223.1 1052 222 1042.3 221.5 1035 C221 1027.7 220.5 1018.4 220.6 1011.7 C220.7 1005 221.2 1000.2 222 995 C222.8 989.8 223.7 986 225.4 980.3 C227.1 974.6 229.4 967 232 961 C234.6 955 239.6 946.9 241.1 944.1 Z"/></clipPath><g clip-path="url(#c26)"><path d="M74.7 1102.6 L195.9 892.6 M82.3 1107 L203.6 897 M89.9 1111.4 L211.2 901.4 M97.6 1115.8 L218.8 905.8 M105.2 1120.2 L226.4 910.2 M112.8 1124.6 L234.1 914.6 M120.4 1129 L241.7 919 M128.1 1133.4 L249.3 923.4 M135.7 1137.8 L256.9 927.8 M143.3 1142.2 L264.5 932.2 M150.9 1146.6 L272.2 936.6 M158.5 1151 L279.8 941 M166.2 1155.4 L287.4 945.4 M173.8 1159.8 L295 949.8 M181.4 1164.2 L302.6 954.2 M189 1168.6 L310.3 958.6 M196.6 1173 L317.9 963 M204.3 1177.4 L325.5 967.4 M211.9 1181.8 L333.1 971.8 M219.5 1186.2 L340.7 976.2 M227.1 1190.6 L348.4 980.6 M234.7 1195 L356 985 M242.4 1199.4 L363.6 989.4 M250 1203.8 L371.2 993.8 M257.6 1208.2 L378.9 998.2 M265.2 1212.6 L386.5 1002.6 M272.9 1217 L394.1 1007 M280.5 1221.4 L401.7 1011.4 M288.1 1225.8 L409.3 1015.8" stroke-width="1.4" fill="none"/></g>
<path d="M71.4 944.1 L63.5 947 L70.5 949.8 L63.5 952.7 L70.5 955.6 L63.5 958.4 L70.5 961.3 L63.5 964.2 L70.5 967 L63.5 969.9 L70.5 972.8 L63.5 975.7 L70.5 978.5 L63.5 981.4 L70.5 984.3 L63.5 987.1 L70.5 990 L64.5 994 L61.3 1177" stroke-width="1.9" fill="none"/>
<path d="M256.8 944.1 L263 947.2 L257.5 950.2 L263 953.3 L257.5 956.3 L263 959.4 L257.5 962.4 L263 965.5 L257.5 968.5 L263 971.6 L257.5 974.7 L263 977.7 L257.5 980.8 L263 983.8 L257.5 986.9 L263 989.9 L257.5 993 L260 996 L259.2 1174" stroke-width="1.9" fill="none"/>
<line x1="70" y1="944.1" x2="258" y2="944.1" stroke-width="2.1"/>
<path d="M87 944.1 C88 946.8 91.2 954.5 93 960 C94.8 965.5 96.5 970.4 98.1 977.1 C99.7 983.8 101.5 992.1 102.5 1000 C103.5 1007.9 104.2 1017.5 104.4 1024.2 C104.7 1030.9 104.3 1035 104 1040 C103.7 1045 103 1051.8 102.8 1054.1" stroke-width="2.1" fill="none"/>
<path d="M241.1 944.1 C239.6 946.9 234.6 955 232 961 C229.4 967 227.1 974.6 225.4 980.3 C223.7 986 222.8 989.8 222 995 C221.2 1000.2 220.7 1005 220.6 1011.7 C220.5 1018.4 221 1027.7 221.5 1035 C222 1042.3 223.4 1052.2 223.8 1055.7" stroke-width="2.1" fill="none"/>
<path d="M98.8 1057.2 L97.8 1069.3 L89.4 1122.7 L81.5 1177" stroke-width="1.9" fill="none"/>
<path d="M225.5 1057.2 L225.5 1069.3 L230.8 1122.7 L239 1174" stroke-width="1.9" fill="none"/>
<clipPath id="c27"><path clip-rule="nonzero" d="M98.8 1057.2 L225.5 1057.2 L225.5 1069.3 L97.8 1069.3 Z"/></clipPath><g clip-path="url(#c27)"><path d="M61.6 1059.9 L158.3 963.2 M66.2 1064.5 L162.9 967.8 M70.8 1069.1 L167.5 972.4 M75.4 1073.6 L172 977 M80 1078.2 L176.6 981.6 M84.6 1082.8 L181.2 986.2 M89.2 1087.4 L185.8 990.8 M93.8 1092 L190.4 995.4 M98.4 1096.6 L195 1000 M103 1101.2 L199.6 1004.6 M107.6 1105.8 L204.2 1009.2 M112.2 1110.4 L208.8 1013.8 M116.8 1115 L213.4 1018.4 M121.4 1119.6 L218 1023 M126 1124.2 L222.6 1027.6 M130.6 1128.8 L227.2 1032.2 M135.2 1133.4 L231.8 1036.8 M139.7 1138 L236.4 1041.3 M144.3 1142.6 L241 1045.9 M148.9 1147.2 L245.6 1050.5 M153.5 1151.8 L250.2 1055.1 M158.1 1156.4 L254.8 1059.7 M162.7 1161 L259.4 1064.3" stroke-width="1.5" fill="none"/></g>
<clipPath id="c28"><path clip-rule="nonzero" d="M97.8 1069.3 L225.5 1069.3 L230.8 1122.7 L89.4 1122.7 Z"/></clipPath><g clip-path="url(#c28)"><path d="M164.7 978 L278.1 1091.4 M159 983.8 L272.3 1097.1 M153.3 989.5 L266.6 1102.8 M147.5 995.2 L260.9 1108.6 M141.8 1000.9 L255.2 1114.3 M136.1 1006.7 L249.4 1120 M130.3 1012.4 L243.7 1125.8 M124.6 1018.1 L238 1131.5 M118.9 1023.8 L232.3 1137.2 M113.2 1029.6 L226.5 1142.9 M107.4 1035.3 L220.8 1148.7 M101.7 1041 L215.1 1154.4 M96 1046.8 L209.3 1160.1 M90.3 1052.5 L203.6 1165.8 M84.5 1058.2 L197.9 1171.6 M78.8 1063.9 L192.2 1177.3 M73.1 1069.7 L186.4 1183 M67.3 1075.4 L180.7 1188.8 M61.6 1081.1 L175 1194.5 M55.9 1086.8 L169.3 1200.2 M50.2 1092.6 L163.5 1205.9 M44.4 1098.3 L157.8 1211.7" stroke-width="1.7" fill="none"/></g>
<path d="M98.8 1057.2 L225.5 1057.2 L225.5 1069.3 L97.8 1069.3 Z" stroke-width="1.9" fill="none"/>
<path d="M97.8 1069.3 L225.5 1069.3 L230.8 1122.7 L89.4 1122.7 Z" stroke-width="1.9" fill="none"/>
<path d="M104 1069.5 L104 1077.7 L219.3 1077.7" stroke-width="1.4" fill="none" stroke-dasharray="4 2.5"/>
<path d="M205.7 1078.7 L205.7 1122.7 M213 1078.7 L213 1122.7" stroke-width="1.4" fill="none" stroke-dasharray="4 2.5"/>
<rect x="148" y="1052.6" width="27.3" height="4.6" fill="#fff" stroke-width="1.8"/>
<rect x="155.4" y="1057.2" width="13.6" height="65.5" fill="#fff" stroke-width="1.9"/>
<rect x="147" y="1122.7" width="26.2" height="3.6" fill="#fff" stroke-width="1.8"/>
<line x1="165.5" y1="1059" x2="165.5" y2="1121" stroke-width="1.3"/>
<line x1="163.2" y1="1062" x2="163.2" y2="1118" stroke-width="1.2" stroke-dasharray="6 4"/>
<path d="M61.3 1177 C63.6 1176.5 70.2 1174 75 1174 C79.8 1174 84.5 1177.3 90 1177 C95.5 1176.7 102.2 1172.2 108 1172 C113.8 1171.8 118.8 1175.7 125 1175.5 C131.2 1175.3 138.3 1171.2 145 1171 C151.7 1170.8 158.3 1174.1 165 1174 C171.7 1173.9 178.3 1170.5 185 1170.5 C191.7 1170.5 198.3 1173.9 205 1174 C211.7 1174.1 218.3 1171 225 1171 C231.7 1171 239.3 1173.8 245 1174 C250.7 1174.2 256.8 1172.3 259.2 1172" stroke-width="2.2" fill="none"/>
<path d="M 37.8 1040.4 L 32.7 1051 M 45 1045.7 C 43.8 1044.2 39.5 1044.4 38.4 1048.3 C 37.6 1051.5 42.4 1051.5 44.6 1047.3 M 47.5 1040.4 L 43.7 1051" stroke-width="1.9" fill="none"/>
<path d="M 128.6 1025.7 C 130.6 1024.1 134.8 1024.2 133.8 1027 C 133.2 1029 130.7 1029.5 129.7 1029.5 C 132.9 1029.5 133.1 1031.3 132.6 1032.6 C 131.5 1035.5 126.7 1035.5 126 1033.6 M 136.5 1027 C 137.6 1024.6 143.1 1024.1 142.2 1027.4 C 141.6 1029.7 135.8 1032.3 134.1 1035 L 140.7 1035" stroke-width="1.9" fill="none"/>
<path d="M 173.8 1025.7 C 175.8 1024.1 180 1024.2 179 1027 C 178.4 1029 175.9 1029.5 174.9 1029.5 C 178.1 1029.5 178.3 1031.3 177.8 1032.6 C 176.7 1035.5 171.9 1035.5 171.2 1033.6 M 185.6 1024.4 L 180.6 1035" stroke-width="1.9" fill="none"/>
<path d="M 26.6 1061.1 C 28.6 1059.5 32.8 1059.6 31.8 1062.5 C 31.2 1064.4 28.7 1064.9 27.7 1064.9 C 30.9 1064.9 31.1 1066.7 30.6 1068 C 29.5 1070.9 24.7 1070.9 24 1069 M 35 1061.1 C 37 1059.5 41.3 1059.6 40.3 1062.5 C 39.7 1064.4 37.2 1064.9 36.2 1064.9 C 39.3 1064.9 39.6 1066.7 39.1 1068 C 38 1070.9 33.2 1070.9 32.4 1069" stroke-width="1.9" fill="none"/>
<path d="M 26 1097.8 C 27.1 1095.4 32.6 1094.9 31.7 1098.2 C 31.1 1100.5 25.3 1103.1 23.6 1105.8 L 30.2 1105.8 M 40.4 1096 C 38.2 1094.4 34.3 1097.3 33 1102.1 C 32.4 1104.7 33.7 1105.8 35.3 1105.8 C 37.4 1105.8 38.9 1104.2 39.3 1102.6 C 39.8 1100.5 38.4 1099.8 36.8 1099.8 C 35.2 1099.8 33.9 1101 33 1102.1" stroke-width="1.9" fill="none"/>
<path d="M 273.4 1092 C 274.5 1089.6 280 1089.1 279.1 1092.4 C 278.5 1094.7 272.7 1097.3 271 1100 L 277.6 1100 M 282.2 1089.4 L 288.8 1089.4 L 281.2 1100" stroke-width="1.9" fill="none"/>
<path d="M 277.8 1118 C 279.8 1116.4 284 1116.5 283 1119.3 C 282.4 1121.3 279.9 1121.8 278.9 1121.8 C 282.1 1121.8 282.3 1123.6 281.8 1124.9 C 280.7 1127.8 275.9 1127.8 275.2 1125.9 M 289.2 1116.7 C 286.9 1116.7 284.9 1120.9 284.2 1123.6 C 283.6 1126.2 284.7 1127.3 286.5 1127.3 C 288.9 1127.3 290.7 1123.1 291.4 1120.4 C 292.1 1117.8 290.9 1116.7 289.2 1116.7 Z" stroke-width="1.9" fill="none"/>
<path d="M 106.4 1143 C 107.5 1140.6 113 1140.1 112.1 1143.4 C 111.5 1145.7 105.7 1148.3 104 1151 L 110.6 1151 M 117.1 1145.5 C 114.7 1145 115.9 1140.4 118.4 1140.4 C 121.1 1140.4 120.2 1145 117.1 1145.5 C 113.3 1146.1 112.5 1151 115.7 1151 C 118.8 1151 120.5 1146.1 117.1 1145.5 Z" stroke-width="1.9" fill="none"/>
<line x1="45" y1="1031" x2="78.5" y2="1023.3" stroke-width="1.3"/>
<line x1="135.5" y1="1037" x2="135.5" y2="1060.6" stroke-width="1.3"/>
<line x1="176.7" y1="1037" x2="168.8" y2="1052.7" stroke-width="1.3"/>
<line x1="49" y1="1064.5" x2="115.8" y2="1064.5" stroke-width="1.3"/>
<line x1="49" y1="1098" x2="113.9" y2="1094" stroke-width="1.3"/>
<line x1="267" y1="1094" x2="214" y2="1096" stroke-width="1.3"/>
<line x1="271" y1="1117.5" x2="168.8" y2="1111.6" stroke-width="1.3"/>
<line x1="115.8" y1="1131.3" x2="127.6" y2="1078.3" stroke-width="1.3"/>
<ellipse cx="416" cy="1025.5" rx="71.3" ry="72.5" fill="none" stroke-width="1.8"/>
<ellipse cx="416.8" cy="1026.4" rx="62.2" ry="62.8" fill="none" stroke-width="1.7"/>
<path d="M477.4 1043.2 A62.2 62.8 0 0 1 411.9 1089.5" stroke-width="2.6" fill="none"/>
<circle cx="416" cy="1026.4" r="11.8" fill="none" stroke-width="1.9"/>
<circle cx="416" cy="1026.4" r="7" fill="none" stroke-width="1.4" stroke-dasharray="3 2"/>
<line x1="318" y1="1025.2" x2="513" y2="1025.2" stroke-width="1.4" stroke-dasharray="38 4 4 4"/>
<path d="M318 1025.2 L318 1009" stroke-width="1.5" fill="none"/>
<path d="M315.8 1011 L318 1005.5 L320.2 1011" stroke-width="1.4" fill="none"/>
<path d="M513 1025.2 L513 1009" stroke-width="1.5" fill="none"/>
<path d="M510.8 1011 L513 1005.5 L515.2 1011" stroke-width="1.4" fill="none"/>
<line x1="335" y1="1000.7" x2="498.5" y2="1000.7" stroke-width="1.4"/>
<path d="M336.5 1000.7 L336.5 986" stroke-width="1.5" fill="none"/>
<path d="M334.3 988 L336.5 982.5 L338.7 988" stroke-width="1.4" fill="none"/>
<path d="M498.5 1000.7 L498.5 986" stroke-width="1.5" fill="none"/>
<path d="M496.3 988 L498.5 982.5 L500.7 988" stroke-width="1.4" fill="none"/>
<rect x="367.6" y="995" width="99.4" height="11.8" rx="5.9" fill="none" stroke-width="1.4" stroke-dasharray="4 2.5"/>
<circle cx="377.5" cy="1000.7" r="4.7" fill="#fff" stroke-width="1.8"/>
<circle cx="459" cy="1000.7" r="4.5" fill="none" stroke-width="1.3" stroke-dasharray="2.5 2"/>
<path d="M 351 949 C 353 947.4 357.2 947.5 356.2 950.3 C 355.6 952.3 353.1 952.8 352.1 952.8 C 355.3 952.8 355.5 954.6 355 955.9 C 353.9 958.8 349.1 958.8 348.4 956.9 M 359.4 949 C 361.4 947.4 365.7 947.5 364.7 950.3 C 364.1 952.3 361.6 952.8 360.6 952.8 C 363.7 952.8 364 954.6 363.5 955.9 C 362.4 958.8 357.6 958.8 356.8 956.9" stroke-width="1.9" fill="none"/>
<path d="M 449 940 C 450.1 937.6 455.6 937.1 454.7 940.4 C 454.1 942.7 448.3 945.4 446.6 948 L 453.2 948 M 459.7 942.5 C 457.3 942 458.5 937.4 461 937.4 C 463.7 937.4 462.8 942 459.7 942.5 C 455.9 943.1 455.1 948 458.3 948 C 461.4 948 463.1 943.1 459.7 942.5 Z" stroke-width="1.9" fill="none"/>
<path d="M 484.7 953.8 C 485.8 951.3 491.3 950.8 490.4 954.1 C 489.8 956.4 484 959.1 482.3 961.7 L 488.9 961.7 M 493.5 951.1 L 500.1 951.1 L 492.5 961.7" stroke-width="1.9" fill="none"/>
<path d="M 325.3 984.9 C 326.1 981.7 320.2 981.4 319.2 984.9 C 318.6 987.5 323.5 987.5 325.3 984.9 C 324 989.1 321.2 992.3 318.1 992.1" stroke-width="1.9" fill="none"/>
<path d="M 514.3 984.9 C 515.1 981.7 509.2 981.4 508.2 984.9 C 507.6 987.5 512.5 987.5 514.3 984.9 C 513 989.1 510.2 992.3 507.1 992.1" stroke-width="1.9" fill="none"/>
<path d="M 307.8 1015.8 L 314.3 1015.8 L 306.7 1026.4" stroke-width="1.9" fill="none"/>
<path d="M 521.8 1015.8 L 528.3 1015.8 L 520.7 1026.4" stroke-width="1.9" fill="none"/>
<path d="M 444.5 1042.7 C 446.5 1041.1 450.7 1041.2 449.7 1044 C 449.1 1046 446.6 1046.5 445.6 1046.5 C 448.8 1046.5 449 1048.3 448.5 1049.6 C 447.4 1052.5 442.6 1052.5 441.9 1050.6 M 456.3 1041.4 L 451.3 1052" stroke-width="1.9" fill="none"/>
<path d="M 391.7 1056.2 C 393.7 1054.6 397.9 1054.7 396.9 1057.5 C 396.3 1059.5 393.8 1060 392.8 1060 C 396 1060 396.2 1061.8 395.7 1063.1 C 394.6 1066 389.8 1066 389.1 1064.1 M 399.6 1057.5 C 400.7 1055.1 406.2 1054.6 405.3 1057.9 C 404.7 1060.2 398.9 1062.8 397.2 1065.5 L 403.8 1065.5" stroke-width="1.9" fill="none"/>
<path d="M 397.9 1112 C 399 1109.6 404.5 1109.1 403.6 1112.4 C 403 1114.7 397.2 1117.3 395.5 1120 L 402.1 1120 M 412.3 1110.2 C 410.1 1108.6 406.2 1111.5 404.9 1116.3 C 404.3 1118.9 405.6 1120 407.2 1120 C 409.3 1120 410.8 1118.4 411.2 1116.8 C 411.7 1114.7 410.3 1114 408.7 1114 C 407.1 1114 405.8 1115.2 404.9 1116.3" stroke-width="1.9" fill="none"/>
<line x1="363.7" y1="963.6" x2="376.8" y2="996" stroke-width="1.3"/>
<line x1="448.3" y1="951.5" x2="419.3" y2="997.4" stroke-width="1.3"/>
<line x1="480.6" y1="966.8" x2="458.5" y2="999" stroke-width="1.3"/>
<line x1="441.5" y1="1043.4" x2="419.3" y2="1029.8" stroke-width="1.3"/>
<line x1="407.4" y1="1104.6" x2="412.5" y2="1097.5" stroke-width="1.3"/>
<clipPath id="c29"><path clip-rule="nonzero" d="M579.3 1000.9 L703.6 1000.9 L703.6 1011.9 L579.3 1011.9 Z"/></clipPath><g clip-path="url(#c29)"><path d="M547.2 1006.3 L641.4 912.1 M551.8 1010.9 L646 916.7 M556.4 1015.5 L650.6 921.3 M561 1020.1 L655.2 925.9 M565.6 1024.7 L659.8 930.5 M570.2 1029.3 L664.3 935.1 M574.8 1033.9 L668.9 939.7 M579.4 1038.5 L673.5 944.3 M584 1043.1 L678.1 948.9 M588.6 1047.7 L682.7 953.5 M593.2 1052.3 L687.3 958.1 M597.8 1056.9 L691.9 962.7 M602.4 1061.5 L696.5 967.3 M606.9 1066.1 L701.1 971.9 M611.5 1070.7 L705.7 976.5 M616.1 1075.3 L710.3 981.1 M620.7 1079.9 L714.9 985.7 M625.3 1084.5 L719.5 990.3 M629.9 1089 L724.1 994.9 M634.5 1093.6 L728.7 999.5 M639.1 1098.2 L733.3 1004.1 M643.7 1102.8 L737.9 1008.7" stroke-width="1.5" fill="none"/></g>
<clipPath id="c30"><path clip-rule="nonzero" d="M579.3 1011.9 L703.6 1011.9 L714 1063.7 L567.5 1063.7 Z"/></clipPath><g clip-path="url(#c30)"><path d="M642.5 919.7 L758.8 1036 M635.6 926.6 L751.9 1043 M628.7 933.6 L745 1049.9 M621.7 940.5 L738.1 1056.8 M614.8 947.4 L731.1 1063.8 M607.9 954.4 L724.2 1070.7 M600.9 961.3 L717.3 1077.6 M594 968.2 L710.3 1084.5 M587.1 975.1 L703.4 1091.5 M580.2 982.1 L696.5 1098.4 M573.2 989 L689.5 1105.3 M566.3 995.9 L682.6 1112.3 M559.4 1002.9 L675.7 1119.2 M552.4 1009.8 L668.8 1126.1 M545.5 1016.7 L661.8 1133 M538.6 1023.6 L654.9 1140 M531.6 1030.6 L648 1146.9 M524.7 1037.5 L641 1153.8 M517.8 1044.4 L634.1 1160.8" stroke-width="1.7" fill="none"/></g>
<path d="M584.5 1012.5 Q584.5 1021 592 1021 L685.3 1021 L685.3 1063.7 L694.5 1063.7 L694.5 1016 Q694.5 1013 691 1013 L599 1013 L599 1000.9 L589.7 1000.9 L589.7 1012.5 Z" fill="#fff" stroke="none"/>
<rect x="579.8" y="1001.5" width="9.9" height="10" fill="#fff" stroke="none"/>
<clipPath id="c31"><path clip-rule="nonzero" d="M584.5 1012.5 Q584.5 1021 592 1021 L685.3 1021 L685.3 1063.7 L694.5 1063.7 L694.5 1016 Q694.5 1013 691 1013 L599 1013 L599 1000.9 L589.7 1000.9 L589.7 1012.5 Z"/></clipPath><path clip-path="url(#c31)" d="M620.8 1050.3h.1M589.3 1048.6h.1M602.1 1055.5h.1M675 1023.3h.1M595.4 1014.1h.1M607.3 1062.4h.1M673.2 1002.4h.1M585.4 1036h.1M634.5 1035.6h.1M677 1053.5h.1M599.3 1061.7h.1M635 1030.4h.1M601.1 1015.9h.1M605 1018.5h.1M644.4 1017.1h.1M614.1 1007.8h.1M592.1 1058.1h.1M632.7 1029.3h.1M598.9 1062.7h.1M585.9 1050.2h.1M589.3 1019h.1M638 1029.5h.1M662 1036.7h.1M661.7 1005.1h.1M616.8 1018.1h.1M637.5 1027.2h.1M596.4 1009h.1M591.2 1004.3h.1M655.7 1061.4h.1M649.8 1013.3h.1M651.7 1032h.1M615.6 1051.4h.1M613.4 1020.1h.1M589.5 1016.1h.1M686 1031h.1M664.7 1031.7h.1M613.7 1023.2h.1M640.5 1020.3h.1M641.2 1002.5h.1M627.1 1008.2h.1M637.1 1034.2h.1M684.7 1055.7h.1M682.8 1028.8h.1M616.9 1054.1h.1M597.6 1024.7h.1M591.3 1051.9h.1M666.5 1059.1h.1M604.9 1053.4h.1M661.2 1035.1h.1M633.3 1051.5h.1M636.5 1060.3h.1M686.3 1024h.1M643.8 1027.9h.1M683.7 1054.5h.1M628.6 1024h.1M619.4 1042.6h.1M657.7 1039.9h.1M641.8 1043.1h.1M585.2 1030.9h.1M660.8 1046.7h.1M674.1 1015.1h.1M686.4 1061.8h.1M652.8 1052.4h.1M606.2 1012.7h.1M608.4 1034.4h.1M682.8 1022.9h.1M687.2 1053.1h.1M589.4 1002.8h.1M694.3 1032.3h.1M670.2 1055h.1M617.9 1001.9h.1M679.8 1059.4h.1M628.4 1042.4h.1M585.8 1059.9h.1M651.7 1062.3h.1M660.2 1023.5h.1M604.2 1033.2h.1M679.6 1034.4h.1M643.8 1014.7h.1M600.7 1015.9h.1M618 1030.5h.1M688.1 1018h.1M609.6 1047.4h.1M687.7 1015.7h.1M617.4 1026.9h.1M591.2 1006.7h.1M645.2 1016.3h.1M610.2 1051.5h.1M637.5 1036.3h.1M656.7 1047.5h.1M685.8 1061.8h.1M596.8 1047.4h.1M587.2 1008.4h.1M612.7 1009h.1M601.3 1015.6h.1M673.9 1050.3h.1M639.7 1035.4h.1M666.8 1038h.1M593 1029.8h.1M606.8 1030.5h.1M692 1013.3h.1M620 1037.4h.1M657 1020.1h.1M627.9 1032.2h.1M686.8 1004h.1M682.4 1035.9h.1M685.3 1025.4h.1M656 1002.4h.1M609 1041.6h.1M620.7 1033.4h.1M692.6 1036.1h.1M658.1 1036.3h.1M612.3 1062.8h.1M626.3 1002.4h.1M631.3 1026.9h.1M607.2 1027.8h.1M592.5 1060h.1M641.8 1018.9h.1M644.8 1038h.1M627.3 1051.7h.1M634.6 1058.9h.1M668.8 1044.4h.1M602.4 1045.1h.1M692.2 1052h.1M589.3 1018.7h.1M584.7 1042.7h.1M682 1044h.1M657.5 1035h.1M664.8 1035.2h.1M672.4 1010.7h.1M636.3 1040.4h.1M592 1036.2h.1M685.2 1006.4h.1M665.3 1046h.1M682.4 1061.6h.1M654.6 1038.4h.1M636.7 1028.5h.1M650.7 1022.1h.1M672.3 1035.2h.1M632.3 1033.3h.1M662.5 1053.4h.1M674.2 1045.4h.1M611.4 1000.9h.1M597.8 1006.2h.1M640.3 1005.7h.1M636.6 1048.4h.1M633 1055.7h.1M624.1 1031.3h.1M613.6 1009.1h.1M648.1 1008.7h.1M600.8 1019.1h.1M664.6 1062.4h.1M608.4 1016h.1M691.2 1037.4h.1M672.1 1063.6h.1M657.1 1016.4h.1M692.5 1056.9h.1M584.8 1061.7h.1M655.8 1015.5h.1M636.7 1019.8h.1M669.7 1026h.1M593.9 1056.7h.1M620.9 1011.8h.1M661.5 1009.1h.1M651.1 1028.8h.1M597.9 1060.9h.1M660.8 1004.4h.1M683.5 1041.4h.1M675 1049.4h.1M603.2 1020.6h.1M603.5 1051.8h.1M688.7 1036.9h.1M657.8 1062.2h.1M641.8 1028.6h.1M615.4 1062.8h.1M597.9 1012.8h.1M678.1 1002.6h.1M606.3 1034.1h.1M610.5 1025.1h.1M587.3 1042.9h.1M592.7 1019.1h.1M595.7 1044.6h.1M608.4 1035.7h.1M588.2 1036.5h.1M622.2 1057.9h.1M605.8 1019.5h.1M680.1 1004.7h.1M638.5 1031.4h.1M616.5 1011.5h.1M639.4 1002.7h.1M585.5 1018.9h.1M626.1 1017.1h.1M662.7 1027h.1M651.5 1037.9h.1M662.7 1059.4h.1M646.2 1044.5h.1M645.7 1005.7h.1M676.3 1034.1h.1M588.8 1047.6h.1M639.6 1060.4h.1M630.4 1030.5h.1M683 1059.2h.1M669.2 1028.8h.1M631.9 1047.1h.1M683.2 1029.7h.1M661.8 1036.2h.1M645.2 1014.3h.1M615.5 1016.9h.1M692.7 1002.5h.1M608.6 1013.7h.1M674.2 1043.1h.1M618.4 1007.6h.1M658.5 1047.8h.1M655.1 1045.8h.1M650.3 1002.8h.1M672 1055.6h.1M602.9 1024.9h.1M692.7 1062.2h.1M674.4 1053.8h.1M601.8 1055.9h.1M675 1013.5h.1M684.8 1052h.1M685.3 1057.3h.1M594.7 1011.5h.1M673.1 1011.8h.1M622.8 1050.4h.1M675.8 1026h.1M629.9 1044.6h.1M694 1040.3h.1M622.7 1016h.1M605.1 1039.3h.1M663.7 1014.9h.1M666.3 1038.9h.1M647.5 1033.9h.1M629.7 1001.8h.1M643.7 1042.5h.1M682.1 1062h.1M655.7 1011h.1M679 1026.9h.1M690.5 1060.2h.1M594.4 1004.2h.1M589.9 1043.3h.1M638.6 1040.1h.1M620.2 1038.1h.1M595 1013.9h.1M665.2 1015.3h.1M597 1041.7h.1M692.7 1059.7h.1M681.5 1045.7h.1M585.4 1010.7h.1M648.5 1034.3h.1M676.6 1002.8h.1M653.3 1005.4h.1M667.6 1006.5h.1M638 1049.4h.1M692.9 1050.9h.1M670.5 1019.6h.1M654.8 1034.9h.1M638.9 1038.3h.1M633.4 1024.7h.1M668.4 1041.5h.1M691.8 1059.1h.1M672.6 1007.8h.1M639.9 1032.1h.1M671.4 1058h.1M606.1 1001.6h.1M680.2 1062.2h.1M621.7 1038.6h.1M626.9 1025h.1M654.6 1044.3h.1M683.6 1023.8h.1M638.9 1029.2h.1M693 1033.4h.1M685.5 1061.7h.1M587.7 1049.4h.1M596.8 1032.1h.1M653.8 1005.8h.1M648.1 1044.3h.1M622.8 1034.8h.1M628.1 1010.5h.1M612.6 1060h.1M654.6 1034.9h.1M673.1 1053.4h.1M667.7 1026.1h.1M643.9 1021.1h.1M591.6 1059h.1M593.3 1024.3h.1M678.2 1020.4h.1M684.8 1002.2h.1M601 1029h.1M654.4 1050.7h.1M683.1 1052.4h.1M604.9 1063.2h.1M589.6 1030.2h.1M622.9 1002.4h.1M606.9 1063.3h.1M691.2 1022.5h.1M694.5 1047.3h.1M588.1 1038.7h.1M607 1018.4h.1M663.4 1013.9h.1M623.2 1001.3h.1M619.8 1020h.1M597 1007h.1M629.2 1006h.1M687.5 1017.1h.1M624.9 1004.9h.1M673.8 1012.8h.1M592.9 1024.2h.1M684.9 1058.5h.1M635.8 1037.4h.1M592.5 1057.6h.1M667.5 1016.4h.1M676.9 1010.9h.1M637.6 1018.9h.1M646.9 1016.7h.1M644.3 1016.9h.1M586.2 1008h.1M671.3 1029h.1M640.9 1042.3h.1M612.6 1012.7h.1M629.4 1048.1h.1M665 1029.8h.1M651.3 1016.9h.1M688.8 1041.1h.1M672.9 1024.1h.1M648.2 1045.5h.1M643.1 1048.7h.1M614.4 1050.2h.1M619.5 1033.3h.1M600.3 1026.2h.1M682 1002.8h.1M605.2 1035h.1M656.9 1044h.1M660 1046.1h.1M650.8 1010.5h.1M644.4 1018.5h.1M585.1 1032.8h.1M691.7 1030.2h.1M668.1 1040h.1M588.6 1035.4h.1M693.2 1042h.1M617.2 1057.7h.1M658.1 1059.5h.1M677.8 1037.5h.1M636 1034.2h.1M619.6 1054.5h.1M598.5 1063h.1M621.8 1028.5h.1M651.5 1020.4h.1M651.4 1004.3h.1M680.2 1007.5h.1M680.6 1054.8h.1M671 1048h.1M605 1036.6h.1M591.3 1047.7h.1M671.2 1014.1h.1M633.2 1006.6h.1M657.9 1044.7h.1M591.1 1039.4h.1M681.2 1012.1h.1M684.3 1018h.1M586.3 1006.2h.1M667.8 1013h.1M679.1 1028.3h.1M593.6 1052.2h.1M620.6 1009.2h.1M584.9 1019.9h.1M635.3 1032h.1M648.6 1006h.1M584.8 1056.6h.1M631.2 1046.3h.1M682.9 1038.2h.1M666 1014.8h.1M607.8 1033.1h.1M693 1061.9h.1M610 1040.7h.1M616.4 1023.5h.1M615.5 1063.4h.1M626.7 1030h.1M594 1054.1h.1M593.9 1053h.1M610.9 1015.7h.1M589.1 1023.1h.1M689.6 1023.6h.1M621 1047.6h.1M609.8 1048.4h.1M690.8 1054.7h.1M588.9 1050h.1M671.3 1050.8h.1M648.1 1007.6h.1M658.9 1037.4h.1M637.9 1049.1h.1M604.6 1024.5h.1M654 1057.2h.1M693.5 1056.6h.1M613.4 1027.4h.1M642.2 1029.8h.1M593.2 1023.9h.1M686.9 1024.5h.1M681.2 1056.9h.1M641.1 1058.5h.1M691.9 1001.5h.1M649.5 1060.8h.1M618.6 1023.7h.1M601.2 1056.3h.1M646.5 1038.1h.1M650.2 1057.3h.1M641.4 1035.4h.1M633.7 1022h.1M691.1 1041.5h.1M638.9 1006.5h.1M654.8 1003.7h.1M636.4 1014.2h.1M627.6 1014.8h.1M609.2 1028.4h.1M597.7 1016.7h.1M663.7 1007.3h.1M677.6 1026.7h.1M607.8 1049.4h.1M625.9 1024h.1M584.6 1012.1h.1M687.6 1031.9h.1M632.4 1037.9h.1M594.3 1010.4h.1M679.3 1040.5h.1M619.6 1055.1h.1M616.5 1028.9h.1M670.8 1054.4h.1M615.4 1062.6h.1M607.6 1017.6h.1M641.1 1036.2h.1M643.9 1030.3h.1M670.2 1016.7h.1M632.4 1043.3h.1M682.5 1016.9h.1M623.6 1030.4h.1M614 1033.1h.1M687.9 1015.6h.1M675.9 1056.7h.1M638.3 1023h.1M597.5 1035.4h.1M677.4 1024.9h.1M612.5 1052.9h.1M601.8 1036.3h.1M668.8 1032.9h.1M616.7 1038.5h.1M621.5 1042.9h.1M672 1051.3h.1M669.6 1008.7h.1M614.2 1042.9h.1M654.5 1057h.1M632.9 1004.7h.1M592.6 1004h.1M643.7 1021.2h.1M588.6 1057.9h.1M591.6 1022.8h.1M669.7 1043.9h.1M608.5 1061.3h.1M633.7 1052.6h.1M630.9 1041.5h.1M689.7 1004.6h.1M646.9 1038h.1M690.9 1038.7h.1M613.3 1009.6h.1M645.4 1011.3h.1M623.1 1061.1h.1M604.6 1013.8h.1M658.2 1032.5h.1M684.4 1021.5h.1M667.9 1026.9h.1M693.9 1058.6h.1M605.8 1024.2h.1M636.7 1030.4h.1M649.6 1044.3h.1M600.9 1041.7h.1M675.1 1026.7h.1M614.1 1016.8h.1M651.3 1008.5h.1M607.7 1019.8h.1M660.3 1047.5h.1M644.3 1010.2h.1M623.4 1004.7h.1M694.1 1029.8h.1M676.7 1016.4h.1M614.9 1009.9h.1M627.2 1044h.1M645.2 1021.2h.1M598.6 1018h.1M669.1 1012h.1M693.6 1053.5h.1M603.1 1001.1h.1M675.2 1003.6h.1M658.1 1032.5h.1M629.9 1037.4h.1M586.4 1048h.1M677 1003.3h.1M615.5 1053.6h.1M606.1 1010h.1M673 1063.1h.1M693.2 1013.1h.1M599.1 1001.5h.1M597.5 1021.5h.1M690.1 1048.3h.1M604.4 1025.8h.1M644.9 1010.8h.1M590.8 1012.9h.1M617.5 1003.3h.1M691.7 1062h.1M636.4 1028.1h.1M645.4 1053.3h.1M629.7 1058.7h.1M689.7 1018.3h.1M648.1 1060.9h.1M618 1063.2h.1M639.6 1043h.1M595 1025.7h.1M656.7 1013.8h.1M691.3 1025.8h.1M646.9 1049.8h.1M618.9 1045h.1M665.1 1049.6h.1M619.5 1022.2h.1M648.7 1029h.1M636.5 1036.5h.1M667.9 1009.9h.1M607.8 1008.8h.1M641.5 1013.9h.1M686.8 1013.8h.1M633.7 1049.1h.1M615.6 1005.9h.1M609.9 1045.2h.1M622.9 1060.3h.1M601.6 1019.9h.1M638.9 1021.9h.1M617 1007.4h.1M640.1 1047.9h.1M625.1 1062.7h.1M652.9 1023.7h.1M624.8 1018.4h.1M595 1030.6h.1M643.3 1050.9h.1M593.1 1002.8h.1M684.3 1023.5h.1M664.2 1056h.1M615.3 1012.1h.1M670.4 1019.9h.1M639.7 1001h.1M648.6 1028.6h.1M607.5 1013h.1M686.4 1057.4h.1M618.7 1020.8h.1M621.8 1022.6h.1M626.7 1061.2h.1M586.3 1023.7h.1M644.8 1039.3h.1M621.2 1046.2h.1M631.6 1010.3h.1M684.7 1013.9h.1M662 1059.3h.1M603.2 1048.4h.1M670.1 1022.7h.1M685.3 1009.6h.1M641.6 1062.4h.1M642.3 1055.9h.1M628.7 1041.6h.1M637.9 1045.5h.1M665.3 1046h.1M668.1 1014.3h.1M656.3 1050.8h.1M666.6 1012.1h.1M645 1001.8h.1M691.3 1041.6h.1M611.5 1038.7h.1M618.9 1035.9h.1M671 1054.8h.1M692.5 1042.3h.1M643.7 1033.3h.1M601.2 1003h.1M682.3 1062.1h.1M675.8 1012.7h.1M653.3 1013.2h.1M620 1050.6h.1M687 1001.7h.1M670.2 1045.5h.1M661.3 1010.2h.1M623.1 1047.7h.1M606.9 1011.6h.1M637.1 1011.6h.1M613.4 1010.7h.1M607.8 1007.3h.1M629.9 1022.1h.1M599.9 1012.1h.1M628.9 1005.4h.1M617.2 1003.7h.1M665.8 1008.6h.1M636.1 1009.5h.1M659.6 1062h.1M662 1006.3h.1M606 1011.3h.1M681.9 1006.1h.1M668.4 1049.3h.1M676.2 1027.6h.1M630.5 1023h.1M656.3 1031.3h.1M662.1 1028.4h.1M677.2 1038.5h.1M614.2 1027.4h.1M610 1058.5h.1M589.7 1026.1h.1M631.7 1039h.1M595.9 1043.1h.1M599.2 1018.3h.1M618.9 1005.5h.1M694.4 1004.7h.1M683.8 1044h.1M686.8 1038.1h.1M644.8 1028.9h.1M644.9 1021.6h.1M603.9 1037.7h.1M671.8 1062.3h.1M684.4 1038.9h.1M607 1036h.1M602.4 1054.9h.1M667.6 1024.5h.1M620 1056.8h.1M632.5 1005.8h.1M658 1027.4h.1M597.4 1054.7h.1M607.6 1012.9h.1M642.7 1016.5h.1M621.1 1029.2h.1M686.8 1038h.1M632 1053.1h.1M686.5 1058.5h.1M587.3 1051.5h.1M669.8 1045.6h.1M664.5 1042.3h.1M607.3 1059.4h.1M671.9 1016h.1M643.1 1012.7h.1M610.4 1040.2h.1M599.9 1001.4h.1M652.4 1039.6h.1M684.4 1002.6h.1M618.7 1008.4h.1M685.1 1051.5h.1M601.3 1030.5h.1M660.3 1039.8h.1M637.6 1034.8h.1M607.6 1004.8h.1M601.8 1032.8h.1M600.3 1056.4h.1M616.7 1001.7h.1M655.6 1042.6h.1M666.3 1028.9h.1M685.2 1043.4h.1M687.2 1050.8h.1M614.6 1028h.1M607.2 1040.6h.1M627.2 1029.8h.1M624.8 1012h.1M649.4 1046.5h.1M622.9 1009h.1M652.1 1040h.1M644.9 1052.9h.1M688 1048.8h.1M650.4 1059.9h.1M646.5 1033.4h.1M607.2 1021.1h.1M624.5 1017.6h.1M614.6 1012.4h.1M595.9 1035.8h.1M632.5 1051.4h.1M664.2 1059.3h.1M684.6 1007.8h.1M656.9 1059.1h.1M593.6 1009.6h.1M586.8 1012.1h.1M688.6 1056.1h.1M600.2 1001.2h.1M596.3 1055.2h.1M620 1036.7h.1M624 1027.3h.1M654.4 1060h.1M591.6 1027.3h.1M663 1050.3h.1M653.5 1018.5h.1M587.5 1015.3h.1M646.1 1057.1h.1M649.2 1038.4h.1M626.6 1048h.1M691.2 1030.7h.1M655.2 1034.2h.1M612.4 1057.8h.1M592.7 1027.3h.1M686.2 1036.8h.1M627.4 1014h.1M625.5 1047.9h.1M659.5 1039.9h.1M689 1024.1h.1M615.8 1039.9h.1M686.8 1045.3h.1M678.8 1052.9h.1M586.9 1041h.1M611.5 1043.7h.1M671.1 1051.5h.1M605.5 1024.3h.1M601.8 1052.9h.1M662 1036h.1M644.8 1047.2h.1M634.4 1012.2h.1M689.4 1049.5h.1M639 1036.2h.1M607.3 1015.6h.1M590.4 1042.6h.1M673.9 1017.4h.1M605.9 1028h.1M615.7 1048.4h.1M611.7 1017.2h.1M629.1 1054.9h.1M662.9 1008.2h.1M599.9 1004.1h.1M658.1 1042h.1M602.8 1018.6h.1M678.2 1004h.1M665 1052.9h.1M656.5 1020.9h.1M665.9 1058.8h.1M645.9 1040h.1M650.6 1059.3h.1M691.6 1042.6h.1M638.2 1008.7h.1M638.1 1027.5h.1M659.3 1031.4h.1M611.1 1013.4h.1M666.9 1036.8h.1M669.2 1013h.1M633.5 1008.2h.1M603.5 1022.8h.1M614.7 1060.8h.1M596.1 1033.1h.1M594.7 1056.5h.1M595.9 1054.7h.1M619.2 1023.4h.1M595.3 1040.2h.1M592.4 1042.9h.1M643.1 1018.2h.1M656 1045.4h.1M591.7 1058.2h.1M680.8 1051h.1M686.1 1022.4h.1M598.7 1028h.1M685.4 1043.6h.1M596.5 1048h.1M673.4 1029.8h.1M655.8 1055.6h.1M631.1 1050.4h.1M647.2 1050.2h.1M677.7 1010.2h.1M605.2 1037.7h.1M622.7 1019.6h.1M584.5 1028.7h.1M694.3 1026.6h.1M608.2 1024.3h.1M650.5 1002.6h.1M603.2 1033.9h.1M624.6 1044.5h.1M598.7 1004.8h.1M684.9 1048h.1M655.3 1038.8h.1M605.7 1010.3h.1M633.4 1043.8h.1M635.4 1032.3h.1M593.3 1060.5h.1M610.8 1025.3h.1M673.1 1060.3h.1M625 1029.2h.1M676.8 1031.6h.1M597.6 1014.5h.1M621.7 1001.1h.1M591.5 1057h.1M676.2 1052.9h.1M617.9 1022.8h.1M687.7 1004.2h.1M632.1 1023.7h.1M666.3 1043.9h.1M693.8 1061.6h.1M651.3 1058.5h.1M650.3 1013.9h.1M640.4 1017.8h.1M684.5 1051.2h.1M595.7 1041.7h.1M655.4 1049.3h.1M600.6 1037.5h.1M596.5 1027.7h.1M624.3 1023.2h.1M629.4 1033.2h.1M596.7 1034h.1M592.8 1044.9h.1M588.5 1031.3h.1M584.9 1050h.1M688.2 1047.7h.1M634.6 1029.9h.1M667.6 1005.7h.1M623.6 1031.1h.1M603.5 1029.7h.1M623.1 1009.6h.1M649.3 1028.3h.1M598.3 1034.5h.1M609.3 1036.6h.1M619.6 1046h.1M650.3 1001.1h.1M621.5 1048.5h.1M621.6 1049.3h.1M679.3 1059h.1M667.2 1027.7h.1M637.3 1006.3h.1M616.9 1017.3h.1M672.3 1050.2h.1M653.9 1048.8h.1M631.8 1041.1h.1M623.7 1001.8h.1M642 1056h.1M639.2 1057.6h.1M627 1016.8h.1M602 1027.9h.1M618.6 1007.8h.1M618.9 1060.8h.1M670.3 1027.3h.1M610.3 1032.1h.1M621.1 1039.8h.1M615.4 1040h.1M668.9 1018.5h.1M608.9 1036.5h.1M647.5 1056.3h.1M673.9 1029.9h.1M638.8 1050.4h.1M647.8 1008.5h.1M626.5 1008.2h.1M658.2 1049.9h.1M654.4 1004.3h.1M629.1 1002h.1M659.7 1048.2h.1M606.6 1045.8h.1M589.9 1010h.1M686.4 1014.5h.1M655.9 1059.6h.1M668.8 1029.5h.1M631.6 1026.1h.1M601.5 1050.2h.1M641.7 1048.9h.1M637.2 1015.7h.1M612.9 1008.3h.1M663.6 1032.3h.1M626.9 1062.2h.1M624.6 1023.2h.1M609 1018.4h.1M611.8 1033h.1M630.7 1030.4h.1M676.4 1022.9h.1M651.3 1033h.1M688.7 1038.3h.1M686.9 1023.6h.1M605.8 1013.9h.1M674.6 1008.1h.1M616.5 1054.1h.1M591.4 1045.1h.1M627.7 1014.9h.1M688.5 1054.9h.1M607.9 1009.2h.1M645.5 1005.5h.1M688.5 1021.5h.1M619.3 1004.4h.1M638.2 1036.1h.1M598.5 1044.9h.1M641 1052.4h.1M685.7 1055.6h.1M632.8 1022.7h.1M654.6 1026.5h.1M634.6 1016.4h.1M600.9 1007.4h.1M654.2 1058.2h.1M692.5 1017.6h.1M607 1006.3h.1M596 1052.4h.1M622.6 1024h.1M606 1044.9h.1M605.5 1060.8h.1M587.1 1059.1h.1M629.6 1028.7h.1M639.6 1015.8h.1M685.3 1033.5h.1M644.4 1055.7h.1M657.2 1053.6h.1M597.6 1019.7h.1M607.9 1033.1h.1M613.3 1057.3h.1M607.5 1025.3h.1M629 1020.8h.1M662.5 1031.8h.1M672.1 1023h.1M676.5 1053.3h.1M628.8 1059.7h.1M686.5 1015h.1M645.1 1055.6h.1M609.7 1055.4h.1M617.9 1052.4h.1M626 1060.2h.1M681 1024.7h.1M585.9 1039.8h.1M646.8 1019.5h.1M685.2 1027.2h.1M642.7 1015h.1M664.9 1034.5h.1M600.6 1059.9h.1M615 1009.5h.1M664 1027.3h.1M673.1 1027.6h.1M645.5 1046.1h.1M680.7 1011.2h.1M596.8 1031.1h.1M601.4 1050.8h.1M622 1023.3h.1M593.9 1018.1h.1M624.4 1017.6h.1M607.7 1018.6h.1M664.1 1008.6h.1M640 1041.7h.1M586.9 1052.3h.1M667.8 1016.3h.1M590.9 1005.5h.1M680.6 1003.5h.1M651.4 1037.7h.1M656.9 1029.1h.1M634.1 1030h.1M667.8 1007.2h.1M614.1 1031.9h.1M630.2 1039.3h.1M627.7 1061.7h.1M608.1 1058.8h.1M586.3 1052h.1M595.8 1019h.1M631.2 1058h.1M599.1 1032.9h.1M671.5 1031.6h.1M664 1063.6h.1M672.8 1016.6h.1M620.3 1035.4h.1M667 1062.5h.1M677.7 1049.9h.1M651.6 1045.6h.1M680.4 1051.1h.1M603.4 1015.1h.1M629.2 1061.5h.1M619.1 1052h.1M616.9 1045.4h.1M680.4 1063h.1M647.4 1038.3h.1M603 1054.3h.1M607.8 1008.8h.1M679.2 1033.7h.1M635.3 1012.9h.1M686.1 1044h.1M679.6 1025.4h.1M637.4 1033h.1M594.6 1002.1h.1M649.9 1023.4h.1M677.1 1048.8h.1M658 1037h.1M611 1037.4h.1M657.8 1017.1h.1M635.7 1005.3h.1M658.5 1028.1h.1M608.5 1045.5h.1M672.3 1014.6h.1M585.3 1037.6h.1M689.2 1006.4h.1M672.8 1038.9h.1M662 1001.7h.1M628.1 1003.6h.1M688.7 1062.9h.1M662.8 1038.2h.1M669.7 1009.1h.1M692.8 1025.2h.1M631.6 1001.6h.1M593.4 1059.1h.1M606 1032.5h.1M664.3 1046.7h.1M633.1 1044.3h.1M676.3 1013.7h.1M626.9 1037.1h.1M660.7 1036.6h.1M588 1016.2h.1M623.8 1055.3h.1M652.3 1017.9h.1M646.8 1019.5h.1M690.9 1044.5h.1M681.2 1025.4h.1M598.9 1050.4h.1M604.4 1054.4h.1M669 1055.2h.1M647.4 1041.3h.1M587.7 1018.4h.1M597.7 1004.9h.1M643.1 1004.8h.1M638.9 1010.7h.1M605.2 1051.2h.1M693 1040.6h.1M652.1 1012.1h.1M631.2 1056.8h.1M592.4 1024.7h.1M611.2 1014.9h.1M601 1046.9h.1M621.8 1062.8h.1M619.9 1045.4h.1M624.6 1049.3h.1M591.1 1062.7h.1M611.8 1047.4h.1M620 1002h.1M643.7 1008.8h.1M670.6 1014.4h.1M590 1034.7h.1M648.9 1041.2h.1M663 1004.1h.1M684 1051.6h.1M666.7 1001.3h.1M616.5 1013.8h.1M681.5 1017.8h.1M628.2 1014h.1M664.9 1008.5h.1M635.7 1048.2h.1M624.3 1015.1h.1M640.9 1012.8h.1M664.5 1052h.1M610.4 1004.1h.1M625.5 1001.6h.1M677.9 1060.8h.1M649.7 1033.8h.1M649.2 1023.6h.1M643.9 1039.5h.1M677.8 1019.5h.1M600.7 1028.8h.1M589.9 1020.5h.1M640.6 1054.6h.1M649.2 1062.9h.1M670.9 1062.8h.1M681.5 1021.6h.1M604.2 1044.7h.1M665.8 1026.5h.1M674.8 1041.4h.1M674.6 1001h.1M676.8 1056.1h.1M610.2 1053.6h.1M613.5 1054.3h.1M676.2 1053h.1M595 1013.1h.1M644.8 1015.9h.1M626.3 1061.2h.1M684.8 1011.1h.1M603 1049.8h.1M647.1 1001.5h.1M690.1 1012.4h.1M593.9 1056.5h.1M675.4 1007.2h.1M647.9 1060.1h.1M694.1 1057.9h.1M676.8 1059.7h.1M628.4 1045.5h.1M678.6 1052.4h.1M650.2 1053.6h.1M667.8 1058.8h.1M684.2 1055.7h.1M604.9 1022.2h.1M638.9 1001.1h.1M615.7 1055.6h.1M691.8 1031.7h.1M641.4 1007.9h.1M643.6 1059.5h.1M618.4 1042.1h.1M674.3 1029.5h.1M632 1045.7h.1M604 1022.2h.1M609.9 1004.9h.1M611.3 1053.1h.1M666.9 1026.2h.1M597.1 1033.1h.1M616 1040.4h.1M678.7 1023.6h.1M620.5 1052.8h.1M678.8 1044.4h.1M621.4 1059.1h.1M591.5 1063h.1M663.9 1004.8h.1M603.1 1050.9h.1M687.3 1007.1h.1M652.6 1054.8h.1M657.8 1059.2h.1M681.1 1012h.1M593.9 1057h.1M611.6 1055.9h.1M689.7 1025.2h.1M668.8 1014.1h.1M640.8 1008.6h.1M653.5 1009.8h.1M631.3 1002.4h.1M692.1 1039.5h.1M621.7 1015h.1M670.7 1031.7h.1M646.8 1003.5h.1M624.7 1030.2h.1M676.9 1013.7h.1M589.9 1034.7h.1M608.4 1003.3h.1M596.4 1031.1h.1M631.5 1017.5h.1M662 1004h.1M616.8 1032h.1M611.4 1061.6h.1M621.8 1029.5h.1M689 1033.5h.1M610.2 1030.8h.1M693.5 1053.1h.1M618.7 1005.5h.1M686.3 1019.7h.1M593.4 1027.3h.1M668.5 1024.2h.1M672.8 1059.8h.1M658.4 1056.3h.1M649.3 1006.2h.1M659 1016.9h.1M673.4 1057.3h.1M635.8 1045.2h.1M589.9 1037h.1M657.1 1058.6h.1M592.1 1013.2h.1M668.2 1039.4h.1M634 1061.9h.1M592.3 1055.6h.1M596.9 1016.1h.1M656.9 1004.1h.1M668.7 1020.3h.1M672.1 1038.6h.1M612.6 1050.6h.1M685.5 1050.5h.1M594.8 1028.7h.1M591.9 1029.1h.1M615.6 1034.1h.1M679.9 1047.7h.1M671.8 1004.4h.1M637.9 1027h.1M664.3 1056.6h.1M585.3 1055.1h.1M620.9 1003h.1M652.6 1034.5h.1M690.2 1051.3h.1M636.1 1049.9h.1M682.4 1033.3h.1M619.5 1041.9h.1M678.1 1045.6h.1M652.5 1011.2h.1M664.7 1038.5h.1M664.1 1029.7h.1M588.7 1016.9h.1M649.6 1010.7h.1M620.3 1026.6h.1M600.2 1018.6h.1M633.9 1058.2h.1M663.6 1007.3h.1M627.5 1051.7h.1M584.5 1045.4h.1M663.5 1016.7h.1M586 1020.3h.1M620.6 1042.6h.1M592.9 1011.3h.1M663.9 1003.4h.1M649.9 1024.2h.1M621.4 1026.6h.1M622 1050.8h.1M685.2 1036.7h.1M659.8 1053.9h.1M596.4 1030.3h.1M587.5 1048.4h.1M682.8 1009.4h.1M631 1039.9h.1M643.1 1004.3h.1M629.4 1022.2h.1M650.8 1057h.1M593.1 1034.8h.1M635.3 1025.2h.1M605.7 1029.2h.1M597.5 1043.3h.1M616.9 1055.7h.1M611.3 1014.2h.1M605.2 1046.6h.1M676.9 1055.4h.1M641.2 1041h.1M623.7 1034.5h.1M596.9 1055.7h.1M631.3 1031.1h.1M595.8 1033.2h.1M606.1 1062.7h.1M592.7 1023.1h.1M593.1 1013.6h.1M639.7 1005.2h.1M654.2 1038.6h.1M668.8 1022.4h.1M654.4 1022.1h.1M660.1 1062.9h.1M604.1 1043.7h.1M672.2 1016.5h.1M590 1033h.1M640.7 1039.3h.1M668.2 1021.8h.1M673.2 1045.6h.1M611.4 1015.5h.1M634.3 1054.8h.1M680.8 1034.3h.1M642.7 1032h.1M666.7 1002.3h.1M662.4 1033.3h.1M646.4 1054.6h.1M596.4 1033h.1M689.1 1016.3h.1M652.3 1018.3h.1M669 1041h.1M599.8 1009.6h.1M622.7 1028.8h.1M672.2 1060.1h.1M645.3 1006.6h.1M635 1060.2h.1M593.1 1028.6h.1M613.8 1041.5h.1M607.8 1003.7h.1M605 1033.9h.1M630.9 1053.9h.1M607.9 1041.8h.1M686.4 1002.5h.1M638.5 1014h.1M626.9 1017.1h.1M667.9 1017h.1M692.6 1013.9h.1M616.9 1041h.1M598.1 1011.7h.1M621.3 1042.6h.1M674.8 1037.9h.1M616 1036.3h.1M692.5 1024.1h.1M597 1003.3h.1M634.3 1060.5h.1M688 1044.6h.1M610 1024.6h.1M607.9 1028.5h.1M669.3 1002.9h.1M641.8 1014.4h.1M652.6 1050.5h.1M668.7 1022.7h.1M683.2 1001.8h.1M617 1010.2h.1M659.7 1031.3h.1M650.8 1004.5h.1M595.9 1048h.1M655.8 1058.7h.1M632.2 1038.4h.1M631.7 1056h.1M617 1031.8h.1M671.1 1024.3h.1M632.2 1007.1h.1M690.3 1032.4h.1M636.3 1011.3h.1M629.6 1023h.1M605 1023.7h.1M623.4 1041.2h.1M592.6 1063.3h.1M677.3 1001.5h.1M634.5 1047h.1M589 1056.8h.1M691 1005.2h.1M620 1061.7h.1M615.8 1047.2h.1M672.7 1001.2h.1M637.1 1021.6h.1M675.2 1005.9h.1M658.2 1002.4h.1M651.3 1030.7h.1M686.5 1062.9h.1M675 1044.8h.1M626 1038h.1M631.2 1047.5h.1M691.9 1042.3h.1M600.7 1035.5h.1M643 1057.2h.1M619.8 1025.8h.1M660.9 1038.9h.1M638.8 1038.7h.1M609.7 1006.5h.1M632.5 1034.2h.1M664.7 1025.8h.1M621.4 1061.1h.1M684.4 1014.1h.1M678.6 1022.3h.1M590.2 1050.9h.1M642.5 1059.4h.1M632.3 1003.5h.1M627.6 1044.6h.1M610.2 1042.2h.1M609.6 1042.9h.1M585.8 1045.4h.1M607 1025.2h.1M691 1007.5h.1M592.8 1061.8h.1M673.9 1036.5h.1M642.3 1029.8h.1M655.3 1052.2h.1M599.5 1023.3h.1M639.8 1010.8h.1M596.4 1041.3h.1M692.7 1052.1h.1M619.4 1022h.1M693.2 1052.5h.1M650.1 1005.9h.1M598.9 1047.9h.1M624.9 1042.4h.1M602.6 1043.9h.1M641 1007.8h.1M598.6 1016.6h.1M627.8 1034.8h.1M688.6 1012.8h.1M605.8 1034.2h.1M609 1001.2h.1M640.2 1026.8h.1M656.2 1032.9h.1M592.6 1028.5h.1M594.6 1005.7h.1M678.9 1057.8h.1M689.7 1046.9h.1M651.9 1032.5h.1M642.1 1020.9h.1M680.5 1030h.1M685 1023.6h.1M612 1041h.1M661.9 1031.4h.1M608.7 1006.2h.1M654 1009.3h.1M677.6 1029.8h.1M664.1 1017.9h.1M684.3 1016h.1M693.6 1004.9h.1M665.6 1019.7h.1M687.8 1038.8h.1M665.2 1035.2h.1M668.8 1018.7h.1M626.1 1042.5h.1M591.1 1019h.1M606.2 1011.9h.1M612.4 1002.5h.1M645.7 1027.3h.1M665.9 1061.2h.1M650.2 1042.2h.1M683 1061.3h.1M633.2 1055.1h.1M631.4 1029.8h.1M612.5 1047.6h.1M612.2 1020.7h.1M633.4 1001.9h.1M674.6 1001h.1M599.2 1057.2h.1M669.7 1002.2h.1M608.7 1026.8h.1M586.6 1015.6h.1M622.5 1062.5h.1M590.2 1044.8h.1M607.8 1040.2h.1M585.8 1048.2h.1M686.1 1004.8h.1M691.5 1054.9h.1M618.4 1031.3h.1M585.1 1012.3h.1M590.8 1022.5h.1M612.1 1005.3h.1M591.4 1012.5h.1M590.9 1009.4h.1M676.6 1027.6h.1M594.1 1055.3h.1M603.4 1015h.1M589.3 1053.5h.1M633.7 1037.3h.1M640.8 1054.5h.1M683.7 1051.2h.1M643 1044.7h.1M608.3 1055.1h.1M641.4 1002.5h.1M620.8 1060.4h.1M616.6 1008.4h.1M692.9 1027.8h.1M647.7 1023.6h.1M613.1 1021.1h.1M687.1 1031.6h.1M662.8 1039.5h.1M611.5 1057.8h.1M685.4 1009.6h.1M589.8 1046.5h.1M601.1 1055.3h.1M638.1 1033.3h.1M614.8 1035.8h.1M618.9 1001.9h.1M643.4 1055.7h.1M657.8 1030.2h.1M677.9 1003.9h.1M607.9 1024h.1M587 1006.6h.1M672.5 1030.4h.1M656.5 1012.5h.1M684.6 1058.8h.1M621.7 1013.4h.1M622.5 1018.8h.1M626.6 1043.9h.1M668.8 1057.4h.1M652.1 1052.5h.1M655.8 1005.9h.1M603.5 1015.7h.1M596.3 1017.2h.1M658.1 1047.6h.1M633.9 1035.2h.1M655.1 1043.9h.1M631.7 1023.7h.1M641.9 1037.4h.1M599.5 1029.8h.1M639.7 1048.7h.1M615.9 1061.1h.1M664 1040h.1M639.7 1011.6h.1M622 1020.4h.1M636.9 1005.5h.1M586.8 1063.5h.1M585.4 1019.7h.1M628.9 1062.9h.1M622 1019h.1M637.9 1040.3h.1M680.8 1044.2h.1M592.9 1057.6h.1M684.4 1007.4h.1M674.7 1058.3h.1M677 1059.4h.1M618.3 1040.9h.1M670.1 1053.2h.1M650.9 1056.4h.1M657.1 1024.9h.1M688.6 1026.7h.1M596 1058.2h.1M625.3 1050.8h.1M682 1050h.1M660.3 1021.3h.1M640.3 1025.6h.1M673.4 1020.6h.1M632.9 1049.6h.1M597 1050.4h.1M645.4 1043.5h.1M659.4 1016.2h.1M682.3 1039.8h.1M623.8 1007.6h.1M607.1 1003.1h.1M616.5 1009.5h.1M587.8 1004.2h.1M595.8 1014.6h.1M595 1020.3h.1M596.2 1010.8h.1M648.4 1024.5h.1M659.7 1015.4h.1M656.1 1018.6h.1M631.6 1016.8h.1M594.5 1063.6h.1M612.9 1001.1h.1M652.3 1004.4h.1M595.8 1015.2h.1M606.8 1024.3h.1M621.4 1020.3h.1M670.1 1024.8h.1M683.5 1045h.1M681.8 1028h.1M621.6 1037.3h.1M694.4 1005.9h.1M659.5 1052.7h.1M645.2 1008.7h.1M694.3 1021.4h.1M685.9 1030.7h.1M597.5 1034.4h.1M617 1020.3h.1M682.5 1057.5h.1M647.8 1042.1h.1M657.6 1029.1h.1M668.9 1039h.1M693.7 1051.3h.1M682 1003.2h.1M635.9 1010.4h.1M618.1 1005.5h.1M680 1029.5h.1M645.8 1052.8h.1M669.1 1055.4h.1M588.5 1007.3h.1M636.7 1037.7h.1M692.8 1023h.1M599.7 1016.3h.1M598.3 1047.8h.1M644.5 1016.6h.1M667.7 1024.9h.1M606.2 1005.4h.1M670 1053h.1M662.6 1061.1h.1M690.5 1001.2h.1M599.2 1032.5h.1M641.3 1023.1h.1M608.3 1017.6h.1M691.8 1031.9h.1M630.8 1047.4h.1M665 1051.1h.1M670.7 1020.3h.1M611.4 1032.4h.1M665.8 1017.7h.1M684.2 1008.5h.1M610.1 1025.1h.1M604 1009.2h.1M618.8 1001.4h.1M650.7 1035.3h.1M600.3 1047.4h.1M629.8 1035.3h.1M681.8 1032.3h.1M596.5 1021.9h.1M601.4 1056.7h.1M610.6 1005.4h.1M634.1 1022h.1M670.6 1002.3h.1M609 1020.7h.1M596.4 1033.1h.1M682.9 1058.8h.1M649 1001.6h.1M654.6 1010.3h.1M643.4 1039.9h.1M688.6 1036.6h.1M612.4 1006.3h.1M667.2 1023.1h.1M618.9 1035h.1M658.4 1038.9h.1M585.8 1053.5h.1M657.3 1055.5h.1M658 1042.2h.1M614.3 1022.7h.1M687.2 1020.6h.1M684.7 1017.2h.1M634.8 1061.5h.1M654.9 1033.6h.1M585.6 1025.7h.1M598.9 1036.4h.1M692.1 1017.2h.1M686.7 1059h.1M603.5 1056.5h.1M662.7 1011.4h.1M600.3 1039.5h.1M680.3 1019.9h.1M669.2 1041.1h.1M598.5 1045.2h.1M616.3 1011.6h.1M634.9 1003.1h.1M680.6 1003.2h.1M692.8 1062.8h.1M682.4 1038.3h.1M693.1 1003.7h.1M625.3 1030.7h.1M602.3 1044h.1M674.5 1028.9h.1M590.6 1021.7h.1M678.9 1062.9h.1M626.8 1001.8h.1M680.2 1045.2h.1M589 1032.4h.1M624.5 1063.1h.1M647.3 1059.3h.1M630.4 1022.7h.1M642.7 1006.5h.1M629.1 1020.6h.1M603.9 1053.5h.1M647.6 1046.1h.1M651.1 1015h.1M615.2 1012.5h.1M653.7 1020.1h.1M598.8 1052.5h.1M598.8 1062.2h.1M620.6 1043.2h.1M692.8 1016.2h.1M681.2 1021.7h.1M643.4 1029.4h.1M644 1043.8h.1M668.9 1024.7h.1M660.9 1055.9h.1M640.6 1030.4h.1M635.5 1012.4h.1M651.3 1017.4h.1M625.5 1059.3h.1M616.2 1021.8h.1M656.9 1038.8h.1M677.9 1008.8h.1M613.3 1011.9h.1M600.1 1025.7h.1M669.1 1053.1h.1M606.2 1045.4h.1M605.2 1029.4h.1M598.5 1015.8h.1M674.1 1046h.1M638.9 1056.6h.1M596.7 1019.5h.1M658.7 1009h.1M633.7 1027.7h.1M603.9 1018.2h.1M613.2 1035h.1M621.8 1036.6h.1M620.7 1046.2h.1M681.1 1039.6h.1M676.3 1030.1h.1M593.8 1057.2h.1M606.3 1005.6h.1M666.6 1006.8h.1M640.6 1027.8h.1M590.2 1029.4h.1M597 1044.8h.1M677.2 1027.2h.1M646 1025.6h.1M650.3 1061.8h.1M610.5 1038.3h.1M586 1058.4h.1M590.7 1027.8h.1M624.8 1035.2h.1M612.1 1012.2h.1M642.5 1052.1h.1M691.1 1026.9h.1M611.4 1021.1h.1M597.5 1055.8h.1M672.8 1009.6h.1M684.8 1032.1h.1M649.7 1040.5h.1M666.9 1014.3h.1M623.6 1035.4h.1M653.8 1046.3h.1M609.3 1013.2h.1M658.7 1027.6h.1M691.8 1061h.1M690.1 1062.5h.1M681.9 1050.8h.1M590.3 1051h.1M676.9 1011.6h.1M596.7 1057.6h.1M603.6 1003.9h.1M623.7 1022.8h.1M617.8 1012.6h.1M634.7 1053.9h.1M588.3 1031h.1M687.8 1051.7h.1M587.6 1036.6h.1" stroke-width="1.1" fill="none"/>
<clipPath id="c32"><path clip-rule="nonzero" d="M584.5 1012.5 Q584.5 1021 592 1021 L685.3 1021 L685.3 1063.7 L694.5 1063.7 L694.5 1016 Q694.5 1013 691 1013 L599 1013 L599 1000.9 L589.7 1000.9 L589.7 1012.5 Z"/></clipPath><g clip-path="url(#c32)"><path d="M540.4 1029.4 L636.6 933.2 M543.9 1033 L640.2 936.7 M547.4 1036.5 L643.7 940.2 M551 1040 L647.2 943.8 M554.5 1043.6 L650.8 947.3 M558 1047.1 L654.3 950.8 M561.6 1050.6 L657.8 954.4 M565.1 1054.2 L661.4 957.9 M568.6 1057.7 L664.9 961.4 M572.2 1061.2 L668.4 965 M575.7 1064.8 L672 968.5 M579.3 1068.3 L675.5 972.1 M582.8 1071.8 L679 975.6 M586.3 1075.4 L682.6 979.1 M589.9 1078.9 L686.1 982.7 M593.4 1082.5 L689.7 986.2 M596.9 1086 L693.2 989.7 M600.5 1089.5 L696.7 993.3 M604 1093.1 L700.3 996.8 M607.5 1096.6 L703.8 1000.3 M611.1 1100.1 L707.3 1003.9 M614.6 1103.7 L710.9 1007.4 M618.1 1107.2 L714.4 1010.9 M621.7 1110.7 L717.9 1014.5 M625.2 1114.3 L721.5 1018 M628.7 1117.8 L725 1021.5 M632.3 1121.3 L728.5 1025.1 M635.8 1124.9 L732.1 1028.6 M639.4 1128.4 L735.6 1032.2 M642.9 1131.9 L739.1 1035.7" stroke-width="1.5" fill="none"/></g>
<path d="M579.3 1000.9 L703.6 1000.9 L714 1063.7 L567.5 1063.7 Z" stroke-width="2.2" fill="none"/>
<path d="M584.5 1012.5 Q584.5 1021 592 1021 L685.3 1021 L685.3 1063.7 L694.5 1063.7 L694.5 1016 Q694.5 1013 691 1013 L599 1013 L599 1000.9 L589.7 1000.9 L589.7 1012.5 Z" stroke-width="1.7" fill="none"/>
<line x1="599" y1="1011.9" x2="703.6" y2="1011.9" stroke-width="1.5"/>
<path d="M579.3 1006 L589.7 1006" stroke-width="1.2" fill="none"/>
<path d="M 600.6 975.1 C 602.6 973.5 606.8 973.6 605.8 976.4 C 605.2 978.4 602.7 978.9 601.7 978.9 C 604.9 978.9 605.1 980.7 604.6 982 C 603.5 984.9 598.7 984.9 598 983 M 615.2 973.8 L 610.1 973.8 L 608.3 978.4 C 611.1 977.3 614.4 977.8 613.3 981.2 C 612.1 984.9 607.3 984.9 606.5 982.9" stroke-width="1.9" fill="none"/>
<path d="M 664.1 976.4 C 665.2 974 670.7 973.5 669.8 976.8 C 669.2 979.1 663.4 981.8 661.7 984.4 L 668.3 984.4 M 678.5 977 C 679.3 973.8 673.3 973.5 672.4 977 C 671.7 979.6 676.7 979.6 678.5 977 C 677.2 981.2 674.4 984.4 671.3 984.2" stroke-width="1.9" fill="none"/>
<path d="M 545.6 1002.7 C 547.6 1001.1 551.8 1001.2 550.8 1004 C 550.2 1006 547.7 1006.5 546.7 1006.5 C 549.9 1006.5 550.1 1008.3 549.6 1009.6 C 548.5 1012.5 543.7 1012.5 543 1010.6 M 554 1002.7 C 556 1001.1 560.3 1001.2 559.3 1004 C 558.7 1006 556.2 1006.5 555.2 1006.5 C 558.3 1006.5 558.6 1008.3 558.1 1009.6 C 557 1012.5 552.2 1012.5 551.4 1010.6" stroke-width="1.9" fill="none"/>
<path d="M 720.4 1026 C 721.5 1023.6 727 1023.1 726.1 1026.4 C 725.5 1028.7 719.7 1031.3 718 1034 L 724.6 1034 M 729.2 1023.4 L 735.8 1023.4 L 728.2 1034" stroke-width="1.9" fill="none"/>
<path d="M 581.7 1079.8 C 582.8 1077.4 588.3 1076.9 587.4 1080.2 C 586.8 1082.5 581 1085.1 579.3 1087.8 L 585.9 1087.8 M 596.1 1080.4 C 596.9 1077.2 590.9 1076.9 590 1080.4 C 589.3 1083 594.3 1083 596.1 1080.4 C 594.8 1084.6 592 1087.8 588.9 1087.6" stroke-width="1.9" fill="none"/>
<path d="M 617 1079.8 C 618.1 1077.4 623.6 1076.9 622.7 1080.2 C 622.1 1082.5 616.3 1085.1 614.6 1087.8 L 621.2 1087.8 M 627.7 1082.3 C 625.3 1081.8 626.5 1077.2 629 1077.2 C 631.7 1077.2 630.8 1081.8 627.7 1082.3 C 623.9 1082.9 623.1 1087.8 626.3 1087.8 C 629.4 1087.8 631.1 1082.9 627.7 1082.3 Z" stroke-width="1.9" fill="none"/>
<path d="M 656.3 1079.8 C 657.4 1077.4 662.9 1076.9 662 1080.2 C 661.4 1082.5 655.6 1085.1 653.9 1087.8 L 660.5 1087.8 M 670.7 1078 C 668.5 1076.4 664.6 1079.3 663.3 1084.1 C 662.7 1086.7 664 1087.8 665.6 1087.8 C 667.7 1087.8 669.2 1086.2 669.6 1084.6 C 670.1 1082.5 668.7 1081.8 667.1 1081.8 C 665.5 1081.8 664.2 1083 663.3 1084.1" stroke-width="1.9" fill="none"/>
<path d="M 702.7 1078.5 C 704.7 1076.9 708.9 1077 707.9 1079.8 C 707.3 1081.8 704.8 1082.3 703.8 1082.3 C 707 1082.3 707.2 1084.1 706.7 1085.4 C 705.6 1088.3 700.8 1088.3 700.1 1086.4 M 715.8 1077.2 L 709 1084.6 L 716 1084.6 M 715.8 1077.2 L 712.8 1087.8" stroke-width="1.9" fill="none"/>
<line x1="600.2" y1="985.7" x2="595" y2="1002.7" stroke-width="1.3"/>
<line x1="673.5" y1="988.3" x2="682.7" y2="1006.6" stroke-width="1.3"/>
<line x1="567.5" y1="1006" x2="585.8" y2="1006" stroke-width="1.3"/>
<line x1="716.7" y1="1030.2" x2="691.8" y2="1036.8" stroke-width="1.3"/>
<line x1="597.6" y1="1073.4" x2="626.4" y2="1018.4" stroke-width="1.3"/>
<line x1="627.7" y1="1073.4" x2="644.7" y2="1018.4" stroke-width="1.3"/>
<line x1="702.3" y1="1074.7" x2="690.5" y2="1063" stroke-width="1.3"/>
<path d="M665 1111.5 C668 1108.5 675 1107.5 675.5 1110.5 C675.5 1114 672 1122 669 1126.5 C667 1129.5 662.5 1129.5 663 1126.5 C663.5 1124 667 1124.5 670 1126 M677 1116.5 C678 1115 679.5 1116 679 1118 L678 1124 M679 1118.5 C680.5 1115.5 685 1115 684.5 1118 L683.5 1124 M687.5 1116 C689 1117 689 1120 689.5 1124 C692.5 1121 695.5 1117.5 695.5 1115.5 M698.5 1120.5 C701.5 1120.5 704 1117.5 702 1116 C699 1115.5 697 1120 698.5 1123 C699.5 1125 703 1124 704.5 1122.5 M706.5 1116.5 C707.5 1115 709 1116 708.5 1118 L707.5 1124 M708.5 1118.5 C710 1115.5 714.5 1115 714 1118 L713 1124 M718.5 1110 L717 1123 C717 1124.5 719 1124.5 721 1122.5 M714.5 1115.8 L722 1115.5 M727 1115.8 C723.5 1115.8 723 1124 727 1124 C731 1124 731 1115.8 727 1115.8 Z M734 1116.5 L733 1124 M733.8 1118.5 C735.5 1115.5 739 1115 741 1116 C743 1117 744.5 1117 746 1115.5" stroke-width="1.7" fill="none"/>
<path d="M516.9 1137.2 L516.9 1155.6 M514 1137.2 L520 1137.2 M513.8 1155.6 L530.4 1155.6 L530.4 1152.1 M546.3 1150 L546.3 1144.5 L535.8 1144.5 L535.8 1155.6 L546.3 1155.6 L546.3 1153.1 M535.8 1150 L546.3 1150 M560.5 1147 L560.5 1144.5 L551 1144.5 L551 1150 L560.5 1150 L560.5 1155.6 L551 1155.6 L551 1153.1 M567 1137.2 L567 1155.6 M564 1137.2 L567 1137.2 M563.7 1155.6 L570.5 1155.6 M576.5 1144.5 L576.5 1155.6 M573.5 1144.5 L576.5 1144.5 M573 1155.6 L580 1155.6 M576.5 1138.7h.1 M594.2 1150 L594.2 1144.5 L583.4 1144.5 L583.4 1155.6 L594.2 1155.6 L594.2 1153.1 M583.4 1150 L594.2 1150 M608 1155.6 L617.7 1137.2 L627.5 1155.6 M611.5 1149 L624 1149 M606 1155.6 L611 1155.6 M624.5 1155.6 L629.5 1155.6 M634.5 1155.1h.6 M657.2 1140.2 L657.2 1137.2 L644.5 1137.2 L644.5 1146.3 L657.2 1146.3 L657.2 1155.6 L644.5 1155.6 L644.5 1152.6 M663.2 1137.2 L663.2 1155.6 M660.6 1137.2 L663.2 1137.2 M672 1144.5 L663.5 1150 L672.5 1155.6 M660.6 1155.6 L666 1155.6 M681.9 1144.5 L681.9 1155.6 M678.9 1144.5 L681.9 1144.5 M678.4 1155.6 L685.4 1155.6 M681.9 1138.7h.1 M692 1155.6 L692 1144.5 L702.5 1144.5 L702.5 1155.6 M689.5 1144.5 L692 1144.5 M689.5 1155.6 L694.5 1155.6 M700 1155.6 L705 1155.6 M709.5 1155.6 L709.5 1144.5 L719.5 1144.5 L719.5 1155.6 M707 1144.5 L709.5 1144.5 M707 1155.6 L712 1155.6 M717 1155.6 L722 1155.6 M735 1150 L735 1144.5 L724 1144.5 L724 1155.6 L735 1155.6 L735 1153.1 M724 1150 L735 1150 M741.5 1144.5 L741.5 1155.6 M741.5 1147.5 L744 1144.5 L749.1 1144.5 L749.1 1147 M738.9 1155.6 L744.5 1155.6 M738.9 1144.5 L741.5 1144.5" stroke-width="1.5" fill="none" stroke-linecap="square" stroke-linejoin="miter"/>
<path d="M388 1216 C385 1213 392 1211 396 1213 C400 1216 396 1222 390 1222 C398 1222 401 1228 396 1232 C391 1235 385 1232 386 1227 M391 1214 L390 1232 M402 1222 C404 1221 405 1223 405 1227 C405 1230 409 1230 411 1226 L412 1222 L412 1232 C412 1237 407 1238 405 1234" stroke-width="2.2" fill="none"/>
<path d="M453.5 1193.5 C448 1195 440 1203 439 1211 C438 1216 446 1214 449 1207 C452 1201 450 1198 446 1204 C441 1212 435 1225 429 1230 C426 1232 426 1229 430 1227 C438 1224 446 1223 452 1223 M460 1201 C459 1210 457 1222 453 1230 C448 1239 440 1242 437 1238 C434 1233 444 1226 455 1224 M601 1219 C596 1215 592 1222 596 1225 C599 1227 603 1222 604 1220 M594 1219 L603 1226 M617.7 1204.4 C616 1212 614 1220 611.4 1226.4 C606 1236 596 1243 590.5 1241 C586 1238 594 1230 612 1224 M630.3 1207.6 C628 1214 627 1220 625 1226.4 M625 1218 C631 1217 636 1217 641 1216 M640.7 1209.7 C639 1215 638 1220 636.5 1226.4" stroke-width="1.9" fill="none"/>
<g transform="translate(0 1226.6) scale(1 1.35) translate(0 -1226.6)"><path d="M479 1226 C482 1222 487 1218 486 1217 C483 1216 481 1224 486 1226 C490 1227 493 1221 496 1219 C499 1218 497 1226 494 1227 C499 1227 502 1220 505 1219 C508 1218 506 1226 503 1227 C508 1227 511 1221 515 1218 C512 1216 510 1225 515 1226 C520 1226 522 1219 525 1218 L524 1226 C526 1222 529 1218 532 1218 L531 1226 C533 1226 536 1222 538 1218 M539 1212 h.5 M538 1218 L537 1226 C540 1226 543 1221 547 1218 C544 1216 541 1226 547 1226 C551 1226 553 1222 556 1218 C560 1210 563 1204 560 1210 L555 1226 C558 1220 562 1217 565 1218 C567 1220 563 1224 566 1226 C570 1227 574 1225 578 1222" stroke-width="1.9" fill="none" vector-effect="non-scaling-stroke"/><path d="M653.3 1209.7 C648 1208 643 1214 645 1221 C647 1226 652 1224 655 1222 C659 1218 662 1212 662 1210 L659 1226 C661 1221 665 1218 667 1219 L666 1226 C669 1222 672 1218 674 1218 L673 1226 C676 1224 679 1219 681 1218 L680 1226 C683 1222 686 1218 689 1219 C691 1221 688 1225 692 1226 C695 1226 698 1220 700 1218 C697 1216 694 1226 700 1226 C704 1226 707 1220 710 1218 C714 1212 717 1206 715 1210 L711 1226 C713 1220 717 1217 720 1219 C722 1222 719 1226 723 1227 C726 1228 729 1227 730 1226" stroke-width="1.9" fill="none" vector-effect="non-scaling-stroke"/></g>
<path d="M468.3 1203.7 C467 1212 466 1220 464.7 1226.6" stroke-width="1.9" fill="none"/>
<path d="M488.5 1203.7 C482 1208 474 1213 469 1215.7 C472 1219 474 1225 479 1228 C490 1230 500 1226 505 1226" stroke-width="1.9" fill="none"/>
<path d="M690 1256 C686 1253 681 1258 682.5 1263 C684 1268 690 1266 692 1263 M688.5 1255 C691 1254 693 1255 692.5 1258 L691.5 1266.5 M697.5 1254 L696 1266 C696 1267.5 698 1267 699.5 1265.5 M694 1259 L700 1259 M703.5 1254 L702 1266 C702 1267.5 704 1267 705.5 1265.5 M700 1259 L706 1259 M710 1259 C707 1259 706.5 1266.5 710 1266.5 C713.5 1266.5 713.5 1259 710 1259 Z M716 1259.5 L715 1266.5 M715.8 1261.5 C717 1259 719.5 1258.5 721 1259.5 M723 1259.5 C724 1258.5 725 1259.5 724.5 1261 L723.8 1266.5 M724.5 1261.5 C726 1259 729.5 1258.5 729 1261 L728.3 1266.5 M732.5 1263 C735 1263 737 1260.5 735.5 1259.2 C733 1258.8 731 1263 732.5 1265.5 C733.5 1267 736 1266.5 737.5 1265 M739 1259.5 C739.5 1263 741 1266 743.5 1265 L745 1259.5 L743.5 1268 C743 1271.5 739.5 1272 739.5 1269.5 M749 1260 C746.5 1258.5 745.5 1262 748 1263 C750.5 1264 749.5 1267 746 1266.5" stroke-width="1.7" fill="none"/></g></svg></body></html>
